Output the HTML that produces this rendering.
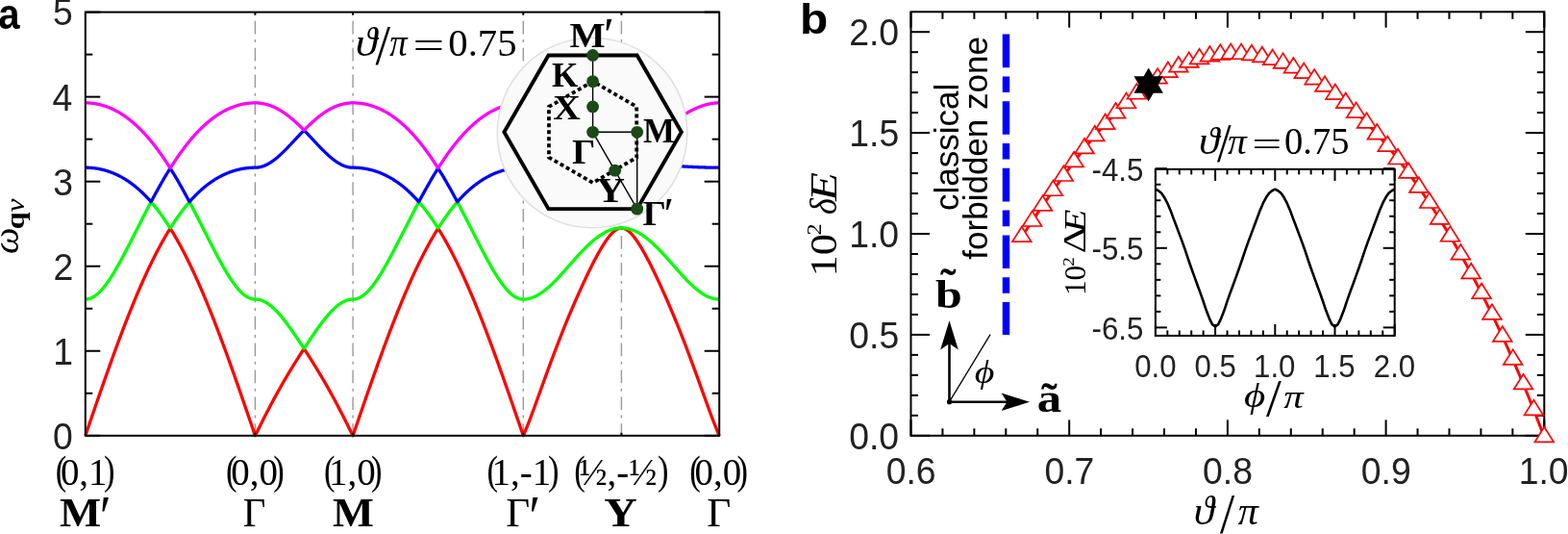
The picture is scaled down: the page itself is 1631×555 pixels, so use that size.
<!DOCTYPE html><html><head><meta charset="utf-8"><title>Figure</title><style>html,body{margin:0;padding:0;background:#fff;width:1631px;height:555px;overflow:hidden}svg{display:block}</style></head><body>
<svg width="1631" height="555" viewBox="0 0 1631 555">
<rect x="0" y="0" width="1631" height="555" fill="#fff"/>
<line x1="265.4" y1="13.6" x2="265.4" y2="452.8" stroke="#9a9a9a" stroke-width="1.4" stroke-dasharray="13.7 5.5 3 5.7" stroke-dashoffset="19.7"/>
<line x1="367.1" y1="13.6" x2="367.1" y2="452.8" stroke="#9a9a9a" stroke-width="1.4" stroke-dasharray="13.7 5.5 3 5.7" stroke-dashoffset="19.7"/>
<line x1="544.3" y1="13.6" x2="544.3" y2="452.8" stroke="#9a9a9a" stroke-width="1.4" stroke-dasharray="13.7 5.5 3 5.7" stroke-dashoffset="19.7"/>
<line x1="646.4" y1="13.6" x2="646.4" y2="452.8" stroke="#9a9a9a" stroke-width="1.4" stroke-dasharray="13.7 5.5 3 5.7" stroke-dashoffset="19.7"/>
<g fill="none" stroke-width="3.3" stroke-linejoin="round" stroke-linecap="butt">
<path d="M88.8 452.8 L89.24 451.51 L89.69 450.21 L90.13 448.92 L90.57 447.62 L91.01 446.33 L91.46 445.03 L91.9 443.74 L92.34 442.44 L92.78 441.15 L93.23 439.86 L93.67 438.56 L94.11 437.27 L94.55 435.98 L95 434.69 L95.44 433.4 L95.88 432.11 L96.32 430.82 L96.77 429.53 L97.21 428.24 L97.65 426.95 L98.09 425.66 L98.54 424.38 L98.98 423.09 L99.42 421.81 L99.87 420.52 L100.31 419.24 L100.75 417.96 L101.19 416.68 L101.64 415.4 L102.08 414.12 L102.52 412.84 L102.96 411.57 L103.41 410.29 L103.85 409.02 L104.29 407.74 L104.73 406.47 L105.18 405.2 L105.62 403.93 L106.06 402.66 L106.5 401.4 L106.95 400.13 L107.39 398.87 L107.83 397.61 L108.27 396.35 L108.72 395.09 L109.16 393.83 L109.6 392.58 L110.05 391.32 L110.49 390.07 L110.93 388.82 L111.37 387.57 L111.82 386.33 L112.26 385.08 L112.7 383.84 L113.14 382.6 L113.59 381.36 L114.03 380.12 L114.47 378.89 L114.91 377.66 L115.36 376.43 L115.8 375.2 L116.24 373.97 L116.68 372.75 L117.13 371.52 L117.57 370.31 L118.01 369.09 L118.45 367.87 L118.9 366.66 L119.34 365.45 L119.78 364.24 L120.23 363.04 L120.67 361.83 L121.11 360.63 L121.55 359.44 L122 358.24 L122.44 357.05 L122.88 355.86 L123.32 354.67 L123.77 353.49 L124.21 352.3 L124.65 351.13 L125.09 349.95 L125.54 348.78 L125.98 347.6 L126.42 346.44 L126.86 345.27 L127.31 344.11 L127.75 342.95 L128.19 341.79 L128.63 340.64 L129.08 339.49 L129.52 338.34 L129.96 337.2 L130.41 336.06 L130.85 334.92 L131.29 333.79 L131.73 332.66 L132.18 331.53 L132.62 330.4 L133.06 329.28 L133.5 328.16 L133.95 327.05 L134.39 325.94 L134.83 324.83 L135.27 323.72 L135.72 322.62 L136.16 321.52 L136.6 320.43 L137.04 319.34 L137.49 318.25 L137.93 317.17 L138.37 316.09 L138.81 315.01 L139.26 313.94 L139.7 312.87 L140.14 311.8 L140.58 310.74 L141.03 309.68 L141.47 308.63 L141.91 307.57 L142.36 306.53 L142.8 305.48 L143.24 304.44 L143.68 303.41 L144.13 302.38 L144.57 301.35 L145.01 300.32 L145.45 299.3 L145.9 298.29 L146.34 297.27 L146.78 296.26 L147.22 295.26 L147.67 294.26 L148.11 293.26 L148.55 292.27 L148.99 291.28 L149.44 290.29 L149.88 289.31 L150.32 288.34 L150.76 287.36 L151.21 286.4 L151.65 285.43 L152.09 284.47 L152.54 283.52 L152.98 282.56 L153.42 281.62 L153.86 280.67 L154.31 279.73 L154.75 278.8 L155.19 277.87 L155.63 276.94 L156.08 276.02 L156.52 275.1 L156.96 274.19 L157.4 273.28 L157.85 272.37 L158.29 271.47 L158.73 270.57 L159.17 269.68 L159.62 268.79 L160.06 267.91 L160.5 267.03 L160.94 266.16 L161.39 265.29 L161.83 264.42 L162.27 263.56 L162.72 262.7 L163.16 261.85 L163.6 261 L164.04 260.16 L164.49 259.32 L164.93 258.48 L165.37 257.65 L165.81 256.82 L166.26 256 L166.7 255.19 L167.14 254.37 L167.58 253.56 L168.03 252.76 L168.47 251.96 L168.91 251.17 L169.35 250.38 L169.8 249.59 L170.24 248.81 L170.68 248.03 L171.12 247.26 L171.57 246.49 L172.01 245.73 L172.45 244.97 L172.9 244.22 L173.34 243.47 L173.78 242.72 L174.22 241.98 L174.67 241.25 L175.11 240.51 L175.55 239.79 L175.99 239.06 L176.44 238.35 L176.88 237.63 L177.32 237.63 L177.76 238.35 L178.21 239.06 L178.65 239.79 L179.09 240.51 L179.53 241.25 L179.98 241.98 L180.42 242.72 L180.86 243.47 L181.3 244.22 L181.75 244.97 L182.19 245.73 L182.63 246.49 L183.08 247.26 L183.52 248.03 L183.96 248.81 L184.4 249.59 L184.85 250.38 L185.29 251.17 L185.73 251.96 L186.17 252.76 L186.62 253.56 L187.06 254.37 L187.5 255.19 L187.94 256 L188.39 256.82 L188.83 257.65 L189.27 258.48 L189.71 259.32 L190.16 260.16 L190.6 261 L191.04 261.85 L191.48 262.7 L191.93 263.56 L192.37 264.42 L192.81 265.29 L193.26 266.16 L193.7 267.03 L194.14 267.91 L194.58 268.79 L195.03 269.68 L195.47 270.57 L195.91 271.47 L196.35 272.37 L196.8 273.28 L197.24 274.19 L197.68 275.1 L198.12 276.02 L198.57 276.94 L199.01 277.87 L199.45 278.8 L199.89 279.73 L200.34 280.67 L200.78 281.62 L201.22 282.56 L201.66 283.52 L202.11 284.47 L202.55 285.43 L202.99 286.4 L203.44 287.36 L203.88 288.34 L204.32 289.31 L204.76 290.29 L205.21 291.28 L205.65 292.27 L206.09 293.26 L206.53 294.26 L206.98 295.26 L207.42 296.26 L207.86 297.27 L208.3 298.29 L208.75 299.3 L209.19 300.32 L209.63 301.35 L210.07 302.38 L210.52 303.41 L210.96 304.44 L211.4 305.48 L211.84 306.53 L212.29 307.57 L212.73 308.63 L213.17 309.68 L213.62 310.74 L214.06 311.8 L214.5 312.87 L214.94 313.94 L215.39 315.01 L215.83 316.09 L216.27 317.17 L216.71 318.25 L217.16 319.34 L217.6 320.43 L218.04 321.52 L218.48 322.62 L218.93 323.72 L219.37 324.83 L219.81 325.94 L220.25 327.05 L220.7 328.16 L221.14 329.28 L221.58 330.4 L222.02 331.53 L222.47 332.66 L222.91 333.79 L223.35 334.92 L223.79 336.06 L224.24 337.2 L224.68 338.34 L225.12 339.49 L225.57 340.64 L226.01 341.79 L226.45 342.95 L226.89 344.11 L227.34 345.27 L227.78 346.44 L228.22 347.6 L228.66 348.78 L229.11 349.95 L229.55 351.13 L229.99 352.3 L230.43 353.49 L230.88 354.67 L231.32 355.86 L231.76 357.05 L232.2 358.24 L232.65 359.44 L233.09 360.63 L233.53 361.83 L233.97 363.04 L234.42 364.24 L234.86 365.45 L235.3 366.66 L235.75 367.87 L236.19 369.09 L236.63 370.31 L237.07 371.52 L237.52 372.75 L237.96 373.97 L238.4 375.2 L238.84 376.43 L239.29 377.66 L239.73 378.89 L240.17 380.12 L240.61 381.36 L241.06 382.6 L241.5 383.84 L241.94 385.08 L242.38 386.33 L242.83 387.57 L243.27 388.82 L243.71 390.07 L244.15 391.32 L244.6 392.58 L245.04 393.83 L245.48 395.09 L245.93 396.35 L246.37 397.61 L246.81 398.87 L247.25 400.13 L247.7 401.4 L248.14 402.66 L248.58 403.93 L249.02 405.2 L249.47 406.47 L249.91 407.74 L250.35 409.02 L250.79 410.29 L251.24 411.57 L251.68 412.84 L252.12 414.12 L252.56 415.4 L253.01 416.68 L253.45 417.96 L253.89 419.24 L254.33 420.52 L254.78 421.81 L255.22 423.09 L255.66 424.38 L256.11 425.66 L256.55 426.95 L256.99 428.24 L257.43 429.53 L257.88 430.82 L258.32 432.11 L258.76 433.4 L259.2 434.69 L259.65 435.98 L260.09 437.27 L260.53 438.56 L260.97 439.86 L261.42 441.15 L261.86 442.44 L262.3 443.74 L262.74 445.03 L263.19 446.33 L263.63 447.62 L264.07 448.92 L264.51 450.21 L264.96 451.51 L265.4 452.8 L265.65 452.29 L265.91 451.78 L266.16 451.27 L266.42 450.76 L266.67 450.25 L266.93 449.74 L267.18 449.23 L267.44 448.73 L267.69 448.22 L267.95 447.71 L268.2 447.2 L268.46 446.69 L268.71 446.18 L268.97 445.67 L269.22 445.17 L269.48 444.66 L269.73 444.15 L269.99 443.64 L270.24 443.14 L270.5 442.63 L270.75 442.12 L271.01 441.62 L271.26 441.11 L271.52 440.61 L271.77 440.1 L272.03 439.6 L272.28 439.09 L272.54 438.59 L272.79 438.08 L273.05 437.58 L273.3 437.08 L273.56 436.58 L273.81 436.07 L274.07 435.57 L274.32 435.07 L274.58 434.57 L274.83 434.07 L275.09 433.57 L275.34 433.07 L275.6 432.57 L275.85 432.08 L276.11 431.58 L276.36 431.08 L276.62 430.59 L276.87 430.09 L277.12 429.6 L277.38 429.1 L277.63 428.61 L277.89 428.11 L278.14 427.62 L278.4 427.13 L278.65 426.64 L278.91 426.15 L279.16 425.66 L279.42 425.17 L279.67 424.68 L279.93 424.19 L280.18 423.71 L280.44 423.22 L280.69 422.73 L280.95 422.25 L281.2 421.77 L281.46 421.28 L281.71 420.8 L281.97 420.32 L282.22 419.84 L282.48 419.36 L282.73 418.88 L282.99 418.4 L283.24 417.92 L283.5 417.44 L283.75 416.97 L284.01 416.49 L284.26 416.02 L284.52 415.54 L284.77 415.07 L285.03 414.6 L285.28 414.13 L285.54 413.66 L285.79 413.19 L286.05 412.72 L286.3 412.25 L286.56 411.78 L286.81 411.31 L287.07 410.85 L287.32 410.38 L287.58 409.92 L287.83 409.46 L288.08 408.99 L288.34 408.53 L288.59 408.07 L288.85 407.61 L289.1 407.15 L289.36 406.7 L289.61 406.24 L289.87 405.78 L290.12 405.33 L290.38 404.87 L290.63 404.42 L290.89 403.97 L291.14 403.51 L291.4 403.06 L291.65 402.61 L291.91 402.16 L292.16 401.71 L292.42 401.27 L292.67 400.82 L292.93 400.37 L293.18 399.93 L293.44 399.48 L293.69 399.04 L293.95 398.6 L294.2 398.15 L294.46 397.71 L294.71 397.27 L294.97 396.83 L295.22 396.39 L295.48 395.96 L295.73 395.52 L295.99 395.08 L296.24 394.65 L296.5 394.21 L296.75 393.78 L297.01 393.34 L297.26 392.91 L297.52 392.48 L297.77 392.05 L298.03 391.62 L298.28 391.19 L298.54 390.76 L298.79 390.33 L299.05 389.9 L299.3 389.48 L299.55 389.05 L299.81 388.62 L300.06 388.2 L300.32 387.77 L300.57 387.35 L300.83 386.93 L301.08 386.51 L301.34 386.08 L301.59 385.66 L301.85 385.24 L302.1 384.82 L302.36 384.4 L302.61 383.99 L302.87 383.57 L303.12 383.15 L303.38 382.74 L303.63 382.32 L303.89 381.9 L304.14 381.49 L304.4 381.07 L304.65 380.66 L304.91 380.25 L305.16 379.84 L305.42 379.42 L305.67 379.01 L305.93 378.6 L306.18 378.19 L306.44 377.78 L306.69 377.37 L306.95 376.96 L307.2 376.55 L307.46 376.15 L307.71 375.74 L307.97 375.33 L308.22 374.93 L308.48 374.52 L308.73 374.12 L308.99 373.71 L309.24 373.31 L309.5 372.9 L309.75 372.5 L310.01 372.1 L310.26 371.69 L310.52 371.29 L310.77 370.89 L311.02 370.49 L311.28 370.09 L311.53 369.69 L311.79 369.29 L312.04 368.89 L312.3 368.49 L312.55 368.09 L312.81 367.69 L313.06 367.29 L313.32 366.89 L313.57 366.5 L313.83 366.1 L314.08 365.71 L314.34 365.31 L314.59 364.91 L314.85 364.52 L315.1 364.12 L315.36 363.73 L315.61 363.34 L315.87 362.94 L316.12 362.55 L316.38 362.55 L316.63 362.94 L316.89 363.34 L317.14 363.73 L317.4 364.12 L317.65 364.52 L317.91 364.91 L318.16 365.31 L318.42 365.71 L318.67 366.1 L318.93 366.5 L319.18 366.89 L319.44 367.29 L319.69 367.69 L319.95 368.09 L320.2 368.49 L320.46 368.89 L320.71 369.29 L320.97 369.69 L321.22 370.09 L321.48 370.49 L321.73 370.89 L321.98 371.29 L322.24 371.69 L322.49 372.1 L322.75 372.5 L323 372.9 L323.26 373.31 L323.51 373.71 L323.77 374.12 L324.02 374.52 L324.28 374.93 L324.53 375.33 L324.79 375.74 L325.04 376.15 L325.3 376.55 L325.55 376.96 L325.81 377.37 L326.06 377.78 L326.32 378.19 L326.57 378.6 L326.83 379.01 L327.08 379.42 L327.34 379.84 L327.59 380.25 L327.85 380.66 L328.1 381.07 L328.36 381.49 L328.61 381.9 L328.87 382.32 L329.12 382.74 L329.38 383.15 L329.63 383.57 L329.89 383.99 L330.14 384.4 L330.4 384.82 L330.65 385.24 L330.91 385.66 L331.16 386.08 L331.42 386.51 L331.67 386.93 L331.93 387.35 L332.18 387.77 L332.44 388.2 L332.69 388.62 L332.95 389.05 L333.2 389.48 L333.45 389.9 L333.71 390.33 L333.96 390.76 L334.22 391.19 L334.47 391.62 L334.73 392.05 L334.98 392.48 L335.24 392.91 L335.49 393.34 L335.75 393.78 L336 394.21 L336.26 394.65 L336.51 395.08 L336.77 395.52 L337.02 395.96 L337.28 396.39 L337.53 396.83 L337.79 397.27 L338.04 397.71 L338.3 398.15 L338.55 398.6 L338.81 399.04 L339.06 399.48 L339.32 399.93 L339.57 400.37 L339.83 400.82 L340.08 401.27 L340.34 401.71 L340.59 402.16 L340.85 402.61 L341.1 403.06 L341.36 403.51 L341.61 403.97 L341.87 404.42 L342.12 404.87 L342.38 405.33 L342.63 405.78 L342.89 406.24 L343.14 406.7 L343.4 407.15 L343.65 407.61 L343.91 408.07 L344.16 408.53 L344.42 408.99 L344.67 409.46 L344.92 409.92 L345.18 410.38 L345.43 410.85 L345.69 411.31 L345.94 411.78 L346.2 412.25 L346.45 412.72 L346.71 413.19 L346.96 413.66 L347.22 414.13 L347.47 414.6 L347.73 415.07 L347.98 415.54 L348.24 416.02 L348.49 416.49 L348.75 416.97 L349 417.44 L349.26 417.92 L349.51 418.4 L349.77 418.88 L350.02 419.36 L350.28 419.84 L350.53 420.32 L350.79 420.8 L351.04 421.28 L351.3 421.77 L351.55 422.25 L351.81 422.73 L352.06 423.22 L352.32 423.71 L352.57 424.19 L352.83 424.68 L353.08 425.17 L353.34 425.66 L353.59 426.15 L353.85 426.64 L354.1 427.13 L354.36 427.62 L354.61 428.11 L354.87 428.61 L355.12 429.1 L355.38 429.6 L355.63 430.09 L355.88 430.59 L356.14 431.08 L356.39 431.58 L356.65 432.08 L356.9 432.57 L357.16 433.07 L357.41 433.57 L357.67 434.07 L357.92 434.57 L358.18 435.07 L358.43 435.57 L358.69 436.07 L358.94 436.58 L359.2 437.08 L359.45 437.58 L359.71 438.08 L359.96 438.59 L360.22 439.09 L360.47 439.6 L360.73 440.1 L360.98 440.61 L361.24 441.11 L361.49 441.62 L361.75 442.12 L362 442.63 L362.26 443.14 L362.51 443.64 L362.77 444.15 L363.02 444.66 L363.28 445.17 L363.53 445.67 L363.79 446.18 L364.04 446.69 L364.3 447.2 L364.55 447.71 L364.81 448.22 L365.06 448.73 L365.32 449.23 L365.57 449.74 L365.83 450.25 L366.08 450.76 L366.34 451.27 L366.59 451.78 L366.85 452.29 L367.1 452.8 L367.54 451.51 L367.99 450.21 L368.43 448.92 L368.88 447.62 L369.32 446.33 L369.76 445.03 L370.21 443.74 L370.65 442.44 L371.1 441.15 L371.54 439.86 L371.99 438.56 L372.43 437.27 L372.87 435.98 L373.32 434.69 L373.76 433.4 L374.21 432.11 L374.65 430.82 L375.09 429.53 L375.54 428.24 L375.98 426.95 L376.43 425.66 L376.87 424.38 L377.31 423.09 L377.76 421.81 L378.2 420.52 L378.65 419.24 L379.09 417.96 L379.54 416.68 L379.98 415.4 L380.42 414.12 L380.87 412.84 L381.31 411.57 L381.76 410.29 L382.2 409.02 L382.64 407.74 L383.09 406.47 L383.53 405.2 L383.98 403.93 L384.42 402.66 L384.86 401.4 L385.31 400.13 L385.75 398.87 L386.2 397.61 L386.64 396.35 L387.08 395.09 L387.53 393.83 L387.97 392.58 L388.42 391.32 L388.86 390.07 L389.31 388.82 L389.75 387.57 L390.19 386.33 L390.64 385.08 L391.08 383.84 L391.53 382.6 L391.97 381.36 L392.41 380.12 L392.86 378.89 L393.3 377.66 L393.75 376.43 L394.19 375.2 L394.63 373.97 L395.08 372.75 L395.52 371.52 L395.97 370.31 L396.41 369.09 L396.86 367.87 L397.3 366.66 L397.74 365.45 L398.19 364.24 L398.63 363.04 L399.08 361.83 L399.52 360.63 L399.96 359.44 L400.41 358.24 L400.85 357.05 L401.3 355.86 L401.74 354.67 L402.18 353.49 L402.63 352.3 L403.07 351.13 L403.52 349.95 L403.96 348.78 L404.41 347.6 L404.85 346.44 L405.29 345.27 L405.74 344.11 L406.18 342.95 L406.63 341.79 L407.07 340.64 L407.51 339.49 L407.96 338.34 L408.4 337.2 L408.85 336.06 L409.29 334.92 L409.73 333.79 L410.18 332.66 L410.62 331.53 L411.07 330.4 L411.51 329.28 L411.96 328.16 L412.4 327.05 L412.84 325.94 L413.29 324.83 L413.73 323.72 L414.18 322.62 L414.62 321.52 L415.06 320.43 L415.51 319.34 L415.95 318.25 L416.4 317.17 L416.84 316.09 L417.28 315.01 L417.73 313.94 L418.17 312.87 L418.62 311.8 L419.06 310.74 L419.51 309.68 L419.95 308.63 L420.39 307.57 L420.84 306.53 L421.28 305.48 L421.73 304.44 L422.17 303.41 L422.61 302.38 L423.06 301.35 L423.5 300.32 L423.95 299.3 L424.39 298.29 L424.83 297.27 L425.28 296.26 L425.72 295.26 L426.17 294.26 L426.61 293.26 L427.05 292.27 L427.5 291.28 L427.94 290.29 L428.39 289.31 L428.83 288.34 L429.28 287.36 L429.72 286.4 L430.16 285.43 L430.61 284.47 L431.05 283.52 L431.5 282.56 L431.94 281.62 L432.38 280.67 L432.83 279.73 L433.27 278.8 L433.72 277.87 L434.16 276.94 L434.6 276.02 L435.05 275.1 L435.49 274.19 L435.94 273.28 L436.38 272.37 L436.83 271.47 L437.27 270.57 L437.71 269.68 L438.16 268.79 L438.6 267.91 L439.05 267.03 L439.49 266.16 L439.93 265.29 L440.38 264.42 L440.82 263.56 L441.27 262.7 L441.71 261.85 L442.15 261 L442.6 260.16 L443.04 259.32 L443.49 258.48 L443.93 257.65 L444.38 256.82 L444.82 256 L445.26 255.19 L445.71 254.37 L446.15 253.56 L446.6 252.76 L447.04 251.96 L447.48 251.17 L447.93 250.38 L448.37 249.59 L448.82 248.81 L449.26 248.03 L449.7 247.26 L450.15 246.49 L450.59 245.73 L451.04 244.97 L451.48 244.22 L451.93 243.47 L452.37 242.72 L452.81 241.98 L453.26 241.25 L453.7 240.51 L454.15 239.79 L454.59 239.06 L455.03 238.35 L455.48 237.63 L455.92 237.63 L456.37 238.35 L456.81 239.06 L457.25 239.79 L457.7 240.51 L458.14 241.25 L458.59 241.98 L459.03 242.72 L459.47 243.47 L459.92 244.22 L460.36 244.97 L460.81 245.73 L461.25 246.49 L461.7 247.26 L462.14 248.03 L462.58 248.81 L463.03 249.59 L463.47 250.38 L463.92 251.17 L464.36 251.96 L464.8 252.76 L465.25 253.56 L465.69 254.37 L466.14 255.19 L466.58 256 L467.02 256.82 L467.47 257.65 L467.91 258.48 L468.36 259.32 L468.8 260.16 L469.25 261 L469.69 261.85 L470.13 262.7 L470.58 263.56 L471.02 264.42 L471.47 265.29 L471.91 266.16 L472.35 267.03 L472.8 267.91 L473.24 268.79 L473.69 269.68 L474.13 270.57 L474.57 271.47 L475.02 272.37 L475.46 273.28 L475.91 274.19 L476.35 275.1 L476.8 276.02 L477.24 276.94 L477.68 277.87 L478.13 278.8 L478.57 279.73 L479.02 280.67 L479.46 281.62 L479.9 282.56 L480.35 283.52 L480.79 284.47 L481.24 285.43 L481.68 286.4 L482.12 287.36 L482.57 288.34 L483.01 289.31 L483.46 290.29 L483.9 291.28 L484.35 292.27 L484.79 293.26 L485.23 294.26 L485.68 295.26 L486.12 296.26 L486.57 297.27 L487.01 298.29 L487.45 299.3 L487.9 300.32 L488.34 301.35 L488.79 302.38 L489.23 303.41 L489.67 304.44 L490.12 305.48 L490.56 306.53 L491.01 307.57 L491.45 308.63 L491.89 309.68 L492.34 310.74 L492.78 311.8 L493.23 312.87 L493.67 313.94 L494.12 315.01 L494.56 316.09 L495 317.17 L495.45 318.25 L495.89 319.34 L496.34 320.43 L496.78 321.52 L497.22 322.62 L497.67 323.72 L498.11 324.83 L498.56 325.94 L499 327.05 L499.44 328.16 L499.89 329.28 L500.33 330.4 L500.78 331.53 L501.22 332.66 L501.67 333.79 L502.11 334.92 L502.55 336.06 L503 337.2 L503.44 338.34 L503.89 339.49 L504.33 340.64 L504.77 341.79 L505.22 342.95 L505.66 344.11 L506.11 345.27 L506.55 346.44 L506.99 347.6 L507.44 348.78 L507.88 349.95 L508.33 351.13 L508.77 352.3 L509.22 353.49 L509.66 354.67 L510.1 355.86 L510.55 357.05 L510.99 358.24 L511.44 359.44 L511.88 360.63 L512.32 361.83 L512.77 363.04 L513.21 364.24 L513.66 365.45 L514.1 366.66 L514.54 367.87 L514.99 369.09 L515.43 370.31 L515.88 371.52 L516.32 372.75 L516.77 373.97 L517.21 375.2 L517.65 376.43 L518.1 377.66 L518.54 378.89 L518.99 380.12 L519.43 381.36 L519.87 382.6 L520.32 383.84 L520.76 385.08 L521.21 386.33 L521.65 387.57 L522.09 388.82 L522.54 390.07 L522.98 391.32 L523.43 392.58 L523.87 393.83 L524.32 395.09 L524.76 396.35 L525.2 397.61 L525.65 398.87 L526.09 400.13 L526.54 401.4 L526.98 402.66 L527.42 403.93 L527.87 405.2 L528.31 406.47 L528.76 407.74 L529.2 409.02 L529.64 410.29 L530.09 411.57 L530.53 412.84 L530.98 414.12 L531.42 415.4 L531.86 416.68 L532.31 417.96 L532.75 419.24 L533.2 420.52 L533.64 421.81 L534.09 423.09 L534.53 424.38 L534.97 425.66 L535.42 426.95 L535.86 428.24 L536.31 429.53 L536.75 430.82 L537.19 432.11 L537.64 433.4 L538.08 434.69 L538.53 435.98 L538.97 437.27 L539.41 438.56 L539.86 439.86 L540.3 441.15 L540.75 442.44 L541.19 443.74 L541.64 445.03 L542.08 446.33 L542.52 447.62 L542.97 448.92 L543.41 450.21 L543.86 451.51 L544.3 452.8 L544.56 452.22 L544.81 451.63 L545.07 451.03 L545.32 450.43 L545.58 449.83 L545.84 449.22 L546.09 448.61 L546.35 447.99 L546.6 447.37 L546.86 446.75 L547.11 446.13 L547.37 445.5 L547.63 444.87 L547.88 444.23 L548.14 443.6 L548.39 442.96 L548.65 442.31 L548.91 441.67 L549.16 441.02 L549.42 440.37 L549.67 439.72 L549.93 439.06 L550.19 438.4 L550.44 437.74 L550.7 437.08 L550.95 436.41 L551.21 435.75 L551.46 435.08 L551.72 434.41 L551.98 433.73 L552.23 433.06 L552.49 432.38 L552.74 431.7 L553 431.02 L553.26 430.34 L553.51 429.66 L553.77 428.98 L554.02 428.29 L554.28 427.6 L554.54 426.91 L554.79 426.22 L555.05 425.53 L555.3 424.84 L555.56 424.14 L555.82 423.45 L556.07 422.75 L556.33 422.06 L556.58 421.36 L556.84 420.66 L557.09 419.96 L557.35 419.26 L557.61 418.56 L557.86 417.86 L558.12 417.15 L558.37 416.45 L558.63 415.74 L558.89 415.04 L559.14 414.34 L559.4 413.63 L559.65 412.92 L559.91 412.22 L560.17 411.51 L560.42 410.8 L560.68 410.1 L560.93 409.39 L561.19 408.68 L561.44 407.97 L561.7 407.26 L561.96 406.56 L562.21 405.85 L562.47 405.14 L562.72 404.43 L562.98 403.72 L563.24 403.01 L563.49 402.3 L563.75 401.6 L564 400.89 L564.26 400.18 L564.52 399.47 L564.77 398.76 L565.03 398.06 L565.28 397.35 L565.54 396.64 L565.79 395.94 L566.05 395.23 L566.31 394.53 L566.56 393.82 L566.82 393.11 L567.07 392.41 L567.33 391.71 L567.59 391 L567.84 390.3 L568.1 389.6 L568.35 388.9 L568.61 388.19 L568.87 387.49 L569.12 386.79 L569.38 386.09 L569.63 385.39 L569.89 384.7 L570.14 384 L570.4 383.3 L570.66 382.61 L570.91 381.91 L571.17 381.22 L571.42 380.52 L571.68 379.83 L571.94 379.14 L572.19 378.45 L572.45 377.75 L572.7 377.06 L572.96 376.38 L573.22 375.69 L573.47 375 L573.73 374.31 L573.98 373.63 L574.24 372.94 L574.49 372.26 L574.75 371.58 L575.01 370.89 L575.26 370.21 L575.52 369.53 L575.77 368.85 L576.03 368.18 L576.29 367.5 L576.54 366.82 L576.8 366.15 L577.05 365.47 L577.31 364.8 L577.57 364.13 L577.82 363.46 L578.08 362.79 L578.33 362.12 L578.59 361.45 L578.85 360.78 L579.1 360.12 L579.36 359.45 L579.61 358.79 L579.87 358.12 L580.12 357.46 L580.38 356.8 L580.64 356.14 L580.89 355.48 L581.15 354.83 L581.4 354.17 L581.66 353.51 L581.92 352.86 L582.17 352.21 L582.43 351.55 L582.68 350.9 L582.94 350.25 L583.2 349.6 L583.45 348.96 L583.71 348.31 L583.96 347.66 L584.22 347.02 L584.47 346.38 L584.73 345.73 L584.99 345.09 L585.24 344.45 L585.5 343.81 L585.75 343.17 L586.01 342.54 L586.27 341.9 L586.52 341.27 L586.78 340.63 L587.03 340 L587.29 339.37 L587.55 338.74 L587.8 338.11 L588.06 337.48 L588.31 336.85 L588.57 336.23 L588.82 335.6 L589.08 334.98 L589.34 334.35 L589.59 333.73 L589.85 333.11 L590.1 332.49 L590.36 331.87 L590.62 331.26 L590.87 330.64 L591.13 330.02 L591.38 329.41 L591.64 328.8 L591.9 328.18 L592.15 327.57 L592.41 326.96 L592.66 326.35 L592.92 325.74 L593.17 325.14 L593.43 324.53 L593.69 323.93 L593.94 323.32 L594.2 322.72 L594.45 322.12 L594.71 321.52 L594.97 320.92 L595.22 320.32 L595.48 319.72 L595.73 319.12 L595.99 318.53 L596.25 317.93 L596.5 317.34 L596.76 316.75 L597.01 316.16 L597.27 315.56 L597.53 314.98 L597.78 314.39 L598.04 313.8 L598.29 313.21 L598.55 312.63 L598.8 312.04 L599.06 311.46 L599.32 310.88 L599.57 310.3 L599.83 309.71 L600.08 309.14 L600.34 308.56 L600.6 307.98 L600.85 307.4 L601.11 306.83 L601.36 306.25 L601.62 305.68 L601.88 305.11 L602.13 304.54 L602.39 303.97 L602.64 303.4 L602.9 302.83 L603.15 302.26 L603.41 301.7 L603.67 301.13 L603.92 300.57 L604.18 300 L604.43 299.44 L604.69 298.88 L604.95 298.32 L605.2 297.76 L605.46 297.2 L605.71 296.65 L605.97 296.09 L606.23 295.54 L606.48 294.98 L606.74 294.43 L606.99 293.88 L607.25 293.33 L607.5 292.78 L607.76 292.23 L608.02 291.69 L608.27 291.14 L608.53 290.6 L608.78 290.05 L609.04 289.51 L609.3 288.97 L609.55 288.43 L609.81 287.89 L610.06 287.35 L610.32 286.82 L610.58 286.28 L610.83 285.75 L611.09 285.22 L611.34 284.69 L611.6 284.16 L611.85 283.63 L612.11 283.1 L612.37 282.57 L612.62 282.05 L612.88 281.53 L613.13 281 L613.39 280.48 L613.65 279.96 L613.9 279.45 L614.16 278.93 L614.41 278.41 L614.67 277.9 L614.93 277.39 L615.18 276.88 L615.44 276.37 L615.69 275.86 L615.95 275.35 L616.21 274.85 L616.46 274.35 L616.72 273.85 L616.97 273.35 L617.23 272.85 L617.48 272.35 L617.74 271.86 L618 271.36 L618.25 270.87 L618.51 270.38 L618.76 269.9 L619.02 269.41 L619.28 268.93 L619.53 268.44 L619.79 267.96 L620.04 267.48 L620.3 267.01 L620.56 266.53 L620.81 266.06 L621.07 265.59 L621.32 265.12 L621.58 264.66 L621.83 264.19 L622.09 263.73 L622.35 263.27 L622.6 262.81 L622.86 262.36 L623.11 261.9 L623.37 261.45 L623.63 261.01 L623.88 260.56 L624.14 260.12 L624.39 259.68 L624.65 259.24 L624.91 258.8 L625.16 258.37 L625.42 257.94 L625.67 257.51 L625.93 257.08 L626.18 256.66 L626.44 256.24 L626.7 255.82 L626.95 255.41 L627.21 255 L627.46 254.59 L627.72 254.19 L627.98 253.79 L628.23 253.39 L628.49 252.99 L628.74 252.6 L629 252.21 L629.26 251.82 L629.51 251.44 L629.77 251.06 L630.02 250.69 L630.28 250.32 L630.53 249.95 L630.79 249.58 L631.05 249.22 L631.3 248.86 L631.56 248.51 L631.81 248.16 L632.07 247.82 L632.33 247.47 L632.58 247.14 L632.84 246.8 L633.09 246.47 L633.35 246.15 L633.61 245.83 L633.86 245.51 L634.12 245.2 L634.37 244.89 L634.63 244.59 L634.88 244.29 L635.14 244 L635.4 243.71 L635.65 243.43 L635.91 243.15 L636.16 242.87 L636.42 242.6 L636.68 242.34 L636.93 242.08 L637.19 241.83 L637.44 241.58 L637.7 241.34 L637.96 241.1 L638.21 240.87 L638.47 240.64 L638.72 240.43 L638.98 240.21 L639.24 240 L639.49 239.8 L639.75 239.61 L640 239.42 L640.26 239.23 L640.51 239.05 L640.77 238.88 L641.03 238.72 L641.28 238.56 L641.54 238.41 L641.79 238.27 L642.05 238.13 L642.31 238 L642.56 237.88 L642.82 237.76 L643.07 237.65 L643.33 237.55 L643.59 237.46 L643.84 237.37 L644.1 237.29 L644.35 237.22 L644.61 237.16 L644.86 237.11 L645.12 237.06 L645.38 237.02 L645.63 236.99 L645.89 236.97 L646.14 236.96 L646.4 236.95 L646.66 236.96 L646.91 236.97 L647.17 236.99 L647.42 237.02 L647.68 237.06 L647.93 237.11 L648.19 237.16 L648.44 237.22 L648.7 237.29 L648.95 237.37 L649.21 237.46 L649.46 237.55 L649.72 237.65 L649.97 237.76 L650.23 237.88 L650.48 238 L650.74 238.13 L650.99 238.27 L651.25 238.41 L651.5 238.56 L651.76 238.72 L652.01 238.88 L652.27 239.05 L652.52 239.23 L652.78 239.42 L653.03 239.61 L653.29 239.8 L653.54 240 L653.8 240.21 L654.05 240.43 L654.31 240.64 L654.56 240.87 L654.82 241.1 L655.07 241.34 L655.33 241.58 L655.58 241.83 L655.84 242.08 L656.1 242.34 L656.35 242.6 L656.61 242.87 L656.86 243.15 L657.12 243.43 L657.37 243.71 L657.63 244 L657.88 244.29 L658.14 244.59 L658.39 244.89 L658.65 245.2 L658.9 245.51 L659.16 245.83 L659.41 246.15 L659.67 246.47 L659.92 246.8 L660.18 247.14 L660.43 247.47 L660.69 247.82 L660.94 248.16 L661.2 248.51 L661.45 248.86 L661.71 249.22 L661.96 249.58 L662.22 249.95 L662.47 250.32 L662.73 250.69 L662.98 251.06 L663.24 251.44 L663.49 251.82 L663.75 252.21 L664 252.6 L664.26 252.99 L664.51 253.39 L664.77 253.79 L665.03 254.19 L665.28 254.59 L665.54 255 L665.79 255.41 L666.05 255.82 L666.3 256.24 L666.56 256.66 L666.81 257.08 L667.07 257.51 L667.32 257.94 L667.58 258.37 L667.83 258.8 L668.09 259.24 L668.34 259.68 L668.6 260.12 L668.85 260.56 L669.11 261.01 L669.36 261.45 L669.62 261.9 L669.87 262.36 L670.13 262.81 L670.38 263.27 L670.64 263.73 L670.89 264.19 L671.15 264.66 L671.4 265.12 L671.66 265.59 L671.91 266.06 L672.17 266.53 L672.42 267.01 L672.68 267.48 L672.93 267.96 L673.19 268.44 L673.44 268.93 L673.7 269.41 L673.95 269.9 L674.21 270.38 L674.47 270.87 L674.72 271.36 L674.98 271.86 L675.23 272.35 L675.49 272.85 L675.74 273.35 L676 273.85 L676.25 274.35 L676.51 274.85 L676.76 275.35 L677.02 275.86 L677.27 276.37 L677.53 276.88 L677.78 277.39 L678.04 277.9 L678.29 278.41 L678.55 278.93 L678.8 279.45 L679.06 279.96 L679.31 280.48 L679.57 281 L679.82 281.53 L680.08 282.05 L680.33 282.57 L680.59 283.1 L680.84 283.63 L681.1 284.16 L681.35 284.69 L681.61 285.22 L681.86 285.75 L682.12 286.28 L682.37 286.82 L682.63 287.35 L682.88 287.89 L683.14 288.43 L683.39 288.97 L683.65 289.51 L683.91 290.05 L684.16 290.6 L684.42 291.14 L684.67 291.69 L684.93 292.23 L685.18 292.78 L685.44 293.33 L685.69 293.88 L685.95 294.43 L686.2 294.98 L686.46 295.54 L686.71 296.09 L686.97 296.65 L687.22 297.2 L687.48 297.76 L687.73 298.32 L687.99 298.88 L688.24 299.44 L688.5 300 L688.75 300.57 L689.01 301.13 L689.26 301.7 L689.52 302.26 L689.77 302.83 L690.03 303.4 L690.28 303.97 L690.54 304.54 L690.79 305.11 L691.05 305.68 L691.3 306.25 L691.56 306.83 L691.81 307.4 L692.07 307.98 L692.32 308.56 L692.58 309.14 L692.84 309.71 L693.09 310.3 L693.35 310.88 L693.6 311.46 L693.86 312.04 L694.11 312.63 L694.37 313.21 L694.62 313.8 L694.88 314.39 L695.13 314.98 L695.39 315.56 L695.64 316.16 L695.9 316.75 L696.15 317.34 L696.41 317.93 L696.66 318.53 L696.92 319.12 L697.17 319.72 L697.43 320.32 L697.68 320.92 L697.94 321.52 L698.19 322.12 L698.45 322.72 L698.7 323.32 L698.96 323.93 L699.21 324.53 L699.47 325.14 L699.72 325.74 L699.98 326.35 L700.23 326.96 L700.49 327.57 L700.74 328.18 L701 328.8 L701.25 329.41 L701.51 330.02 L701.76 330.64 L702.02 331.26 L702.28 331.87 L702.53 332.49 L702.79 333.11 L703.04 333.73 L703.3 334.35 L703.55 334.98 L703.81 335.6 L704.06 336.23 L704.32 336.85 L704.57 337.48 L704.83 338.11 L705.08 338.74 L705.34 339.37 L705.59 340 L705.85 340.63 L706.1 341.27 L706.36 341.9 L706.61 342.54 L706.87 343.17 L707.12 343.81 L707.38 344.45 L707.63 345.09 L707.89 345.73 L708.14 346.38 L708.4 347.02 L708.65 347.66 L708.91 348.31 L709.16 348.96 L709.42 349.6 L709.67 350.25 L709.93 350.9 L710.18 351.55 L710.44 352.21 L710.69 352.86 L710.95 353.51 L711.21 354.17 L711.46 354.83 L711.72 355.48 L711.97 356.14 L712.23 356.8 L712.48 357.46 L712.74 358.12 L712.99 358.79 L713.25 359.45 L713.5 360.12 L713.76 360.78 L714.01 361.45 L714.27 362.12 L714.52 362.79 L714.78 363.46 L715.03 364.13 L715.29 364.8 L715.54 365.47 L715.8 366.15 L716.05 366.82 L716.31 367.5 L716.56 368.18 L716.82 368.85 L717.07 369.53 L717.33 370.21 L717.58 370.89 L717.84 371.58 L718.09 372.26 L718.35 372.94 L718.6 373.63 L718.86 374.31 L719.11 375 L719.37 375.69 L719.62 376.38 L719.88 377.06 L720.13 377.75 L720.39 378.45 L720.65 379.14 L720.9 379.83 L721.16 380.52 L721.41 381.22 L721.67 381.91 L721.92 382.61 L722.18 383.3 L722.43 384 L722.69 384.7 L722.94 385.39 L723.2 386.09 L723.45 386.79 L723.71 387.49 L723.96 388.19 L724.22 388.9 L724.47 389.6 L724.73 390.3 L724.98 391 L725.24 391.71 L725.49 392.41 L725.75 393.11 L726 393.82 L726.26 394.53 L726.51 395.23 L726.77 395.94 L727.02 396.64 L727.28 397.35 L727.53 398.06 L727.79 398.76 L728.04 399.47 L728.3 400.18 L728.55 400.89 L728.81 401.6 L729.06 402.3 L729.32 403.01 L729.57 403.72 L729.83 404.43 L730.09 405.14 L730.34 405.85 L730.6 406.56 L730.85 407.26 L731.11 407.97 L731.36 408.68 L731.62 409.39 L731.87 410.1 L732.13 410.8 L732.38 411.51 L732.64 412.22 L732.89 412.92 L733.15 413.63 L733.4 414.34 L733.66 415.04 L733.91 415.74 L734.17 416.45 L734.42 417.15 L734.68 417.86 L734.93 418.56 L735.19 419.26 L735.44 419.96 L735.7 420.66 L735.95 421.36 L736.21 422.06 L736.46 422.75 L736.72 423.45 L736.97 424.14 L737.23 424.84 L737.48 425.53 L737.74 426.22 L737.99 426.91 L738.25 427.6 L738.5 428.29 L738.76 428.98 L739.02 429.66 L739.27 430.34 L739.53 431.02 L739.78 431.7 L740.04 432.38 L740.29 433.06 L740.55 433.73 L740.8 434.41 L741.06 435.08 L741.31 435.75 L741.57 436.41 L741.82 437.08 L742.08 437.74 L742.33 438.4 L742.59 439.06 L742.84 439.72 L743.1 440.37 L743.35 441.02 L743.61 441.67 L743.86 442.31 L744.12 442.96 L744.37 443.6 L744.63 444.23 L744.88 444.87 L745.14 445.5 L745.39 446.13 L745.65 446.75 L745.9 447.37 L746.16 447.99 L746.41 448.61 L746.67 449.22 L746.92 449.83 L747.18 450.43 L747.43 451.03 L747.69 451.63 L747.94 452.22 L748.2 452.8" stroke="#ff0000"/>
<path d="M88.8 311.06 L89.24 311.05 L89.69 311.03 L90.13 310.99 L90.57 310.95 L91.01 310.88 L91.46 310.8 L91.9 310.71 L92.34 310.61 L92.78 310.49 L93.23 310.36 L93.67 310.21 L94.11 310.05 L94.55 309.87 L95 309.68 L95.44 309.48 L95.88 309.27 L96.32 309.04 L96.77 308.8 L97.21 308.54 L97.65 308.27 L98.09 307.99 L98.54 307.7 L98.98 307.39 L99.42 307.07 L99.87 306.74 L100.31 306.39 L100.75 306.04 L101.19 305.67 L101.64 305.28 L102.08 304.89 L102.52 304.49 L102.96 304.07 L103.41 303.64 L103.85 303.2 L104.29 302.75 L104.73 302.29 L105.18 301.81 L105.62 301.33 L106.06 300.83 L106.5 300.33 L106.95 299.81 L107.39 299.29 L107.83 298.75 L108.27 298.21 L108.72 297.65 L109.16 297.09 L109.6 296.51 L110.05 295.93 L110.49 295.34 L110.93 294.74 L111.37 294.12 L111.82 293.51 L112.26 292.88 L112.7 292.24 L113.14 291.6 L113.59 290.95 L114.03 290.29 L114.47 289.62 L114.91 288.95 L115.36 288.27 L115.8 287.58 L116.24 286.88 L116.68 286.18 L117.13 285.47 L117.57 284.76 L118.01 284.03 L118.45 283.31 L118.9 282.57 L119.34 281.83 L119.78 281.09 L120.23 280.33 L120.67 279.58 L121.11 278.82 L121.55 278.05 L122 277.28 L122.44 276.5 L122.88 275.72 L123.32 274.93 L123.77 274.14 L124.21 273.34 L124.65 272.54 L125.09 271.74 L125.54 270.93 L125.98 270.12 L126.42 269.31 L126.86 268.49 L127.31 267.67 L127.75 266.84 L128.19 266.01 L128.63 265.18 L129.08 264.35 L129.52 263.51 L129.96 262.67 L130.41 261.83 L130.85 260.98 L131.29 260.14 L131.73 259.29 L132.18 258.44 L132.62 257.58 L133.06 256.73 L133.5 255.87 L133.95 255.01 L134.39 254.15 L134.83 253.29 L135.27 252.43 L135.72 251.56 L136.16 250.7 L136.6 249.83 L137.04 248.96 L137.49 248.09 L137.93 247.22 L138.37 246.35 L138.81 245.48 L139.26 244.61 L139.7 243.74 L140.14 242.86 L140.58 241.99 L141.03 241.12 L141.47 240.24 L141.91 239.37 L142.36 238.5 L142.8 237.62 L143.24 236.75 L143.68 235.88 L144.13 235.01 L144.57 234.13 L145.01 233.26 L145.45 232.39 L145.9 231.52 L146.34 230.65 L146.78 229.78 L147.22 228.91 L147.67 228.05 L148.11 227.18 L148.55 226.31 L148.99 225.45 L149.44 224.59 L149.88 223.72 L150.32 222.86 L150.76 222 L151.21 221.14 L151.65 220.29 L152.09 219.43 L152.54 218.58 L152.98 217.73 L153.42 216.88 L153.86 216.03 L154.31 215.18 L154.75 214.33 L155.19 213.49 L155.63 212.65 L156.08 211.81 L156.52 210.97 L156.96 210.13 L157.4 210.17 L157.85 210.68 L158.29 211.2 L158.73 211.72 L159.17 212.25 L159.62 212.78 L160.06 213.31 L160.5 213.85 L160.94 214.4 L161.39 214.95 L161.83 215.5 L162.27 216.06 L162.72 216.62 L163.16 217.18 L163.6 217.75 L164.04 218.33 L164.49 218.91 L164.93 219.49 L165.37 220.08 L165.81 220.67 L166.26 221.26 L166.7 221.87 L167.14 222.47 L167.58 223.08 L168.03 223.7 L168.47 224.31 L168.91 224.94 L169.35 225.56 L169.8 226.2 L170.24 226.83 L170.68 227.47 L171.12 228.12 L171.57 228.77 L172.01 229.43 L172.45 230.08 L172.9 230.75 L173.34 231.42 L173.78 232.09 L174.22 232.77 L174.67 233.45 L175.11 234.13 L175.55 234.82 L175.99 235.52 L176.44 236.22 L176.88 236.92 L177.32 236.92 L177.76 236.22 L178.21 235.52 L178.65 234.82 L179.09 234.13 L179.53 233.45 L179.98 232.77 L180.42 232.09 L180.86 231.42 L181.3 230.75 L181.75 230.08 L182.19 229.43 L182.63 228.77 L183.08 228.12 L183.52 227.47 L183.96 226.83 L184.4 226.2 L184.85 225.56 L185.29 224.94 L185.73 224.31 L186.17 223.7 L186.62 223.08 L187.06 222.47 L187.5 221.87 L187.94 221.26 L188.39 220.67 L188.83 220.08 L189.27 219.49 L189.71 218.91 L190.16 218.33 L190.6 217.75 L191.04 217.18 L191.48 216.62 L191.93 216.06 L192.37 215.5 L192.81 214.95 L193.26 214.4 L193.7 213.85 L194.14 213.31 L194.58 212.78 L195.03 212.25 L195.47 211.72 L195.91 211.2 L196.35 210.68 L196.8 210.17 L197.24 210.13 L197.68 210.97 L198.12 211.81 L198.57 212.65 L199.01 213.49 L199.45 214.33 L199.89 215.18 L200.34 216.03 L200.78 216.88 L201.22 217.73 L201.66 218.58 L202.11 219.43 L202.55 220.29 L202.99 221.14 L203.44 222 L203.88 222.86 L204.32 223.72 L204.76 224.59 L205.21 225.45 L205.65 226.31 L206.09 227.18 L206.53 228.05 L206.98 228.91 L207.42 229.78 L207.86 230.65 L208.3 231.52 L208.75 232.39 L209.19 233.26 L209.63 234.13 L210.07 235.01 L210.52 235.88 L210.96 236.75 L211.4 237.62 L211.84 238.5 L212.29 239.37 L212.73 240.24 L213.17 241.12 L213.62 241.99 L214.06 242.86 L214.5 243.74 L214.94 244.61 L215.39 245.48 L215.83 246.35 L216.27 247.22 L216.71 248.09 L217.16 248.96 L217.6 249.83 L218.04 250.7 L218.48 251.56 L218.93 252.43 L219.37 253.29 L219.81 254.15 L220.25 255.01 L220.7 255.87 L221.14 256.73 L221.58 257.58 L222.02 258.44 L222.47 259.29 L222.91 260.14 L223.35 260.98 L223.79 261.83 L224.24 262.67 L224.68 263.51 L225.12 264.35 L225.57 265.18 L226.01 266.01 L226.45 266.84 L226.89 267.67 L227.34 268.49 L227.78 269.31 L228.22 270.12 L228.66 270.93 L229.11 271.74 L229.55 272.54 L229.99 273.34 L230.43 274.14 L230.88 274.93 L231.32 275.72 L231.76 276.5 L232.2 277.28 L232.65 278.05 L233.09 278.82 L233.53 279.58 L233.97 280.33 L234.42 281.09 L234.86 281.83 L235.3 282.57 L235.75 283.31 L236.19 284.03 L236.63 284.76 L237.07 285.47 L237.52 286.18 L237.96 286.88 L238.4 287.58 L238.84 288.27 L239.29 288.95 L239.73 289.62 L240.17 290.29 L240.61 290.95 L241.06 291.6 L241.5 292.24 L241.94 292.88 L242.38 293.51 L242.83 294.12 L243.27 294.74 L243.71 295.34 L244.15 295.93 L244.6 296.51 L245.04 297.09 L245.48 297.65 L245.93 298.21 L246.37 298.75 L246.81 299.29 L247.25 299.81 L247.7 300.33 L248.14 300.83 L248.58 301.33 L249.02 301.81 L249.47 302.29 L249.91 302.75 L250.35 303.2 L250.79 303.64 L251.24 304.07 L251.68 304.49 L252.12 304.89 L252.56 305.28 L253.01 305.67 L253.45 306.04 L253.89 306.39 L254.33 306.74 L254.78 307.07 L255.22 307.39 L255.66 307.7 L256.11 307.99 L256.55 308.27 L256.99 308.54 L257.43 308.8 L257.88 309.04 L258.32 309.27 L258.76 309.48 L259.2 309.68 L259.65 309.87 L260.09 310.05 L260.53 310.21 L260.97 310.36 L261.42 310.49 L261.86 310.61 L262.3 310.71 L262.74 310.8 L263.19 310.88 L263.63 310.95 L264.07 310.99 L264.51 311.03 L264.96 311.05 L265.4 311.06 L265.65 311.06 L265.91 311.07 L266.16 311.07 L266.42 311.09 L266.67 311.1 L266.93 311.12 L267.18 311.14 L267.44 311.17 L267.69 311.2 L267.95 311.23 L268.2 311.27 L268.46 311.31 L268.71 311.35 L268.97 311.4 L269.22 311.45 L269.48 311.5 L269.73 311.56 L269.99 311.62 L270.24 311.68 L270.5 311.75 L270.75 311.82 L271.01 311.89 L271.26 311.97 L271.52 312.05 L271.77 312.13 L272.03 312.22 L272.28 312.31 L272.54 312.41 L272.79 312.5 L273.05 312.6 L273.3 312.71 L273.56 312.82 L273.81 312.93 L274.07 313.04 L274.32 313.16 L274.58 313.28 L274.83 313.4 L275.09 313.53 L275.34 313.66 L275.6 313.79 L275.85 313.93 L276.11 314.07 L276.36 314.21 L276.62 314.35 L276.87 314.5 L277.12 314.66 L277.38 314.81 L277.63 314.97 L277.89 315.13 L278.14 315.29 L278.4 315.46 L278.65 315.63 L278.91 315.8 L279.16 315.98 L279.42 316.16 L279.67 316.34 L279.93 316.53 L280.18 316.72 L280.44 316.91 L280.69 317.1 L280.95 317.3 L281.2 317.5 L281.46 317.7 L281.71 317.9 L281.97 318.11 L282.22 318.32 L282.48 318.54 L282.73 318.75 L282.99 318.97 L283.24 319.19 L283.5 319.42 L283.75 319.64 L284.01 319.87 L284.26 320.1 L284.52 320.34 L284.77 320.57 L285.03 320.81 L285.28 321.06 L285.54 321.3 L285.79 321.55 L286.05 321.8 L286.3 322.05 L286.56 322.3 L286.81 322.56 L287.07 322.82 L287.32 323.08 L287.58 323.34 L287.83 323.61 L288.08 323.88 L288.34 324.15 L288.59 324.42 L288.85 324.69 L289.1 324.97 L289.36 325.25 L289.61 325.53 L289.87 325.81 L290.12 326.1 L290.38 326.39 L290.63 326.68 L290.89 326.97 L291.14 327.26 L291.4 327.56 L291.65 327.85 L291.91 328.15 L292.16 328.45 L292.42 328.76 L292.67 329.06 L292.93 329.37 L293.18 329.68 L293.44 329.99 L293.69 330.3 L293.95 330.61 L294.2 330.93 L294.46 331.24 L294.71 331.56 L294.97 331.88 L295.22 332.2 L295.48 332.53 L295.73 332.85 L295.99 333.18 L296.24 333.5 L296.5 333.83 L296.75 334.16 L297.01 334.5 L297.26 334.83 L297.52 335.16 L297.77 335.5 L298.03 335.84 L298.28 336.18 L298.54 336.52 L298.79 336.86 L299.05 337.2 L299.3 337.55 L299.55 337.89 L299.81 338.24 L300.06 338.59 L300.32 338.94 L300.57 339.29 L300.83 339.64 L301.08 339.99 L301.34 340.34 L301.59 340.7 L301.85 341.05 L302.1 341.41 L302.36 341.77 L302.61 342.12 L302.87 342.48 L303.12 342.84 L303.38 343.2 L303.63 343.57 L303.89 343.93 L304.14 344.29 L304.4 344.66 L304.65 345.02 L304.91 345.39 L305.16 345.76 L305.42 346.13 L305.67 346.5 L305.93 346.87 L306.18 347.24 L306.44 347.61 L306.69 347.98 L306.95 348.35 L307.2 348.73 L307.46 349.1 L307.71 349.47 L307.97 349.85 L308.22 350.23 L308.48 350.6 L308.73 350.98 L308.99 351.36 L309.24 351.74 L309.5 352.12 L309.75 352.5 L310.01 352.88 L310.26 353.26 L310.52 353.64 L310.77 354.02 L311.02 354.4 L311.28 354.79 L311.53 355.17 L311.79 355.55 L312.04 355.94 L312.3 356.32 L312.55 356.71 L312.81 357.1 L313.06 357.48 L313.32 357.87 L313.57 358.26 L313.83 358.65 L314.08 359.03 L314.34 359.42 L314.59 359.81 L314.85 360.2 L315.1 360.59 L315.36 360.98 L315.61 361.37 L315.87 361.77 L316.12 362.16 L316.38 362.16 L316.63 361.77 L316.89 361.37 L317.14 360.98 L317.4 360.59 L317.65 360.2 L317.91 359.81 L318.16 359.42 L318.42 359.03 L318.67 358.65 L318.93 358.26 L319.18 357.87 L319.44 357.48 L319.69 357.1 L319.95 356.71 L320.2 356.32 L320.46 355.94 L320.71 355.55 L320.97 355.17 L321.22 354.79 L321.48 354.4 L321.73 354.02 L321.98 353.64 L322.24 353.26 L322.49 352.88 L322.75 352.5 L323 352.12 L323.26 351.74 L323.51 351.36 L323.77 350.98 L324.02 350.6 L324.28 350.23 L324.53 349.85 L324.79 349.47 L325.04 349.1 L325.3 348.73 L325.55 348.35 L325.81 347.98 L326.06 347.61 L326.32 347.24 L326.57 346.87 L326.83 346.5 L327.08 346.13 L327.34 345.76 L327.59 345.39 L327.85 345.02 L328.1 344.66 L328.36 344.29 L328.61 343.93 L328.87 343.57 L329.12 343.2 L329.38 342.84 L329.63 342.48 L329.89 342.12 L330.14 341.77 L330.4 341.41 L330.65 341.05 L330.91 340.7 L331.16 340.34 L331.42 339.99 L331.67 339.64 L331.93 339.29 L332.18 338.94 L332.44 338.59 L332.69 338.24 L332.95 337.89 L333.2 337.55 L333.45 337.2 L333.71 336.86 L333.96 336.52 L334.22 336.18 L334.47 335.84 L334.73 335.5 L334.98 335.16 L335.24 334.83 L335.49 334.5 L335.75 334.16 L336 333.83 L336.26 333.5 L336.51 333.18 L336.77 332.85 L337.02 332.53 L337.28 332.2 L337.53 331.88 L337.79 331.56 L338.04 331.24 L338.3 330.93 L338.55 330.61 L338.81 330.3 L339.06 329.99 L339.32 329.68 L339.57 329.37 L339.83 329.06 L340.08 328.76 L340.34 328.45 L340.59 328.15 L340.85 327.85 L341.1 327.56 L341.36 327.26 L341.61 326.97 L341.87 326.68 L342.12 326.39 L342.38 326.1 L342.63 325.81 L342.89 325.53 L343.14 325.25 L343.4 324.97 L343.65 324.69 L343.91 324.42 L344.16 324.15 L344.42 323.88 L344.67 323.61 L344.92 323.34 L345.18 323.08 L345.43 322.82 L345.69 322.56 L345.94 322.3 L346.2 322.05 L346.45 321.8 L346.71 321.55 L346.96 321.3 L347.22 321.06 L347.47 320.81 L347.73 320.57 L347.98 320.34 L348.24 320.1 L348.49 319.87 L348.75 319.64 L349 319.42 L349.26 319.19 L349.51 318.97 L349.77 318.75 L350.02 318.54 L350.28 318.32 L350.53 318.11 L350.79 317.9 L351.04 317.7 L351.3 317.5 L351.55 317.3 L351.81 317.1 L352.06 316.91 L352.32 316.72 L352.57 316.53 L352.83 316.34 L353.08 316.16 L353.34 315.98 L353.59 315.8 L353.85 315.63 L354.1 315.46 L354.36 315.29 L354.61 315.13 L354.87 314.97 L355.12 314.81 L355.38 314.66 L355.63 314.5 L355.88 314.35 L356.14 314.21 L356.39 314.07 L356.65 313.93 L356.9 313.79 L357.16 313.66 L357.41 313.53 L357.67 313.4 L357.92 313.28 L358.18 313.16 L358.43 313.04 L358.69 312.93 L358.94 312.82 L359.2 312.71 L359.45 312.6 L359.71 312.5 L359.96 312.41 L360.22 312.31 L360.47 312.22 L360.73 312.13 L360.98 312.05 L361.24 311.97 L361.49 311.89 L361.75 311.82 L362 311.75 L362.26 311.68 L362.51 311.62 L362.77 311.56 L363.02 311.5 L363.28 311.45 L363.53 311.4 L363.79 311.35 L364.04 311.31 L364.3 311.27 L364.55 311.23 L364.81 311.2 L365.06 311.17 L365.32 311.14 L365.57 311.12 L365.83 311.1 L366.08 311.09 L366.34 311.07 L366.59 311.07 L366.85 311.06 L367.1 311.06 L367.54 311.05 L367.99 311.03 L368.43 310.99 L368.88 310.95 L369.32 310.88 L369.76 310.8 L370.21 310.71 L370.65 310.61 L371.1 310.49 L371.54 310.36 L371.99 310.21 L372.43 310.05 L372.87 309.87 L373.32 309.68 L373.76 309.48 L374.21 309.27 L374.65 309.04 L375.09 308.8 L375.54 308.54 L375.98 308.27 L376.43 307.99 L376.87 307.7 L377.31 307.39 L377.76 307.07 L378.2 306.74 L378.65 306.39 L379.09 306.04 L379.54 305.67 L379.98 305.28 L380.42 304.89 L380.87 304.49 L381.31 304.07 L381.76 303.64 L382.2 303.2 L382.64 302.75 L383.09 302.29 L383.53 301.81 L383.98 301.33 L384.42 300.83 L384.86 300.33 L385.31 299.81 L385.75 299.29 L386.2 298.75 L386.64 298.21 L387.08 297.65 L387.53 297.09 L387.97 296.51 L388.42 295.93 L388.86 295.34 L389.31 294.74 L389.75 294.12 L390.19 293.51 L390.64 292.88 L391.08 292.24 L391.53 291.6 L391.97 290.95 L392.41 290.29 L392.86 289.62 L393.3 288.95 L393.75 288.27 L394.19 287.58 L394.63 286.88 L395.08 286.18 L395.52 285.47 L395.97 284.76 L396.41 284.03 L396.86 283.31 L397.3 282.57 L397.74 281.83 L398.19 281.09 L398.63 280.33 L399.08 279.58 L399.52 278.82 L399.96 278.05 L400.41 277.28 L400.85 276.5 L401.3 275.72 L401.74 274.93 L402.18 274.14 L402.63 273.34 L403.07 272.54 L403.52 271.74 L403.96 270.93 L404.41 270.12 L404.85 269.31 L405.29 268.49 L405.74 267.67 L406.18 266.84 L406.63 266.01 L407.07 265.18 L407.51 264.35 L407.96 263.51 L408.4 262.67 L408.85 261.83 L409.29 260.98 L409.73 260.14 L410.18 259.29 L410.62 258.44 L411.07 257.58 L411.51 256.73 L411.96 255.87 L412.4 255.01 L412.84 254.15 L413.29 253.29 L413.73 252.43 L414.18 251.56 L414.62 250.7 L415.06 249.83 L415.51 248.96 L415.95 248.09 L416.4 247.22 L416.84 246.35 L417.28 245.48 L417.73 244.61 L418.17 243.74 L418.62 242.86 L419.06 241.99 L419.51 241.12 L419.95 240.24 L420.39 239.37 L420.84 238.5 L421.28 237.62 L421.73 236.75 L422.17 235.88 L422.61 235.01 L423.06 234.13 L423.5 233.26 L423.95 232.39 L424.39 231.52 L424.83 230.65 L425.28 229.78 L425.72 228.91 L426.17 228.05 L426.61 227.18 L427.05 226.31 L427.5 225.45 L427.94 224.59 L428.39 223.72 L428.83 222.86 L429.28 222 L429.72 221.14 L430.16 220.29 L430.61 219.43 L431.05 218.58 L431.5 217.73 L431.94 216.88 L432.38 216.03 L432.83 215.18 L433.27 214.33 L433.72 213.49 L434.16 212.65 L434.6 211.81 L435.05 210.97 L435.49 210.13 L435.94 210.17 L436.38 210.68 L436.83 211.2 L437.27 211.72 L437.71 212.25 L438.16 212.78 L438.6 213.31 L439.05 213.85 L439.49 214.4 L439.93 214.95 L440.38 215.5 L440.82 216.06 L441.27 216.62 L441.71 217.18 L442.15 217.75 L442.6 218.33 L443.04 218.91 L443.49 219.49 L443.93 220.08 L444.38 220.67 L444.82 221.26 L445.26 221.87 L445.71 222.47 L446.15 223.08 L446.6 223.7 L447.04 224.31 L447.48 224.94 L447.93 225.56 L448.37 226.2 L448.82 226.83 L449.26 227.47 L449.7 228.12 L450.15 228.77 L450.59 229.43 L451.04 230.08 L451.48 230.75 L451.93 231.42 L452.37 232.09 L452.81 232.77 L453.26 233.45 L453.7 234.13 L454.15 234.82 L454.59 235.52 L455.03 236.22 L455.48 236.92 L455.92 236.92 L456.37 236.22 L456.81 235.52 L457.25 234.82 L457.7 234.13 L458.14 233.45 L458.59 232.77 L459.03 232.09 L459.47 231.42 L459.92 230.75 L460.36 230.08 L460.81 229.43 L461.25 228.77 L461.7 228.12 L462.14 227.47 L462.58 226.83 L463.03 226.2 L463.47 225.56 L463.92 224.94 L464.36 224.31 L464.8 223.7 L465.25 223.08 L465.69 222.47 L466.14 221.87 L466.58 221.26 L467.02 220.67 L467.47 220.08 L467.91 219.49 L468.36 218.91 L468.8 218.33 L469.25 217.75 L469.69 217.18 L470.13 216.62 L470.58 216.06 L471.02 215.5 L471.47 214.95 L471.91 214.4 L472.35 213.85 L472.8 213.31 L473.24 212.78 L473.69 212.25 L474.13 211.72 L474.57 211.2 L475.02 210.68 L475.46 210.17 L475.91 210.13 L476.35 210.97 L476.8 211.81 L477.24 212.65 L477.68 213.49 L478.13 214.33 L478.57 215.18 L479.02 216.03 L479.46 216.88 L479.9 217.73 L480.35 218.58 L480.79 219.43 L481.24 220.29 L481.68 221.14 L482.12 222 L482.57 222.86 L483.01 223.72 L483.46 224.59 L483.9 225.45 L484.35 226.31 L484.79 227.18 L485.23 228.05 L485.68 228.91 L486.12 229.78 L486.57 230.65 L487.01 231.52 L487.45 232.39 L487.9 233.26 L488.34 234.13 L488.79 235.01 L489.23 235.88 L489.67 236.75 L490.12 237.62 L490.56 238.5 L491.01 239.37 L491.45 240.24 L491.89 241.12 L492.34 241.99 L492.78 242.86 L493.23 243.74 L493.67 244.61 L494.12 245.48 L494.56 246.35 L495 247.22 L495.45 248.09 L495.89 248.96 L496.34 249.83 L496.78 250.7 L497.22 251.56 L497.67 252.43 L498.11 253.29 L498.56 254.15 L499 255.01 L499.44 255.87 L499.89 256.73 L500.33 257.58 L500.78 258.44 L501.22 259.29 L501.67 260.14 L502.11 260.98 L502.55 261.83 L503 262.67 L503.44 263.51 L503.89 264.35 L504.33 265.18 L504.77 266.01 L505.22 266.84 L505.66 267.67 L506.11 268.49 L506.55 269.31 L506.99 270.12 L507.44 270.93 L507.88 271.74 L508.33 272.54 L508.77 273.34 L509.22 274.14 L509.66 274.93 L510.1 275.72 L510.55 276.5 L510.99 277.28 L511.44 278.05 L511.88 278.82 L512.32 279.58 L512.77 280.33 L513.21 281.09 L513.66 281.83 L514.1 282.57 L514.54 283.31 L514.99 284.03 L515.43 284.76 L515.88 285.47 L516.32 286.18 L516.77 286.88 L517.21 287.58 L517.65 288.27 L518.1 288.95 L518.54 289.62 L518.99 290.29 L519.43 290.95 L519.87 291.6 L520.32 292.24 L520.76 292.88 L521.21 293.51 L521.65 294.12 L522.09 294.74 L522.54 295.34 L522.98 295.93 L523.43 296.51 L523.87 297.09 L524.32 297.65 L524.76 298.21 L525.2 298.75 L525.65 299.29 L526.09 299.81 L526.54 300.33 L526.98 300.83 L527.42 301.33 L527.87 301.81 L528.31 302.29 L528.76 302.75 L529.2 303.2 L529.64 303.64 L530.09 304.07 L530.53 304.49 L530.98 304.89 L531.42 305.28 L531.86 305.67 L532.31 306.04 L532.75 306.39 L533.2 306.74 L533.64 307.07 L534.09 307.39 L534.53 307.7 L534.97 307.99 L535.42 308.27 L535.86 308.54 L536.31 308.8 L536.75 309.04 L537.19 309.27 L537.64 309.48 L538.08 309.68 L538.53 309.87 L538.97 310.05 L539.41 310.21 L539.86 310.36 L540.3 310.49 L540.75 310.61 L541.19 310.71 L541.64 310.8 L542.08 310.88 L542.52 310.95 L542.97 310.99 L543.41 311.03 L543.86 311.05 L544.3 311.06 L544.56 311.06 L544.81 311.05 L545.07 311.05 L545.32 311.04 L545.58 311.03 L545.84 311.01 L546.09 311 L546.35 310.98 L546.6 310.95 L546.86 310.93 L547.11 310.9 L547.37 310.87 L547.63 310.84 L547.88 310.81 L548.14 310.77 L548.39 310.73 L548.65 310.69 L548.91 310.64 L549.16 310.59 L549.42 310.54 L549.67 310.49 L549.93 310.44 L550.19 310.38 L550.44 310.32 L550.7 310.26 L550.95 310.19 L551.21 310.12 L551.46 310.05 L551.72 309.98 L551.98 309.91 L552.23 309.83 L552.49 309.75 L552.74 309.67 L553 309.58 L553.26 309.49 L553.51 309.4 L553.77 309.31 L554.02 309.22 L554.28 309.12 L554.54 309.02 L554.79 308.92 L555.05 308.82 L555.3 308.71 L555.56 308.6 L555.82 308.49 L556.07 308.38 L556.33 308.26 L556.58 308.14 L556.84 308.02 L557.09 307.9 L557.35 307.77 L557.61 307.65 L557.86 307.52 L558.12 307.38 L558.37 307.25 L558.63 307.11 L558.89 306.97 L559.14 306.83 L559.4 306.69 L559.65 306.55 L559.91 306.4 L560.17 306.25 L560.42 306.1 L560.68 305.94 L560.93 305.79 L561.19 305.63 L561.44 305.47 L561.7 305.31 L561.96 305.14 L562.21 304.98 L562.47 304.81 L562.72 304.64 L562.98 304.46 L563.24 304.29 L563.49 304.11 L563.75 303.94 L564 303.75 L564.26 303.57 L564.52 303.39 L564.77 303.2 L565.03 303.01 L565.28 302.82 L565.54 302.63 L565.79 302.44 L566.05 302.24 L566.31 302.05 L566.56 301.85 L566.82 301.65 L567.07 301.44 L567.33 301.24 L567.59 301.03 L567.84 300.83 L568.1 300.62 L568.35 300.4 L568.61 300.19 L568.87 299.98 L569.12 299.76 L569.38 299.54 L569.63 299.32 L569.89 299.1 L570.14 298.88 L570.4 298.66 L570.66 298.43 L570.91 298.2 L571.17 297.98 L571.42 297.75 L571.68 297.51 L571.94 297.28 L572.19 297.05 L572.45 296.81 L572.7 296.57 L572.96 296.34 L573.22 296.1 L573.47 295.85 L573.73 295.61 L573.98 295.37 L574.24 295.12 L574.49 294.88 L574.75 294.63 L575.01 294.38 L575.26 294.13 L575.52 293.88 L575.77 293.62 L576.03 293.37 L576.29 293.12 L576.54 292.86 L576.8 292.6 L577.05 292.35 L577.31 292.09 L577.57 291.83 L577.82 291.56 L578.08 291.3 L578.33 291.04 L578.59 290.77 L578.85 290.51 L579.1 290.24 L579.36 289.98 L579.61 289.71 L579.87 289.44 L580.12 289.17 L580.38 288.9 L580.64 288.63 L580.89 288.35 L581.15 288.08 L581.4 287.81 L581.66 287.53 L581.92 287.26 L582.17 286.98 L582.43 286.7 L582.68 286.43 L582.94 286.15 L583.2 285.87 L583.45 285.59 L583.71 285.31 L583.96 285.03 L584.22 284.75 L584.47 284.47 L584.73 284.18 L584.99 283.9 L585.24 283.62 L585.5 283.33 L585.75 283.05 L586.01 282.77 L586.27 282.48 L586.52 282.19 L586.78 281.91 L587.03 281.62 L587.29 281.34 L587.55 281.05 L587.8 280.76 L588.06 280.47 L588.31 280.19 L588.57 279.9 L588.82 279.61 L589.08 279.32 L589.34 279.03 L589.59 278.74 L589.85 278.45 L590.1 278.16 L590.36 277.87 L590.62 277.58 L590.87 277.29 L591.13 277 L591.38 276.71 L591.64 276.42 L591.9 276.13 L592.15 275.84 L592.41 275.55 L592.66 275.26 L592.92 274.97 L593.17 274.68 L593.43 274.39 L593.69 274.1 L593.94 273.81 L594.2 273.52 L594.45 273.23 L594.71 272.94 L594.97 272.65 L595.22 272.37 L595.48 272.08 L595.73 271.79 L595.99 271.5 L596.25 271.21 L596.5 270.92 L596.76 270.64 L597.01 270.35 L597.27 270.06 L597.53 269.78 L597.78 269.49 L598.04 269.2 L598.29 268.92 L598.55 268.63 L598.8 268.35 L599.06 268.06 L599.32 267.78 L599.57 267.5 L599.83 267.21 L600.08 266.93 L600.34 266.65 L600.6 266.37 L600.85 266.09 L601.11 265.81 L601.36 265.53 L601.62 265.25 L601.88 264.97 L602.13 264.69 L602.39 264.41 L602.64 264.14 L602.9 263.86 L603.15 263.59 L603.41 263.31 L603.67 263.04 L603.92 262.77 L604.18 262.49 L604.43 262.22 L604.69 261.95 L604.95 261.68 L605.2 261.41 L605.46 261.14 L605.71 260.88 L605.97 260.61 L606.23 260.34 L606.48 260.08 L606.74 259.82 L606.99 259.55 L607.25 259.29 L607.5 259.03 L607.76 258.77 L608.02 258.51 L608.27 258.25 L608.53 257.99 L608.78 257.74 L609.04 257.48 L609.3 257.23 L609.55 256.98 L609.81 256.72 L610.06 256.47 L610.32 256.22 L610.58 255.97 L610.83 255.73 L611.09 255.48 L611.34 255.23 L611.6 254.99 L611.85 254.75 L612.11 254.51 L612.37 254.26 L612.62 254.02 L612.88 253.79 L613.13 253.55 L613.39 253.31 L613.65 253.08 L613.9 252.85 L614.16 252.61 L614.41 252.38 L614.67 252.15 L614.93 251.93 L615.18 251.7 L615.44 251.47 L615.69 251.25 L615.95 251.03 L616.21 250.81 L616.46 250.59 L616.72 250.37 L616.97 250.15 L617.23 249.94 L617.48 249.72 L617.74 249.51 L618 249.3 L618.25 249.09 L618.51 248.88 L618.76 248.67 L619.02 248.47 L619.28 248.26 L619.53 248.06 L619.79 247.86 L620.04 247.66 L620.3 247.46 L620.56 247.27 L620.81 247.07 L621.07 246.88 L621.32 246.69 L621.58 246.5 L621.83 246.31 L622.09 246.13 L622.35 245.94 L622.6 245.76 L622.86 245.58 L623.11 245.4 L623.37 245.22 L623.63 245.04 L623.88 244.87 L624.14 244.69 L624.39 244.52 L624.65 244.35 L624.91 244.19 L625.16 244.02 L625.42 243.85 L625.67 243.69 L625.93 243.53 L626.18 243.37 L626.44 243.22 L626.7 243.06 L626.95 242.91 L627.21 242.75 L627.46 242.6 L627.72 242.46 L627.98 242.31 L628.23 242.16 L628.49 242.02 L628.74 241.88 L629 241.74 L629.26 241.61 L629.51 241.47 L629.77 241.34 L630.02 241.21 L630.28 241.08 L630.53 240.95 L630.79 240.82 L631.05 240.7 L631.3 240.58 L631.56 240.46 L631.81 240.34 L632.07 240.22 L632.33 240.11 L632.58 240 L632.84 239.89 L633.09 239.78 L633.35 239.67 L633.61 239.57 L633.86 239.46 L634.12 239.36 L634.37 239.26 L634.63 239.17 L634.88 239.07 L635.14 238.98 L635.4 238.89 L635.65 238.8 L635.91 238.72 L636.16 238.63 L636.42 238.55 L636.68 238.47 L636.93 238.39 L637.19 238.31 L637.44 238.24 L637.7 238.17 L637.96 238.1 L638.21 238.03 L638.47 237.96 L638.72 237.9 L638.98 237.84 L639.24 237.78 L639.49 237.72 L639.75 237.67 L640 237.61 L640.26 237.56 L640.51 237.51 L640.77 237.46 L641.03 237.42 L641.28 237.37 L641.54 237.33 L641.79 237.29 L642.05 237.26 L642.31 237.22 L642.56 237.19 L642.82 237.16 L643.07 237.13 L643.33 237.1 L643.59 237.08 L643.84 237.06 L644.1 237.04 L644.35 237.02 L644.61 237 L644.86 236.99 L645.12 236.98 L645.38 236.97 L645.63 236.96 L645.89 236.96 L646.14 236.95 L646.4 236.95 L646.66 236.95 L646.91 236.96 L647.17 236.96 L647.42 236.97 L647.68 236.98 L647.93 236.99 L648.19 237 L648.44 237.02 L648.7 237.04 L648.95 237.06 L649.21 237.08 L649.46 237.1 L649.72 237.13 L649.97 237.16 L650.23 237.19 L650.48 237.22 L650.74 237.26 L650.99 237.29 L651.25 237.33 L651.5 237.37 L651.76 237.42 L652.01 237.46 L652.27 237.51 L652.52 237.56 L652.78 237.61 L653.03 237.67 L653.29 237.72 L653.54 237.78 L653.8 237.84 L654.05 237.9 L654.31 237.96 L654.56 238.03 L654.82 238.1 L655.07 238.17 L655.33 238.24 L655.58 238.31 L655.84 238.39 L656.1 238.47 L656.35 238.55 L656.61 238.63 L656.86 238.72 L657.12 238.8 L657.37 238.89 L657.63 238.98 L657.88 239.07 L658.14 239.17 L658.39 239.26 L658.65 239.36 L658.9 239.46 L659.16 239.57 L659.41 239.67 L659.67 239.78 L659.92 239.89 L660.18 240 L660.43 240.11 L660.69 240.22 L660.94 240.34 L661.2 240.46 L661.45 240.58 L661.71 240.7 L661.96 240.82 L662.22 240.95 L662.47 241.08 L662.73 241.21 L662.98 241.34 L663.24 241.47 L663.49 241.61 L663.75 241.74 L664 241.88 L664.26 242.02 L664.51 242.16 L664.77 242.31 L665.03 242.46 L665.28 242.6 L665.54 242.75 L665.79 242.91 L666.05 243.06 L666.3 243.22 L666.56 243.37 L666.81 243.53 L667.07 243.69 L667.32 243.85 L667.58 244.02 L667.83 244.19 L668.09 244.35 L668.34 244.52 L668.6 244.69 L668.85 244.87 L669.11 245.04 L669.36 245.22 L669.62 245.4 L669.87 245.58 L670.13 245.76 L670.38 245.94 L670.64 246.13 L670.89 246.31 L671.15 246.5 L671.4 246.69 L671.66 246.88 L671.91 247.07 L672.17 247.27 L672.42 247.46 L672.68 247.66 L672.93 247.86 L673.19 248.06 L673.44 248.26 L673.7 248.47 L673.95 248.67 L674.21 248.88 L674.47 249.09 L674.72 249.3 L674.98 249.51 L675.23 249.72 L675.49 249.94 L675.74 250.15 L676 250.37 L676.25 250.59 L676.51 250.81 L676.76 251.03 L677.02 251.25 L677.27 251.47 L677.53 251.7 L677.78 251.93 L678.04 252.15 L678.29 252.38 L678.55 252.61 L678.8 252.85 L679.06 253.08 L679.31 253.31 L679.57 253.55 L679.82 253.79 L680.08 254.02 L680.33 254.26 L680.59 254.51 L680.84 254.75 L681.1 254.99 L681.35 255.23 L681.61 255.48 L681.86 255.73 L682.12 255.97 L682.37 256.22 L682.63 256.47 L682.88 256.72 L683.14 256.98 L683.39 257.23 L683.65 257.48 L683.91 257.74 L684.16 257.99 L684.42 258.25 L684.67 258.51 L684.93 258.77 L685.18 259.03 L685.44 259.29 L685.69 259.55 L685.95 259.82 L686.2 260.08 L686.46 260.34 L686.71 260.61 L686.97 260.88 L687.22 261.14 L687.48 261.41 L687.73 261.68 L687.99 261.95 L688.24 262.22 L688.5 262.49 L688.75 262.77 L689.01 263.04 L689.26 263.31 L689.52 263.59 L689.77 263.86 L690.03 264.14 L690.28 264.41 L690.54 264.69 L690.79 264.97 L691.05 265.25 L691.3 265.53 L691.56 265.81 L691.81 266.09 L692.07 266.37 L692.32 266.65 L692.58 266.93 L692.84 267.21 L693.09 267.5 L693.35 267.78 L693.6 268.06 L693.86 268.35 L694.11 268.63 L694.37 268.92 L694.62 269.2 L694.88 269.49 L695.13 269.78 L695.39 270.06 L695.64 270.35 L695.9 270.64 L696.15 270.92 L696.41 271.21 L696.66 271.5 L696.92 271.79 L697.17 272.08 L697.43 272.37 L697.68 272.65 L697.94 272.94 L698.19 273.23 L698.45 273.52 L698.7 273.81 L698.96 274.1 L699.21 274.39 L699.47 274.68 L699.72 274.97 L699.98 275.26 L700.23 275.55 L700.49 275.84 L700.74 276.13 L701 276.42 L701.25 276.71 L701.51 277 L701.76 277.29 L702.02 277.58 L702.28 277.87 L702.53 278.16 L702.79 278.45 L703.04 278.74 L703.3 279.03 L703.55 279.32 L703.81 279.61 L704.06 279.9 L704.32 280.19 L704.57 280.47 L704.83 280.76 L705.08 281.05 L705.34 281.34 L705.59 281.62 L705.85 281.91 L706.1 282.19 L706.36 282.48 L706.61 282.77 L706.87 283.05 L707.12 283.33 L707.38 283.62 L707.63 283.9 L707.89 284.18 L708.14 284.47 L708.4 284.75 L708.65 285.03 L708.91 285.31 L709.16 285.59 L709.42 285.87 L709.67 286.15 L709.93 286.43 L710.18 286.7 L710.44 286.98 L710.69 287.26 L710.95 287.53 L711.21 287.81 L711.46 288.08 L711.72 288.35 L711.97 288.63 L712.23 288.9 L712.48 289.17 L712.74 289.44 L712.99 289.71 L713.25 289.98 L713.5 290.24 L713.76 290.51 L714.01 290.77 L714.27 291.04 L714.52 291.3 L714.78 291.56 L715.03 291.83 L715.29 292.09 L715.54 292.35 L715.8 292.6 L716.05 292.86 L716.31 293.12 L716.56 293.37 L716.82 293.62 L717.07 293.88 L717.33 294.13 L717.58 294.38 L717.84 294.63 L718.09 294.88 L718.35 295.12 L718.6 295.37 L718.86 295.61 L719.11 295.85 L719.37 296.1 L719.62 296.34 L719.88 296.57 L720.13 296.81 L720.39 297.05 L720.65 297.28 L720.9 297.51 L721.16 297.75 L721.41 297.98 L721.67 298.2 L721.92 298.43 L722.18 298.66 L722.43 298.88 L722.69 299.1 L722.94 299.32 L723.2 299.54 L723.45 299.76 L723.71 299.98 L723.96 300.19 L724.22 300.4 L724.47 300.62 L724.73 300.83 L724.98 301.03 L725.24 301.24 L725.49 301.44 L725.75 301.65 L726 301.85 L726.26 302.05 L726.51 302.24 L726.77 302.44 L727.02 302.63 L727.28 302.82 L727.53 303.01 L727.79 303.2 L728.04 303.39 L728.3 303.57 L728.55 303.75 L728.81 303.94 L729.06 304.11 L729.32 304.29 L729.57 304.46 L729.83 304.64 L730.09 304.81 L730.34 304.98 L730.6 305.14 L730.85 305.31 L731.11 305.47 L731.36 305.63 L731.62 305.79 L731.87 305.94 L732.13 306.1 L732.38 306.25 L732.64 306.4 L732.89 306.55 L733.15 306.69 L733.4 306.83 L733.66 306.97 L733.91 307.11 L734.17 307.25 L734.42 307.38 L734.68 307.52 L734.93 307.65 L735.19 307.77 L735.44 307.9 L735.7 308.02 L735.95 308.14 L736.21 308.26 L736.46 308.38 L736.72 308.49 L736.97 308.6 L737.23 308.71 L737.48 308.82 L737.74 308.92 L737.99 309.02 L738.25 309.12 L738.5 309.22 L738.76 309.31 L739.02 309.4 L739.27 309.49 L739.53 309.58 L739.78 309.67 L740.04 309.75 L740.29 309.83 L740.55 309.91 L740.8 309.98 L741.06 310.05 L741.31 310.12 L741.57 310.19 L741.82 310.26 L742.08 310.32 L742.33 310.38 L742.59 310.44 L742.84 310.49 L743.1 310.54 L743.35 310.59 L743.61 310.64 L743.86 310.69 L744.12 310.73 L744.37 310.77 L744.63 310.81 L744.88 310.84 L745.14 310.87 L745.39 310.9 L745.65 310.93 L745.9 310.95 L746.16 310.98 L746.41 311 L746.67 311.01 L746.92 311.03 L747.18 311.04 L747.43 311.05 L747.69 311.05 L747.94 311.06 L748.2 311.06" stroke="#00ff00"/>
<path d="M88.8 174.21 L89.24 174.21 L89.69 174.21 L90.13 174.22 L90.57 174.23 L91.01 174.24 L91.46 174.25 L91.9 174.27 L92.34 174.29 L92.78 174.31 L93.23 174.34 L93.67 174.37 L94.11 174.4 L94.55 174.43 L95 174.46 L95.44 174.5 L95.88 174.54 L96.32 174.59 L96.77 174.63 L97.21 174.68 L97.65 174.73 L98.09 174.79 L98.54 174.84 L98.98 174.9 L99.42 174.96 L99.87 175.03 L100.31 175.1 L100.75 175.17 L101.19 175.24 L101.64 175.31 L102.08 175.39 L102.52 175.47 L102.96 175.56 L103.41 175.64 L103.85 175.73 L104.29 175.82 L104.73 175.92 L105.18 176.02 L105.62 176.12 L106.06 176.22 L106.5 176.32 L106.95 176.43 L107.39 176.54 L107.83 176.66 L108.27 176.78 L108.72 176.89 L109.16 177.02 L109.6 177.14 L110.05 177.27 L110.49 177.4 L110.93 177.54 L111.37 177.67 L111.82 177.81 L112.26 177.96 L112.7 178.1 L113.14 178.25 L113.59 178.4 L114.03 178.56 L114.47 178.71 L114.91 178.87 L115.36 179.04 L115.8 179.2 L116.24 179.37 L116.68 179.55 L117.13 179.72 L117.57 179.9 L118.01 180.08 L118.45 180.27 L118.9 180.45 L119.34 180.64 L119.78 180.84 L120.23 181.03 L120.67 181.23 L121.11 181.44 L121.55 181.64 L122 181.85 L122.44 182.07 L122.88 182.28 L123.32 182.5 L123.77 182.72 L124.21 182.95 L124.65 183.18 L125.09 183.41 L125.54 183.65 L125.98 183.89 L126.42 184.13 L126.86 184.37 L127.31 184.62 L127.75 184.87 L128.19 185.13 L128.63 185.39 L129.08 185.65 L129.52 185.92 L129.96 186.19 L130.41 186.46 L130.85 186.74 L131.29 187.01 L131.73 187.3 L132.18 187.58 L132.62 187.87 L133.06 188.17 L133.5 188.46 L133.95 188.77 L134.39 189.07 L134.83 189.38 L135.27 189.69 L135.72 190 L136.16 190.32 L136.6 190.65 L137.04 190.97 L137.49 191.3 L137.93 191.63 L138.37 191.97 L138.81 192.31 L139.26 192.66 L139.7 193 L140.14 193.36 L140.58 193.71 L141.03 194.07 L141.47 194.44 L141.91 194.8 L142.36 195.17 L142.8 195.55 L143.24 195.93 L143.68 196.31 L144.13 196.7 L144.57 197.09 L145.01 197.48 L145.45 197.88 L145.9 198.28 L146.34 198.69 L146.78 199.1 L147.22 199.51 L147.67 199.93 L148.11 200.35 L148.55 200.78 L148.99 201.21 L149.44 201.64 L149.88 202.08 L150.32 202.53 L150.76 202.97 L151.21 203.42 L151.65 203.88 L152.09 204.34 L152.54 204.8 L152.98 205.27 L153.42 205.74 L153.86 206.21 L154.31 206.69 L154.75 207.18 L155.19 207.66 L155.63 208.16 L156.08 208.65 L156.52 209.15 L156.96 209.66 L157.4 209.3 L157.85 208.47 L158.29 207.64 L158.73 206.81 L159.17 205.99 L159.62 205.16 L160.06 204.34 L160.5 203.53 L160.94 202.71 L161.39 201.9 L161.83 201.09 L162.27 200.28 L162.72 199.47 L163.16 198.67 L163.6 197.87 L164.04 197.07 L164.49 196.27 L164.93 195.48 L165.37 194.69 L165.81 193.9 L166.26 193.12 L166.7 192.34 L167.14 191.56 L167.58 190.79 L168.03 190.01 L168.47 189.24 L168.91 188.48 L169.35 187.71 L169.8 186.95 L170.24 186.2 L170.68 185.44 L171.12 184.69 L171.57 183.94 L172.01 183.2 L172.45 182.46 L172.9 181.72 L173.34 180.98 L173.78 180.25 L174.22 179.52 L174.67 178.8 L175.11 178.07 L175.55 177.36 L175.99 176.64 L176.44 175.93 L176.88 175.22 L177.32 175.22 L177.76 175.93 L178.21 176.64 L178.65 177.36 L179.09 178.07 L179.53 178.8 L179.98 179.52 L180.42 180.25 L180.86 180.98 L181.3 181.72 L181.75 182.46 L182.19 183.2 L182.63 183.94 L183.08 184.69 L183.52 185.44 L183.96 186.2 L184.4 186.95 L184.85 187.71 L185.29 188.48 L185.73 189.24 L186.17 190.01 L186.62 190.79 L187.06 191.56 L187.5 192.34 L187.94 193.12 L188.39 193.9 L188.83 194.69 L189.27 195.48 L189.71 196.27 L190.16 197.07 L190.6 197.87 L191.04 198.67 L191.48 199.47 L191.93 200.28 L192.37 201.09 L192.81 201.9 L193.26 202.71 L193.7 203.53 L194.14 204.34 L194.58 205.16 L195.03 205.99 L195.47 206.81 L195.91 207.64 L196.35 208.47 L196.8 209.3 L197.24 209.66 L197.68 209.15 L198.12 208.65 L198.57 208.16 L199.01 207.66 L199.45 207.18 L199.89 206.69 L200.34 206.21 L200.78 205.74 L201.22 205.27 L201.66 204.8 L202.11 204.34 L202.55 203.88 L202.99 203.42 L203.44 202.97 L203.88 202.53 L204.32 202.08 L204.76 201.64 L205.21 201.21 L205.65 200.78 L206.09 200.35 L206.53 199.93 L206.98 199.51 L207.42 199.1 L207.86 198.69 L208.3 198.28 L208.75 197.88 L209.19 197.48 L209.63 197.09 L210.07 196.7 L210.52 196.31 L210.96 195.93 L211.4 195.55 L211.84 195.17 L212.29 194.8 L212.73 194.44 L213.17 194.07 L213.62 193.71 L214.06 193.36 L214.5 193 L214.94 192.66 L215.39 192.31 L215.83 191.97 L216.27 191.63 L216.71 191.3 L217.16 190.97 L217.6 190.65 L218.04 190.32 L218.48 190 L218.93 189.69 L219.37 189.38 L219.81 189.07 L220.25 188.77 L220.7 188.46 L221.14 188.17 L221.58 187.87 L222.02 187.58 L222.47 187.3 L222.91 187.01 L223.35 186.74 L223.79 186.46 L224.24 186.19 L224.68 185.92 L225.12 185.65 L225.57 185.39 L226.01 185.13 L226.45 184.87 L226.89 184.62 L227.34 184.37 L227.78 184.13 L228.22 183.89 L228.66 183.65 L229.11 183.41 L229.55 183.18 L229.99 182.95 L230.43 182.72 L230.88 182.5 L231.32 182.28 L231.76 182.07 L232.2 181.85 L232.65 181.64 L233.09 181.44 L233.53 181.23 L233.97 181.03 L234.42 180.84 L234.86 180.64 L235.3 180.45 L235.75 180.27 L236.19 180.08 L236.63 179.9 L237.07 179.72 L237.52 179.55 L237.96 179.37 L238.4 179.2 L238.84 179.04 L239.29 178.87 L239.73 178.71 L240.17 178.56 L240.61 178.4 L241.06 178.25 L241.5 178.1 L241.94 177.96 L242.38 177.81 L242.83 177.67 L243.27 177.54 L243.71 177.4 L244.15 177.27 L244.6 177.14 L245.04 177.02 L245.48 176.89 L245.93 176.78 L246.37 176.66 L246.81 176.54 L247.25 176.43 L247.7 176.32 L248.14 176.22 L248.58 176.12 L249.02 176.02 L249.47 175.92 L249.91 175.82 L250.35 175.73 L250.79 175.64 L251.24 175.56 L251.68 175.47 L252.12 175.39 L252.56 175.31 L253.01 175.24 L253.45 175.17 L253.89 175.1 L254.33 175.03 L254.78 174.96 L255.22 174.9 L255.66 174.84 L256.11 174.79 L256.55 174.73 L256.99 174.68 L257.43 174.63 L257.88 174.59 L258.32 174.54 L258.76 174.5 L259.2 174.46 L259.65 174.43 L260.09 174.4 L260.53 174.37 L260.97 174.34 L261.42 174.31 L261.86 174.29 L262.3 174.27 L262.74 174.25 L263.19 174.24 L263.63 174.23 L264.07 174.22 L264.51 174.21 L264.96 174.21 L265.4 174.21 L265.65 174.21 L265.91 174.2 L266.16 174.19 L266.42 174.18 L266.67 174.17 L266.93 174.16 L267.18 174.14 L267.44 174.12 L267.69 174.09 L267.95 174.07 L268.2 174.04 L268.46 174 L268.71 173.97 L268.97 173.93 L269.22 173.89 L269.48 173.85 L269.73 173.8 L269.99 173.75 L270.24 173.7 L270.5 173.65 L270.75 173.59 L271.01 173.53 L271.26 173.47 L271.52 173.4 L271.77 173.33 L272.03 173.26 L272.28 173.19 L272.54 173.11 L272.79 173.03 L273.05 172.95 L273.3 172.87 L273.56 172.78 L273.81 172.69 L274.07 172.6 L274.32 172.5 L274.58 172.41 L274.83 172.31 L275.09 172.2 L275.34 172.1 L275.6 171.99 L275.85 171.88 L276.11 171.77 L276.36 171.65 L276.62 171.54 L276.87 171.42 L277.12 171.29 L277.38 171.17 L277.63 171.04 L277.89 170.91 L278.14 170.78 L278.4 170.64 L278.65 170.51 L278.91 170.37 L279.16 170.22 L279.42 170.08 L279.67 169.93 L279.93 169.78 L280.18 169.63 L280.44 169.48 L280.69 169.32 L280.95 169.17 L281.2 169.01 L281.46 168.84 L281.71 168.68 L281.97 168.51 L282.22 168.34 L282.48 168.17 L282.73 168 L282.99 167.82 L283.24 167.65 L283.5 167.47 L283.75 167.29 L284.01 167.1 L284.26 166.92 L284.52 166.73 L284.77 166.54 L285.03 166.35 L285.28 166.16 L285.54 165.96 L285.79 165.76 L286.05 165.57 L286.3 165.37 L286.56 165.16 L286.81 164.96 L287.07 164.75 L287.32 164.55 L287.58 164.34 L287.83 164.13 L288.08 163.91 L288.34 163.7 L288.59 163.48 L288.85 163.27 L289.1 163.05 L289.36 162.83 L289.61 162.6 L289.87 162.38 L290.12 162.16 L290.38 161.93 L290.63 161.7 L290.89 161.47 L291.14 161.24 L291.4 161.01 L291.65 160.77 L291.91 160.54 L292.16 160.3 L292.42 160.07 L292.67 159.83 L292.93 159.59 L293.18 159.35 L293.44 159.1 L293.69 158.86 L293.95 158.62 L294.2 158.37 L294.46 158.12 L294.71 157.88 L294.97 157.63 L295.22 157.38 L295.48 157.13 L295.73 156.87 L295.99 156.62 L296.24 156.37 L296.5 156.11 L296.75 155.86 L297.01 155.6 L297.26 155.34 L297.52 155.08 L297.77 154.83 L298.03 154.57 L298.28 154.31 L298.54 154.04 L298.79 153.78 L299.05 153.52 L299.3 153.26 L299.55 152.99 L299.81 152.73 L300.06 152.46 L300.32 152.2 L300.57 151.93 L300.83 151.67 L301.08 151.4 L301.34 151.13 L301.59 150.86 L301.85 150.59 L302.1 150.32 L302.36 150.06 L302.61 149.79 L302.87 149.52 L303.12 149.25 L303.38 148.97 L303.63 148.7 L303.89 148.43 L304.14 148.16 L304.4 147.89 L304.65 147.62 L304.91 147.35 L305.16 147.07 L305.42 146.8 L305.67 146.53 L305.93 146.26 L306.18 145.98 L306.44 145.71 L306.69 145.44 L306.95 145.16 L307.2 144.89 L307.46 144.62 L307.71 144.35 L307.97 144.07 L308.22 143.8 L308.48 143.53 L308.73 143.26 L308.99 142.98 L309.24 142.71 L309.5 142.44 L309.75 142.17 L310.01 141.9 L310.26 141.63 L310.52 141.36 L310.77 141.08 L311.02 140.81 L311.28 140.54 L311.53 140.27 L311.79 140 L312.04 139.74 L312.3 139.47 L312.55 139.2 L312.81 138.93 L313.06 138.66 L313.32 138.4 L313.57 138.13 L313.83 137.86 L314.08 137.6 L314.34 137.33 L314.59 137.07 L314.85 136.8 L315.1 136.54 L315.36 136.28 L315.61 136.01 L315.87 135.75 L316.12 135.49 L316.38 135.49 L316.63 135.75 L316.89 136.01 L317.14 136.28 L317.4 136.54 L317.65 136.8 L317.91 137.07 L318.16 137.33 L318.42 137.6 L318.67 137.86 L318.93 138.13 L319.18 138.4 L319.44 138.66 L319.69 138.93 L319.95 139.2 L320.2 139.47 L320.46 139.74 L320.71 140 L320.97 140.27 L321.22 140.54 L321.48 140.81 L321.73 141.08 L321.98 141.36 L322.24 141.63 L322.49 141.9 L322.75 142.17 L323 142.44 L323.26 142.71 L323.51 142.98 L323.77 143.26 L324.02 143.53 L324.28 143.8 L324.53 144.07 L324.79 144.35 L325.04 144.62 L325.3 144.89 L325.55 145.16 L325.81 145.44 L326.06 145.71 L326.32 145.98 L326.57 146.26 L326.83 146.53 L327.08 146.8 L327.34 147.07 L327.59 147.35 L327.85 147.62 L328.1 147.89 L328.36 148.16 L328.61 148.43 L328.87 148.7 L329.12 148.97 L329.38 149.25 L329.63 149.52 L329.89 149.79 L330.14 150.06 L330.4 150.32 L330.65 150.59 L330.91 150.86 L331.16 151.13 L331.42 151.4 L331.67 151.67 L331.93 151.93 L332.18 152.2 L332.44 152.46 L332.69 152.73 L332.95 152.99 L333.2 153.26 L333.45 153.52 L333.71 153.78 L333.96 154.04 L334.22 154.31 L334.47 154.57 L334.73 154.83 L334.98 155.08 L335.24 155.34 L335.49 155.6 L335.75 155.86 L336 156.11 L336.26 156.37 L336.51 156.62 L336.77 156.87 L337.02 157.13 L337.28 157.38 L337.53 157.63 L337.79 157.88 L338.04 158.12 L338.3 158.37 L338.55 158.62 L338.81 158.86 L339.06 159.1 L339.32 159.35 L339.57 159.59 L339.83 159.83 L340.08 160.07 L340.34 160.3 L340.59 160.54 L340.85 160.77 L341.1 161.01 L341.36 161.24 L341.61 161.47 L341.87 161.7 L342.12 161.93 L342.38 162.16 L342.63 162.38 L342.89 162.6 L343.14 162.83 L343.4 163.05 L343.65 163.27 L343.91 163.48 L344.16 163.7 L344.42 163.91 L344.67 164.13 L344.92 164.34 L345.18 164.55 L345.43 164.75 L345.69 164.96 L345.94 165.16 L346.2 165.37 L346.45 165.57 L346.71 165.76 L346.96 165.96 L347.22 166.16 L347.47 166.35 L347.73 166.54 L347.98 166.73 L348.24 166.92 L348.49 167.1 L348.75 167.29 L349 167.47 L349.26 167.65 L349.51 167.82 L349.77 168 L350.02 168.17 L350.28 168.34 L350.53 168.51 L350.79 168.68 L351.04 168.84 L351.3 169.01 L351.55 169.17 L351.81 169.32 L352.06 169.48 L352.32 169.63 L352.57 169.78 L352.83 169.93 L353.08 170.08 L353.34 170.22 L353.59 170.37 L353.85 170.51 L354.1 170.64 L354.36 170.78 L354.61 170.91 L354.87 171.04 L355.12 171.17 L355.38 171.29 L355.63 171.42 L355.88 171.54 L356.14 171.65 L356.39 171.77 L356.65 171.88 L356.9 171.99 L357.16 172.1 L357.41 172.2 L357.67 172.31 L357.92 172.41 L358.18 172.5 L358.43 172.6 L358.69 172.69 L358.94 172.78 L359.2 172.87 L359.45 172.95 L359.71 173.03 L359.96 173.11 L360.22 173.19 L360.47 173.26 L360.73 173.33 L360.98 173.4 L361.24 173.47 L361.49 173.53 L361.75 173.59 L362 173.65 L362.26 173.7 L362.51 173.75 L362.77 173.8 L363.02 173.85 L363.28 173.89 L363.53 173.93 L363.79 173.97 L364.04 174 L364.3 174.04 L364.55 174.07 L364.81 174.09 L365.06 174.12 L365.32 174.14 L365.57 174.16 L365.83 174.17 L366.08 174.18 L366.34 174.19 L366.59 174.2 L366.85 174.21 L367.1 174.21 L367.54 174.21 L367.99 174.21 L368.43 174.22 L368.88 174.23 L369.32 174.24 L369.76 174.25 L370.21 174.27 L370.65 174.29 L371.1 174.31 L371.54 174.34 L371.99 174.37 L372.43 174.4 L372.87 174.43 L373.32 174.46 L373.76 174.5 L374.21 174.54 L374.65 174.59 L375.09 174.63 L375.54 174.68 L375.98 174.73 L376.43 174.79 L376.87 174.84 L377.31 174.9 L377.76 174.96 L378.2 175.03 L378.65 175.1 L379.09 175.17 L379.54 175.24 L379.98 175.31 L380.42 175.39 L380.87 175.47 L381.31 175.56 L381.76 175.64 L382.2 175.73 L382.64 175.82 L383.09 175.92 L383.53 176.02 L383.98 176.12 L384.42 176.22 L384.86 176.32 L385.31 176.43 L385.75 176.54 L386.2 176.66 L386.64 176.78 L387.08 176.89 L387.53 177.02 L387.97 177.14 L388.42 177.27 L388.86 177.4 L389.31 177.54 L389.75 177.67 L390.19 177.81 L390.64 177.96 L391.08 178.1 L391.53 178.25 L391.97 178.4 L392.41 178.56 L392.86 178.71 L393.3 178.87 L393.75 179.04 L394.19 179.2 L394.63 179.37 L395.08 179.55 L395.52 179.72 L395.97 179.9 L396.41 180.08 L396.86 180.27 L397.3 180.45 L397.74 180.64 L398.19 180.84 L398.63 181.03 L399.08 181.23 L399.52 181.44 L399.96 181.64 L400.41 181.85 L400.85 182.07 L401.3 182.28 L401.74 182.5 L402.18 182.72 L402.63 182.95 L403.07 183.18 L403.52 183.41 L403.96 183.65 L404.41 183.89 L404.85 184.13 L405.29 184.37 L405.74 184.62 L406.18 184.87 L406.63 185.13 L407.07 185.39 L407.51 185.65 L407.96 185.92 L408.4 186.19 L408.85 186.46 L409.29 186.74 L409.73 187.01 L410.18 187.3 L410.62 187.58 L411.07 187.87 L411.51 188.17 L411.96 188.46 L412.4 188.77 L412.84 189.07 L413.29 189.38 L413.73 189.69 L414.18 190 L414.62 190.32 L415.06 190.65 L415.51 190.97 L415.95 191.3 L416.4 191.63 L416.84 191.97 L417.28 192.31 L417.73 192.66 L418.17 193 L418.62 193.36 L419.06 193.71 L419.51 194.07 L419.95 194.44 L420.39 194.8 L420.84 195.17 L421.28 195.55 L421.73 195.93 L422.17 196.31 L422.61 196.7 L423.06 197.09 L423.5 197.48 L423.95 197.88 L424.39 198.28 L424.83 198.69 L425.28 199.1 L425.72 199.51 L426.17 199.93 L426.61 200.35 L427.05 200.78 L427.5 201.21 L427.94 201.64 L428.39 202.08 L428.83 202.53 L429.28 202.97 L429.72 203.42 L430.16 203.88 L430.61 204.34 L431.05 204.8 L431.5 205.27 L431.94 205.74 L432.38 206.21 L432.83 206.69 L433.27 207.18 L433.72 207.66 L434.16 208.16 L434.6 208.65 L435.05 209.15 L435.49 209.66 L435.94 209.3 L436.38 208.47 L436.83 207.64 L437.27 206.81 L437.71 205.99 L438.16 205.16 L438.6 204.34 L439.05 203.53 L439.49 202.71 L439.93 201.9 L440.38 201.09 L440.82 200.28 L441.27 199.47 L441.71 198.67 L442.15 197.87 L442.6 197.07 L443.04 196.27 L443.49 195.48 L443.93 194.69 L444.38 193.9 L444.82 193.12 L445.26 192.34 L445.71 191.56 L446.15 190.79 L446.6 190.01 L447.04 189.24 L447.48 188.48 L447.93 187.71 L448.37 186.95 L448.82 186.2 L449.26 185.44 L449.7 184.69 L450.15 183.94 L450.59 183.2 L451.04 182.46 L451.48 181.72 L451.93 180.98 L452.37 180.25 L452.81 179.52 L453.26 178.8 L453.7 178.07 L454.15 177.36 L454.59 176.64 L455.03 175.93 L455.48 175.22 L455.92 175.22 L456.37 175.93 L456.81 176.64 L457.25 177.36 L457.7 178.07 L458.14 178.8 L458.59 179.52 L459.03 180.25 L459.47 180.98 L459.92 181.72 L460.36 182.46 L460.81 183.2 L461.25 183.94 L461.7 184.69 L462.14 185.44 L462.58 186.2 L463.03 186.95 L463.47 187.71 L463.92 188.48 L464.36 189.24 L464.8 190.01 L465.25 190.79 L465.69 191.56 L466.14 192.34 L466.58 193.12 L467.02 193.9 L467.47 194.69 L467.91 195.48 L468.36 196.27 L468.8 197.07 L469.25 197.87 L469.69 198.67 L470.13 199.47 L470.58 200.28 L471.02 201.09 L471.47 201.9 L471.91 202.71 L472.35 203.53 L472.8 204.34 L473.24 205.16 L473.69 205.99 L474.13 206.81 L474.57 207.64 L475.02 208.47 L475.46 209.3 L475.91 209.66 L476.35 209.15 L476.8 208.65 L477.24 208.16 L477.68 207.66 L478.13 207.18 L478.57 206.69 L479.02 206.21 L479.46 205.74 L479.9 205.27 L480.35 204.8 L480.79 204.34 L481.24 203.88 L481.68 203.42 L482.12 202.97 L482.57 202.53 L483.01 202.08 L483.46 201.64 L483.9 201.21 L484.35 200.78 L484.79 200.35 L485.23 199.93 L485.68 199.51 L486.12 199.1 L486.57 198.69 L487.01 198.28 L487.45 197.88 L487.9 197.48 L488.34 197.09 L488.79 196.7 L489.23 196.31 L489.67 195.93 L490.12 195.55 L490.56 195.17 L491.01 194.8 L491.45 194.44 L491.89 194.07 L492.34 193.71 L492.78 193.36 L493.23 193 L493.67 192.66 L494.12 192.31 L494.56 191.97 L495 191.63 L495.45 191.3 L495.89 190.97 L496.34 190.65 L496.78 190.32 L497.22 190 L497.67 189.69 L498.11 189.38 L498.56 189.07 L499 188.77 L499.44 188.46 L499.89 188.17 L500.33 187.87 L500.78 187.58 L501.22 187.3 L501.67 187.01 L502.11 186.74 L502.55 186.46 L503 186.19 L503.44 185.92 L503.89 185.65 L504.33 185.39 L504.77 185.13 L505.22 184.87 L505.66 184.62 L506.11 184.37 L506.55 184.13 L506.99 183.89 L507.44 183.65 L507.88 183.41 L508.33 183.18 L508.77 182.95 L509.22 182.72 L509.66 182.5 L510.1 182.28 L510.55 182.07 L510.99 181.85 L511.44 181.64 L511.88 181.44 L512.32 181.23 L512.77 181.03 L513.21 180.84 L513.66 180.64 L514.1 180.45 L514.54 180.27 L514.99 180.08 L515.43 179.9 L515.88 179.72 L516.32 179.55 L516.77 179.37 L517.21 179.2 L517.65 179.04 L518.1 178.87 L518.54 178.71 L518.99 178.56 L519.43 178.4 L519.87 178.25 L520.32 178.1 L520.76 177.96 L521.21 177.81 L521.65 177.67 L522.09 177.54 L522.54 177.4 L522.98 177.27 L523.43 177.14 L523.87 177.02 L524.32 176.89 L524.76 176.78 L525.2 176.66 L525.65 176.54 L526.09 176.43 L526.54 176.32 L526.98 176.22 L527.42 176.12 L527.87 176.02 L528.31 175.92 L528.76 175.82 L529.2 175.73 L529.64 175.64 L530.09 175.56 L530.53 175.47 L530.98 175.39 L531.42 175.31 L531.86 175.24 L532.31 175.17 L532.75 175.1 L533.2 175.03 L533.64 174.96 L534.09 174.9 L534.53 174.84 L534.97 174.79 L535.42 174.73 L535.86 174.68 L536.31 174.63 L536.75 174.59 L537.19 174.54 L537.64 174.5 L538.08 174.46 L538.53 174.43 L538.97 174.4 L539.41 174.37 L539.86 174.34 L540.3 174.31 L540.75 174.29 L541.19 174.27 L541.64 174.25 L542.08 174.24 L542.52 174.23 L542.97 174.22 L543.41 174.21 L543.86 174.21 L544.3 174.21 L544.56 174.21 L544.81 174.21 L545.07 174.21 L545.32 174.21 L545.58 174.21 L545.84 174.2 L546.09 174.2 L546.35 174.2 L546.6 174.2 L546.86 174.2 L547.11 174.2 L547.37 174.2 L547.63 174.2 L547.88 174.19 L548.14 174.19 L548.39 174.19 L548.65 174.19 L548.91 174.19 L549.16 174.18 L549.42 174.18 L549.67 174.18 L549.93 174.18 L550.19 174.17 L550.44 174.17 L550.7 174.17 L550.95 174.16 L551.21 174.16 L551.46 174.16 L551.72 174.15 L551.98 174.15 L552.23 174.15 L552.49 174.14 L552.74 174.14 L553 174.13 L553.26 174.13 L553.51 174.12 L553.77 174.12 L554.02 174.12 L554.28 174.11 L554.54 174.11 L554.79 174.1 L555.05 174.1 L555.3 174.09 L555.56 174.08 L555.82 174.08 L556.07 174.07 L556.33 174.07 L556.58 174.06 L556.84 174.06 L557.09 174.05 L557.35 174.04 L557.61 174.04 L557.86 174.03 L558.12 174.02 L558.37 174.02 L558.63 174.01 L558.89 174 L559.14 174 L559.4 173.99 L559.65 173.98 L559.91 173.97 L560.17 173.97 L560.42 173.96 L560.68 173.95 L560.93 173.94 L561.19 173.93 L561.44 173.93 L561.7 173.92 L561.96 173.91 L562.21 173.9 L562.47 173.89 L562.72 173.88 L562.98 173.88 L563.24 173.87 L563.49 173.86 L563.75 173.85 L564 173.84 L564.26 173.83 L564.52 173.82 L564.77 173.81 L565.03 173.8 L565.28 173.79 L565.54 173.78 L565.79 173.77 L566.05 173.76 L566.31 173.75 L566.56 173.74 L566.82 173.73 L567.07 173.72 L567.33 173.71 L567.59 173.7 L567.84 173.69 L568.1 173.68 L568.35 173.67 L568.61 173.66 L568.87 173.65 L569.12 173.64 L569.38 173.62 L569.63 173.61 L569.89 173.6 L570.14 173.59 L570.4 173.58 L570.66 173.57 L570.91 173.55 L571.17 173.54 L571.42 173.53 L571.68 173.52 L571.94 173.51 L572.19 173.49 L572.45 173.48 L572.7 173.47 L572.96 173.46 L573.22 173.45 L573.47 173.43 L573.73 173.42 L573.98 173.41 L574.24 173.39 L574.49 173.38 L574.75 173.37 L575.01 173.36 L575.26 173.34 L575.52 173.33 L575.77 173.32 L576.03 173.3 L576.29 173.29 L576.54 173.28 L576.8 173.26 L577.05 173.25 L577.31 173.23 L577.57 173.22 L577.82 173.21 L578.08 173.19 L578.33 173.18 L578.59 173.17 L578.85 173.15 L579.1 173.14 L579.36 173.12 L579.61 173.11 L579.87 173.09 L580.12 173.08 L580.38 173.07 L580.64 173.05 L580.89 173.04 L581.15 173.02 L581.4 173.01 L581.66 172.99 L581.92 172.98 L582.17 172.96 L582.43 172.95 L582.68 172.93 L582.94 172.92 L583.2 172.9 L583.45 172.89 L583.71 172.87 L583.96 172.86 L584.22 172.84 L584.47 172.83 L584.73 172.81 L584.99 172.8 L585.24 172.78 L585.5 172.77 L585.75 172.75 L586.01 172.74 L586.27 172.72 L586.52 172.7 L586.78 172.69 L587.03 172.67 L587.29 172.66 L587.55 172.64 L587.8 172.63 L588.06 172.61 L588.31 172.59 L588.57 172.58 L588.82 172.56 L589.08 172.55 L589.34 172.53 L589.59 172.52 L589.85 172.5 L590.1 172.48 L590.36 172.47 L590.62 172.45 L590.87 172.44 L591.13 172.42 L591.38 172.4 L591.64 172.39 L591.9 172.37 L592.15 172.36 L592.41 172.34 L592.66 172.32 L592.92 172.31 L593.17 172.29 L593.43 172.28 L593.69 172.26 L593.94 172.24 L594.2 172.23 L594.45 172.21 L594.71 172.2 L594.97 172.18 L595.22 172.16 L595.48 172.15 L595.73 172.13 L595.99 172.12 L596.25 172.1 L596.5 172.08 L596.76 172.07 L597.01 172.05 L597.27 172.03 L597.53 172.02 L597.78 172 L598.04 171.99 L598.29 171.97 L598.55 171.95 L598.8 171.94 L599.06 171.92 L599.32 171.91 L599.57 171.89 L599.83 171.87 L600.08 171.86 L600.34 171.84 L600.6 171.83 L600.85 171.81 L601.11 171.8 L601.36 171.78 L601.62 171.76 L601.88 171.75 L602.13 171.73 L602.39 171.72 L602.64 171.7 L602.9 171.69 L603.15 171.67 L603.41 171.65 L603.67 171.64 L603.92 171.62 L604.18 171.61 L604.43 171.59 L604.69 171.58 L604.95 171.56 L605.2 171.55 L605.46 171.53 L605.71 171.52 L605.97 171.5 L606.23 171.48 L606.48 171.47 L606.74 171.45 L606.99 171.44 L607.25 171.42 L607.5 171.41 L607.76 171.39 L608.02 171.38 L608.27 171.37 L608.53 171.35 L608.78 171.34 L609.04 171.32 L609.3 171.31 L609.55 171.29 L609.81 171.28 L610.06 171.26 L610.32 171.25 L610.58 171.23 L610.83 171.22 L611.09 171.21 L611.34 171.19 L611.6 171.18 L611.85 171.16 L612.11 171.15 L612.37 171.14 L612.62 171.12 L612.88 171.11 L613.13 171.09 L613.39 171.08 L613.65 171.07 L613.9 171.05 L614.16 171.04 L614.41 171.03 L614.67 171.01 L614.93 171 L615.18 170.99 L615.44 170.97 L615.69 170.96 L615.95 170.95 L616.21 170.93 L616.46 170.92 L616.72 170.91 L616.97 170.9 L617.23 170.88 L617.48 170.87 L617.74 170.86 L618 170.85 L618.25 170.83 L618.51 170.82 L618.76 170.81 L619.02 170.8 L619.28 170.79 L619.53 170.77 L619.79 170.76 L620.04 170.75 L620.3 170.74 L620.56 170.73 L620.81 170.72 L621.07 170.71 L621.32 170.69 L621.58 170.68 L621.83 170.67 L622.09 170.66 L622.35 170.65 L622.6 170.64 L622.86 170.63 L623.11 170.62 L623.37 170.61 L623.63 170.6 L623.88 170.59 L624.14 170.58 L624.39 170.57 L624.65 170.56 L624.91 170.55 L625.16 170.54 L625.42 170.53 L625.67 170.52 L625.93 170.51 L626.18 170.5 L626.44 170.49 L626.7 170.48 L626.95 170.47 L627.21 170.46 L627.46 170.45 L627.72 170.45 L627.98 170.44 L628.23 170.43 L628.49 170.42 L628.74 170.41 L629 170.4 L629.26 170.39 L629.51 170.39 L629.77 170.38 L630.02 170.37 L630.28 170.36 L630.53 170.36 L630.79 170.35 L631.05 170.34 L631.3 170.33 L631.56 170.33 L631.81 170.32 L632.07 170.31 L632.33 170.31 L632.58 170.3 L632.84 170.29 L633.09 170.29 L633.35 170.28 L633.61 170.27 L633.86 170.27 L634.12 170.26 L634.37 170.26 L634.63 170.25 L634.88 170.24 L635.14 170.24 L635.4 170.23 L635.65 170.23 L635.91 170.22 L636.16 170.22 L636.42 170.21 L636.68 170.21 L636.93 170.2 L637.19 170.2 L637.44 170.2 L637.7 170.19 L637.96 170.19 L638.21 170.18 L638.47 170.18 L638.72 170.18 L638.98 170.17 L639.24 170.17 L639.49 170.16 L639.75 170.16 L640 170.16 L640.26 170.16 L640.51 170.15 L640.77 170.15 L641.03 170.15 L641.28 170.14 L641.54 170.14 L641.79 170.14 L642.05 170.14 L642.31 170.14 L642.56 170.13 L642.82 170.13 L643.07 170.13 L643.33 170.13 L643.59 170.13 L643.84 170.13 L644.1 170.12 L644.35 170.12 L644.61 170.12 L644.86 170.12 L645.12 170.12 L645.38 170.12 L645.63 170.12 L645.89 170.12 L646.14 170.12 L646.4 170.12 L646.66 170.12 L646.91 170.12 L647.17 170.12 L647.42 170.12 L647.68 170.12 L647.93 170.12 L648.19 170.12 L648.44 170.12 L648.7 170.12 L648.95 170.13 L649.21 170.13 L649.46 170.13 L649.72 170.13 L649.97 170.13 L650.23 170.13 L650.48 170.14 L650.74 170.14 L650.99 170.14 L651.25 170.14 L651.5 170.14 L651.76 170.15 L652.01 170.15 L652.27 170.15 L652.52 170.16 L652.78 170.16 L653.03 170.16 L653.29 170.16 L653.54 170.17 L653.8 170.17 L654.05 170.18 L654.31 170.18 L654.56 170.18 L654.82 170.19 L655.07 170.19 L655.33 170.2 L655.58 170.2 L655.84 170.2 L656.1 170.21 L656.35 170.21 L656.61 170.22 L656.86 170.22 L657.12 170.23 L657.37 170.23 L657.63 170.24 L657.88 170.24 L658.14 170.25 L658.39 170.26 L658.65 170.26 L658.9 170.27 L659.16 170.27 L659.41 170.28 L659.67 170.29 L659.92 170.29 L660.18 170.3 L660.43 170.31 L660.69 170.31 L660.94 170.32 L661.2 170.33 L661.45 170.33 L661.71 170.34 L661.96 170.35 L662.22 170.36 L662.47 170.36 L662.73 170.37 L662.98 170.38 L663.24 170.39 L663.49 170.39 L663.75 170.4 L664 170.41 L664.26 170.42 L664.51 170.43 L664.77 170.44 L665.03 170.45 L665.28 170.45 L665.54 170.46 L665.79 170.47 L666.05 170.48 L666.3 170.49 L666.56 170.5 L666.81 170.51 L667.07 170.52 L667.32 170.53 L667.58 170.54 L667.83 170.55 L668.09 170.56 L668.34 170.57 L668.6 170.58 L668.85 170.59 L669.11 170.6 L669.36 170.61 L669.62 170.62 L669.87 170.63 L670.13 170.64 L670.38 170.65 L670.64 170.66 L670.89 170.67 L671.15 170.68 L671.4 170.69 L671.66 170.71 L671.91 170.72 L672.17 170.73 L672.42 170.74 L672.68 170.75 L672.93 170.76 L673.19 170.77 L673.44 170.79 L673.7 170.8 L673.95 170.81 L674.21 170.82 L674.47 170.83 L674.72 170.85 L674.98 170.86 L675.23 170.87 L675.49 170.88 L675.74 170.9 L676 170.91 L676.25 170.92 L676.51 170.93 L676.76 170.95 L677.02 170.96 L677.27 170.97 L677.53 170.99 L677.78 171 L678.04 171.01 L678.29 171.03 L678.55 171.04 L678.8 171.05 L679.06 171.07 L679.31 171.08 L679.57 171.09 L679.82 171.11 L680.08 171.12 L680.33 171.14 L680.59 171.15 L680.84 171.16 L681.1 171.18 L681.35 171.19 L681.61 171.21 L681.86 171.22 L682.12 171.23 L682.37 171.25 L682.63 171.26 L682.88 171.28 L683.14 171.29 L683.39 171.31 L683.65 171.32 L683.91 171.34 L684.16 171.35 L684.42 171.37 L684.67 171.38 L684.93 171.39 L685.18 171.41 L685.44 171.42 L685.69 171.44 L685.95 171.45 L686.2 171.47 L686.46 171.48 L686.71 171.5 L686.97 171.52 L687.22 171.53 L687.48 171.55 L687.73 171.56 L687.99 171.58 L688.24 171.59 L688.5 171.61 L688.75 171.62 L689.01 171.64 L689.26 171.65 L689.52 171.67 L689.77 171.69 L690.03 171.7 L690.28 171.72 L690.54 171.73 L690.79 171.75 L691.05 171.76 L691.3 171.78 L691.56 171.8 L691.81 171.81 L692.07 171.83 L692.32 171.84 L692.58 171.86 L692.84 171.87 L693.09 171.89 L693.35 171.91 L693.6 171.92 L693.86 171.94 L694.11 171.95 L694.37 171.97 L694.62 171.99 L694.88 172 L695.13 172.02 L695.39 172.03 L695.64 172.05 L695.9 172.07 L696.15 172.08 L696.41 172.1 L696.66 172.12 L696.92 172.13 L697.17 172.15 L697.43 172.16 L697.68 172.18 L697.94 172.2 L698.19 172.21 L698.45 172.23 L698.7 172.24 L698.96 172.26 L699.21 172.28 L699.47 172.29 L699.72 172.31 L699.98 172.32 L700.23 172.34 L700.49 172.36 L700.74 172.37 L701 172.39 L701.25 172.4 L701.51 172.42 L701.76 172.44 L702.02 172.45 L702.28 172.47 L702.53 172.48 L702.79 172.5 L703.04 172.52 L703.3 172.53 L703.55 172.55 L703.81 172.56 L704.06 172.58 L704.32 172.59 L704.57 172.61 L704.83 172.63 L705.08 172.64 L705.34 172.66 L705.59 172.67 L705.85 172.69 L706.1 172.7 L706.36 172.72 L706.61 172.74 L706.87 172.75 L707.12 172.77 L707.38 172.78 L707.63 172.8 L707.89 172.81 L708.14 172.83 L708.4 172.84 L708.65 172.86 L708.91 172.87 L709.16 172.89 L709.42 172.9 L709.67 172.92 L709.93 172.93 L710.18 172.95 L710.44 172.96 L710.69 172.98 L710.95 172.99 L711.21 173.01 L711.46 173.02 L711.72 173.04 L711.97 173.05 L712.23 173.07 L712.48 173.08 L712.74 173.09 L712.99 173.11 L713.25 173.12 L713.5 173.14 L713.76 173.15 L714.01 173.17 L714.27 173.18 L714.52 173.19 L714.78 173.21 L715.03 173.22 L715.29 173.23 L715.54 173.25 L715.8 173.26 L716.05 173.28 L716.31 173.29 L716.56 173.3 L716.82 173.32 L717.07 173.33 L717.33 173.34 L717.58 173.36 L717.84 173.37 L718.09 173.38 L718.35 173.39 L718.6 173.41 L718.86 173.42 L719.11 173.43 L719.37 173.45 L719.62 173.46 L719.88 173.47 L720.13 173.48 L720.39 173.49 L720.65 173.51 L720.9 173.52 L721.16 173.53 L721.41 173.54 L721.67 173.55 L721.92 173.57 L722.18 173.58 L722.43 173.59 L722.69 173.6 L722.94 173.61 L723.2 173.62 L723.45 173.64 L723.71 173.65 L723.96 173.66 L724.22 173.67 L724.47 173.68 L724.73 173.69 L724.98 173.7 L725.24 173.71 L725.49 173.72 L725.75 173.73 L726 173.74 L726.26 173.75 L726.51 173.76 L726.77 173.77 L727.02 173.78 L727.28 173.79 L727.53 173.8 L727.79 173.81 L728.04 173.82 L728.3 173.83 L728.55 173.84 L728.81 173.85 L729.06 173.86 L729.32 173.87 L729.57 173.88 L729.83 173.88 L730.09 173.89 L730.34 173.9 L730.6 173.91 L730.85 173.92 L731.11 173.93 L731.36 173.93 L731.62 173.94 L731.87 173.95 L732.13 173.96 L732.38 173.97 L732.64 173.97 L732.89 173.98 L733.15 173.99 L733.4 174 L733.66 174 L733.91 174.01 L734.17 174.02 L734.42 174.02 L734.68 174.03 L734.93 174.04 L735.19 174.04 L735.44 174.05 L735.7 174.06 L735.95 174.06 L736.21 174.07 L736.46 174.07 L736.72 174.08 L736.97 174.08 L737.23 174.09 L737.48 174.1 L737.74 174.1 L737.99 174.11 L738.25 174.11 L738.5 174.12 L738.76 174.12 L739.02 174.12 L739.27 174.13 L739.53 174.13 L739.78 174.14 L740.04 174.14 L740.29 174.15 L740.55 174.15 L740.8 174.15 L741.06 174.16 L741.31 174.16 L741.57 174.16 L741.82 174.17 L742.08 174.17 L742.33 174.17 L742.59 174.18 L742.84 174.18 L743.1 174.18 L743.35 174.18 L743.61 174.19 L743.86 174.19 L744.12 174.19 L744.37 174.19 L744.63 174.19 L744.88 174.2 L745.14 174.2 L745.39 174.2 L745.65 174.2 L745.9 174.2 L746.16 174.2 L746.41 174.2 L746.67 174.2 L746.92 174.21 L747.18 174.21 L747.43 174.21 L747.69 174.21 L747.94 174.21 L748.2 174.21" stroke="#0000ff"/>
<path d="M88.8 106.91 L89.24 106.91 L89.69 106.92 L90.13 106.93 L90.57 106.94 L91.01 106.95 L91.46 106.97 L91.9 106.99 L92.34 107.01 L92.78 107.04 L93.23 107.07 L93.67 107.1 L94.11 107.14 L94.55 107.18 L95 107.22 L95.44 107.26 L95.88 107.31 L96.32 107.37 L96.77 107.42 L97.21 107.48 L97.65 107.54 L98.09 107.6 L98.54 107.67 L98.98 107.74 L99.42 107.82 L99.87 107.89 L100.31 107.97 L100.75 108.06 L101.19 108.14 L101.64 108.23 L102.08 108.33 L102.52 108.42 L102.96 108.52 L103.41 108.63 L103.85 108.73 L104.29 108.84 L104.73 108.95 L105.18 109.07 L105.62 109.19 L106.06 109.31 L106.5 109.44 L106.95 109.56 L107.39 109.7 L107.83 109.83 L108.27 109.97 L108.72 110.11 L109.16 110.26 L109.6 110.4 L110.05 110.56 L110.49 110.71 L110.93 110.87 L111.37 111.03 L111.82 111.19 L112.26 111.36 L112.7 111.53 L113.14 111.71 L113.59 111.89 L114.03 112.07 L114.47 112.25 L114.91 112.44 L115.36 112.63 L115.8 112.82 L116.24 113.02 L116.68 113.22 L117.13 113.43 L117.57 113.64 L118.01 113.85 L118.45 114.06 L118.9 114.28 L119.34 114.5 L119.78 114.73 L120.23 114.96 L120.67 115.19 L121.11 115.42 L121.55 115.66 L122 115.91 L122.44 116.15 L122.88 116.4 L123.32 116.65 L123.77 116.91 L124.21 117.17 L124.65 117.43 L125.09 117.7 L125.54 117.97 L125.98 118.24 L126.42 118.52 L126.86 118.8 L127.31 119.09 L127.75 119.37 L128.19 119.66 L128.63 119.96 L129.08 120.26 L129.52 120.56 L129.96 120.87 L130.41 121.18 L130.85 121.49 L131.29 121.81 L131.73 122.13 L132.18 122.45 L132.62 122.78 L133.06 123.11 L133.5 123.44 L133.95 123.78 L134.39 124.12 L134.83 124.47 L135.27 124.82 L135.72 125.17 L136.16 125.53 L136.6 125.89 L137.04 126.25 L137.49 126.62 L137.93 126.99 L138.37 127.37 L138.81 127.75 L139.26 128.13 L139.7 128.52 L140.14 128.91 L140.58 129.3 L141.03 129.7 L141.47 130.1 L141.91 130.5 L142.36 130.91 L142.8 131.33 L143.24 131.74 L143.68 132.16 L144.13 132.59 L144.57 133.02 L145.01 133.45 L145.45 133.88 L145.9 134.32 L146.34 134.76 L146.78 135.21 L147.22 135.66 L147.67 136.12 L148.11 136.57 L148.55 137.04 L148.99 137.5 L149.44 137.97 L149.88 138.45 L150.32 138.92 L150.76 139.4 L151.21 139.89 L151.65 140.38 L152.09 140.87 L152.54 141.37 L152.98 141.87 L153.42 142.37 L153.86 142.88 L154.31 143.39 L154.75 143.91 L155.19 144.43 L155.63 144.95 L156.08 145.48 L156.52 146.01 L156.96 146.55 L157.4 147.08 L157.85 147.63 L158.29 148.17 L158.73 148.72 L159.17 149.28 L159.62 149.84 L160.06 150.4 L160.5 150.96 L160.94 151.53 L161.39 152.11 L161.83 152.68 L162.27 153.26 L162.72 153.85 L163.16 154.44 L163.6 155.03 L164.04 155.62 L164.49 156.22 L164.93 156.83 L165.37 157.44 L165.81 158.05 L166.26 158.66 L166.7 159.28 L167.14 159.9 L167.58 160.53 L168.03 161.16 L168.47 161.79 L168.91 162.43 L169.35 163.07 L169.8 163.71 L170.24 164.36 L170.68 165.01 L171.12 165.67 L171.57 166.33 L172.01 166.99 L172.45 167.66 L172.9 168.33 L173.34 169 L173.78 169.68 L174.22 170.36 L174.67 171.04 L175.11 171.73 L175.55 172.42 L175.99 173.11 L176.44 173.81 L176.88 174.51 L177.32 174.51 L177.76 173.81 L178.21 173.11 L178.65 172.42 L179.09 171.73 L179.53 171.04 L179.98 170.36 L180.42 169.68 L180.86 169 L181.3 168.33 L181.75 167.66 L182.19 166.99 L182.63 166.33 L183.08 165.67 L183.52 165.01 L183.96 164.36 L184.4 163.71 L184.85 163.07 L185.29 162.43 L185.73 161.79 L186.17 161.16 L186.62 160.53 L187.06 159.9 L187.5 159.28 L187.94 158.66 L188.39 158.05 L188.83 157.44 L189.27 156.83 L189.71 156.22 L190.16 155.62 L190.6 155.03 L191.04 154.44 L191.48 153.85 L191.93 153.26 L192.37 152.68 L192.81 152.11 L193.26 151.53 L193.7 150.96 L194.14 150.4 L194.58 149.84 L195.03 149.28 L195.47 148.72 L195.91 148.17 L196.35 147.63 L196.8 147.08 L197.24 146.55 L197.68 146.01 L198.12 145.48 L198.57 144.95 L199.01 144.43 L199.45 143.91 L199.89 143.39 L200.34 142.88 L200.78 142.37 L201.22 141.87 L201.66 141.37 L202.11 140.87 L202.55 140.38 L202.99 139.89 L203.44 139.4 L203.88 138.92 L204.32 138.45 L204.76 137.97 L205.21 137.5 L205.65 137.04 L206.09 136.57 L206.53 136.12 L206.98 135.66 L207.42 135.21 L207.86 134.76 L208.3 134.32 L208.75 133.88 L209.19 133.45 L209.63 133.02 L210.07 132.59 L210.52 132.16 L210.96 131.74 L211.4 131.33 L211.84 130.91 L212.29 130.5 L212.73 130.1 L213.17 129.7 L213.62 129.3 L214.06 128.91 L214.5 128.52 L214.94 128.13 L215.39 127.75 L215.83 127.37 L216.27 126.99 L216.71 126.62 L217.16 126.25 L217.6 125.89 L218.04 125.53 L218.48 125.17 L218.93 124.82 L219.37 124.47 L219.81 124.12 L220.25 123.78 L220.7 123.44 L221.14 123.11 L221.58 122.78 L222.02 122.45 L222.47 122.13 L222.91 121.81 L223.35 121.49 L223.79 121.18 L224.24 120.87 L224.68 120.56 L225.12 120.26 L225.57 119.96 L226.01 119.66 L226.45 119.37 L226.89 119.09 L227.34 118.8 L227.78 118.52 L228.22 118.24 L228.66 117.97 L229.11 117.7 L229.55 117.43 L229.99 117.17 L230.43 116.91 L230.88 116.65 L231.32 116.4 L231.76 116.15 L232.2 115.91 L232.65 115.66 L233.09 115.42 L233.53 115.19 L233.97 114.96 L234.42 114.73 L234.86 114.5 L235.3 114.28 L235.75 114.06 L236.19 113.85 L236.63 113.64 L237.07 113.43 L237.52 113.22 L237.96 113.02 L238.4 112.82 L238.84 112.63 L239.29 112.44 L239.73 112.25 L240.17 112.07 L240.61 111.89 L241.06 111.71 L241.5 111.53 L241.94 111.36 L242.38 111.19 L242.83 111.03 L243.27 110.87 L243.71 110.71 L244.15 110.56 L244.6 110.4 L245.04 110.26 L245.48 110.11 L245.93 109.97 L246.37 109.83 L246.81 109.7 L247.25 109.56 L247.7 109.44 L248.14 109.31 L248.58 109.19 L249.02 109.07 L249.47 108.95 L249.91 108.84 L250.35 108.73 L250.79 108.63 L251.24 108.52 L251.68 108.42 L252.12 108.33 L252.56 108.23 L253.01 108.14 L253.45 108.06 L253.89 107.97 L254.33 107.89 L254.78 107.82 L255.22 107.74 L255.66 107.67 L256.11 107.6 L256.55 107.54 L256.99 107.48 L257.43 107.42 L257.88 107.37 L258.32 107.31 L258.76 107.26 L259.2 107.22 L259.65 107.18 L260.09 107.14 L260.53 107.1 L260.97 107.07 L261.42 107.04 L261.86 107.01 L262.3 106.99 L262.74 106.97 L263.19 106.95 L263.63 106.94 L264.07 106.93 L264.51 106.92 L264.96 106.91 L265.4 106.91 L265.65 106.91 L265.91 106.91 L266.16 106.92 L266.42 106.92 L266.67 106.93 L266.93 106.94 L267.18 106.95 L267.44 106.96 L267.69 106.97 L267.95 106.99 L268.2 107 L268.46 107.02 L268.71 107.04 L268.97 107.06 L269.22 107.08 L269.48 107.1 L269.73 107.13 L269.99 107.15 L270.24 107.18 L270.5 107.21 L270.75 107.24 L271.01 107.27 L271.26 107.31 L271.52 107.34 L271.77 107.38 L272.03 107.42 L272.28 107.46 L272.54 107.5 L272.79 107.54 L273.05 107.59 L273.3 107.63 L273.56 107.68 L273.81 107.73 L274.07 107.78 L274.32 107.83 L274.58 107.88 L274.83 107.94 L275.09 107.99 L275.34 108.05 L275.6 108.11 L275.85 108.17 L276.11 108.23 L276.36 108.3 L276.62 108.36 L276.87 108.43 L277.12 108.5 L277.38 108.57 L277.63 108.64 L277.89 108.71 L278.14 108.78 L278.4 108.86 L278.65 108.94 L278.91 109.02 L279.16 109.1 L279.42 109.18 L279.67 109.26 L279.93 109.35 L280.18 109.43 L280.44 109.52 L280.69 109.61 L280.95 109.7 L281.2 109.79 L281.46 109.88 L281.71 109.98 L281.97 110.08 L282.22 110.17 L282.48 110.27 L282.73 110.37 L282.99 110.48 L283.24 110.58 L283.5 110.69 L283.75 110.79 L284.01 110.9 L284.26 111.01 L284.52 111.12 L284.77 111.23 L285.03 111.35 L285.28 111.46 L285.54 111.58 L285.79 111.7 L286.05 111.82 L286.3 111.94 L286.56 112.06 L286.81 112.19 L287.07 112.31 L287.32 112.44 L287.58 112.57 L287.83 112.7 L288.08 112.83 L288.34 112.97 L288.59 113.1 L288.85 113.24 L289.1 113.37 L289.36 113.51 L289.61 113.65 L289.87 113.8 L290.12 113.94 L290.38 114.08 L290.63 114.23 L290.89 114.38 L291.14 114.53 L291.4 114.68 L291.65 114.83 L291.91 114.98 L292.16 115.14 L292.42 115.29 L292.67 115.45 L292.93 115.61 L293.18 115.77 L293.44 115.93 L293.69 116.09 L293.95 116.26 L294.2 116.42 L294.46 116.59 L294.71 116.76 L294.97 116.93 L295.22 117.1 L295.48 117.27 L295.73 117.45 L295.99 117.62 L296.24 117.8 L296.5 117.98 L296.75 118.16 L297.01 118.34 L297.26 118.52 L297.52 118.7 L297.77 118.89 L298.03 119.08 L298.28 119.26 L298.54 119.45 L298.79 119.64 L299.05 119.83 L299.3 120.03 L299.55 120.22 L299.81 120.42 L300.06 120.61 L300.32 120.81 L300.57 121.01 L300.83 121.21 L301.08 121.41 L301.34 121.61 L301.59 121.82 L301.85 122.02 L302.1 122.23 L302.36 122.44 L302.61 122.65 L302.87 122.86 L303.12 123.07 L303.38 123.28 L303.63 123.49 L303.89 123.71 L304.14 123.93 L304.4 124.14 L304.65 124.36 L304.91 124.58 L305.16 124.8 L305.42 125.02 L305.67 125.25 L305.93 125.47 L306.18 125.7 L306.44 125.92 L306.69 126.15 L306.95 126.38 L307.2 126.61 L307.46 126.84 L307.71 127.07 L307.97 127.3 L308.22 127.54 L308.48 127.77 L308.73 128.01 L308.99 128.24 L309.24 128.48 L309.5 128.72 L309.75 128.96 L310.01 129.2 L310.26 129.44 L310.52 129.68 L310.77 129.93 L311.02 130.17 L311.28 130.42 L311.53 130.66 L311.79 130.91 L312.04 131.16 L312.3 131.41 L312.55 131.66 L312.81 131.91 L313.06 132.16 L313.32 132.41 L313.57 132.66 L313.83 132.92 L314.08 133.17 L314.34 133.43 L314.59 133.68 L314.85 133.94 L315.1 134.2 L315.36 134.45 L315.61 134.71 L315.87 134.97 L316.12 135.23 L316.38 135.23 L316.63 134.97 L316.89 134.71 L317.14 134.45 L317.4 134.2 L317.65 133.94 L317.91 133.68 L318.16 133.43 L318.42 133.17 L318.67 132.92 L318.93 132.66 L319.18 132.41 L319.44 132.16 L319.69 131.91 L319.95 131.66 L320.2 131.41 L320.46 131.16 L320.71 130.91 L320.97 130.66 L321.22 130.42 L321.48 130.17 L321.73 129.93 L321.98 129.68 L322.24 129.44 L322.49 129.2 L322.75 128.96 L323 128.72 L323.26 128.48 L323.51 128.24 L323.77 128.01 L324.02 127.77 L324.28 127.54 L324.53 127.3 L324.79 127.07 L325.04 126.84 L325.3 126.61 L325.55 126.38 L325.81 126.15 L326.06 125.92 L326.32 125.7 L326.57 125.47 L326.83 125.25 L327.08 125.02 L327.34 124.8 L327.59 124.58 L327.85 124.36 L328.1 124.14 L328.36 123.93 L328.61 123.71 L328.87 123.49 L329.12 123.28 L329.38 123.07 L329.63 122.86 L329.89 122.65 L330.14 122.44 L330.4 122.23 L330.65 122.02 L330.91 121.82 L331.16 121.61 L331.42 121.41 L331.67 121.21 L331.93 121.01 L332.18 120.81 L332.44 120.61 L332.69 120.42 L332.95 120.22 L333.2 120.03 L333.45 119.83 L333.71 119.64 L333.96 119.45 L334.22 119.26 L334.47 119.08 L334.73 118.89 L334.98 118.7 L335.24 118.52 L335.49 118.34 L335.75 118.16 L336 117.98 L336.26 117.8 L336.51 117.62 L336.77 117.45 L337.02 117.27 L337.28 117.1 L337.53 116.93 L337.79 116.76 L338.04 116.59 L338.3 116.42 L338.55 116.26 L338.81 116.09 L339.06 115.93 L339.32 115.77 L339.57 115.61 L339.83 115.45 L340.08 115.29 L340.34 115.14 L340.59 114.98 L340.85 114.83 L341.1 114.68 L341.36 114.53 L341.61 114.38 L341.87 114.23 L342.12 114.08 L342.38 113.94 L342.63 113.8 L342.89 113.65 L343.14 113.51 L343.4 113.37 L343.65 113.24 L343.91 113.1 L344.16 112.97 L344.42 112.83 L344.67 112.7 L344.92 112.57 L345.18 112.44 L345.43 112.31 L345.69 112.19 L345.94 112.06 L346.2 111.94 L346.45 111.82 L346.71 111.7 L346.96 111.58 L347.22 111.46 L347.47 111.35 L347.73 111.23 L347.98 111.12 L348.24 111.01 L348.49 110.9 L348.75 110.79 L349 110.69 L349.26 110.58 L349.51 110.48 L349.77 110.37 L350.02 110.27 L350.28 110.17 L350.53 110.08 L350.79 109.98 L351.04 109.88 L351.3 109.79 L351.55 109.7 L351.81 109.61 L352.06 109.52 L352.32 109.43 L352.57 109.35 L352.83 109.26 L353.08 109.18 L353.34 109.1 L353.59 109.02 L353.85 108.94 L354.1 108.86 L354.36 108.78 L354.61 108.71 L354.87 108.64 L355.12 108.57 L355.38 108.5 L355.63 108.43 L355.88 108.36 L356.14 108.3 L356.39 108.23 L356.65 108.17 L356.9 108.11 L357.16 108.05 L357.41 107.99 L357.67 107.94 L357.92 107.88 L358.18 107.83 L358.43 107.78 L358.69 107.73 L358.94 107.68 L359.2 107.63 L359.45 107.59 L359.71 107.54 L359.96 107.5 L360.22 107.46 L360.47 107.42 L360.73 107.38 L360.98 107.34 L361.24 107.31 L361.49 107.27 L361.75 107.24 L362 107.21 L362.26 107.18 L362.51 107.15 L362.77 107.13 L363.02 107.1 L363.28 107.08 L363.53 107.06 L363.79 107.04 L364.04 107.02 L364.3 107 L364.55 106.99 L364.81 106.97 L365.06 106.96 L365.32 106.95 L365.57 106.94 L365.83 106.93 L366.08 106.92 L366.34 106.92 L366.59 106.91 L366.85 106.91 L367.1 106.91 L367.54 106.91 L367.99 106.92 L368.43 106.93 L368.88 106.94 L369.32 106.95 L369.76 106.97 L370.21 106.99 L370.65 107.01 L371.1 107.04 L371.54 107.07 L371.99 107.1 L372.43 107.14 L372.87 107.18 L373.32 107.22 L373.76 107.26 L374.21 107.31 L374.65 107.37 L375.09 107.42 L375.54 107.48 L375.98 107.54 L376.43 107.6 L376.87 107.67 L377.31 107.74 L377.76 107.82 L378.2 107.89 L378.65 107.97 L379.09 108.06 L379.54 108.14 L379.98 108.23 L380.42 108.33 L380.87 108.42 L381.31 108.52 L381.76 108.63 L382.2 108.73 L382.64 108.84 L383.09 108.95 L383.53 109.07 L383.98 109.19 L384.42 109.31 L384.86 109.44 L385.31 109.56 L385.75 109.7 L386.2 109.83 L386.64 109.97 L387.08 110.11 L387.53 110.26 L387.97 110.4 L388.42 110.56 L388.86 110.71 L389.31 110.87 L389.75 111.03 L390.19 111.19 L390.64 111.36 L391.08 111.53 L391.53 111.71 L391.97 111.89 L392.41 112.07 L392.86 112.25 L393.3 112.44 L393.75 112.63 L394.19 112.82 L394.63 113.02 L395.08 113.22 L395.52 113.43 L395.97 113.64 L396.41 113.85 L396.86 114.06 L397.3 114.28 L397.74 114.5 L398.19 114.73 L398.63 114.96 L399.08 115.19 L399.52 115.42 L399.96 115.66 L400.41 115.91 L400.85 116.15 L401.3 116.4 L401.74 116.65 L402.18 116.91 L402.63 117.17 L403.07 117.43 L403.52 117.7 L403.96 117.97 L404.41 118.24 L404.85 118.52 L405.29 118.8 L405.74 119.09 L406.18 119.37 L406.63 119.66 L407.07 119.96 L407.51 120.26 L407.96 120.56 L408.4 120.87 L408.85 121.18 L409.29 121.49 L409.73 121.81 L410.18 122.13 L410.62 122.45 L411.07 122.78 L411.51 123.11 L411.96 123.44 L412.4 123.78 L412.84 124.12 L413.29 124.47 L413.73 124.82 L414.18 125.17 L414.62 125.53 L415.06 125.89 L415.51 126.25 L415.95 126.62 L416.4 126.99 L416.84 127.37 L417.28 127.75 L417.73 128.13 L418.17 128.52 L418.62 128.91 L419.06 129.3 L419.51 129.7 L419.95 130.1 L420.39 130.5 L420.84 130.91 L421.28 131.33 L421.73 131.74 L422.17 132.16 L422.61 132.59 L423.06 133.02 L423.5 133.45 L423.95 133.88 L424.39 134.32 L424.83 134.76 L425.28 135.21 L425.72 135.66 L426.17 136.12 L426.61 136.57 L427.05 137.04 L427.5 137.5 L427.94 137.97 L428.39 138.45 L428.83 138.92 L429.28 139.4 L429.72 139.89 L430.16 140.38 L430.61 140.87 L431.05 141.37 L431.5 141.87 L431.94 142.37 L432.38 142.88 L432.83 143.39 L433.27 143.91 L433.72 144.43 L434.16 144.95 L434.6 145.48 L435.05 146.01 L435.49 146.55 L435.94 147.08 L436.38 147.63 L436.83 148.17 L437.27 148.72 L437.71 149.28 L438.16 149.84 L438.6 150.4 L439.05 150.96 L439.49 151.53 L439.93 152.11 L440.38 152.68 L440.82 153.26 L441.27 153.85 L441.71 154.44 L442.15 155.03 L442.6 155.62 L443.04 156.22 L443.49 156.83 L443.93 157.44 L444.38 158.05 L444.82 158.66 L445.26 159.28 L445.71 159.9 L446.15 160.53 L446.6 161.16 L447.04 161.79 L447.48 162.43 L447.93 163.07 L448.37 163.71 L448.82 164.36 L449.26 165.01 L449.7 165.67 L450.15 166.33 L450.59 166.99 L451.04 167.66 L451.48 168.33 L451.93 169 L452.37 169.68 L452.81 170.36 L453.26 171.04 L453.7 171.73 L454.15 172.42 L454.59 173.11 L455.03 173.81 L455.48 174.51 L455.92 174.51 L456.37 173.81 L456.81 173.11 L457.25 172.42 L457.7 171.73 L458.14 171.04 L458.59 170.36 L459.03 169.68 L459.47 169 L459.92 168.33 L460.36 167.66 L460.81 166.99 L461.25 166.33 L461.7 165.67 L462.14 165.01 L462.58 164.36 L463.03 163.71 L463.47 163.07 L463.92 162.43 L464.36 161.79 L464.8 161.16 L465.25 160.53 L465.69 159.9 L466.14 159.28 L466.58 158.66 L467.02 158.05 L467.47 157.44 L467.91 156.83 L468.36 156.22 L468.8 155.62 L469.25 155.03 L469.69 154.44 L470.13 153.85 L470.58 153.26 L471.02 152.68 L471.47 152.11 L471.91 151.53 L472.35 150.96 L472.8 150.4 L473.24 149.84 L473.69 149.28 L474.13 148.72 L474.57 148.17 L475.02 147.63 L475.46 147.08 L475.91 146.55 L476.35 146.01 L476.8 145.48 L477.24 144.95 L477.68 144.43 L478.13 143.91 L478.57 143.39 L479.02 142.88 L479.46 142.37 L479.9 141.87 L480.35 141.37 L480.79 140.87 L481.24 140.38 L481.68 139.89 L482.12 139.4 L482.57 138.92 L483.01 138.45 L483.46 137.97 L483.9 137.5 L484.35 137.04 L484.79 136.57 L485.23 136.12 L485.68 135.66 L486.12 135.21 L486.57 134.76 L487.01 134.32 L487.45 133.88 L487.9 133.45 L488.34 133.02 L488.79 132.59 L489.23 132.16 L489.67 131.74 L490.12 131.33 L490.56 130.91 L491.01 130.5 L491.45 130.1 L491.89 129.7 L492.34 129.3 L492.78 128.91 L493.23 128.52 L493.67 128.13 L494.12 127.75 L494.56 127.37 L495 126.99 L495.45 126.62 L495.89 126.25 L496.34 125.89 L496.78 125.53 L497.22 125.17 L497.67 124.82 L498.11 124.47 L498.56 124.12 L499 123.78 L499.44 123.44 L499.89 123.11 L500.33 122.78 L500.78 122.45 L501.22 122.13 L501.67 121.81 L502.11 121.49 L502.55 121.18 L503 120.87 L503.44 120.56 L503.89 120.26 L504.33 119.96 L504.77 119.66 L505.22 119.37 L505.66 119.09 L506.11 118.8 L506.55 118.52 L506.99 118.24 L507.44 117.97 L507.88 117.7 L508.33 117.43 L508.77 117.17 L509.22 116.91 L509.66 116.65 L510.1 116.4 L510.55 116.15 L510.99 115.91 L511.44 115.66 L511.88 115.42 L512.32 115.19 L512.77 114.96 L513.21 114.73 L513.66 114.5 L514.1 114.28 L514.54 114.06 L514.99 113.85 L515.43 113.64 L515.88 113.43 L516.32 113.22 L516.77 113.02 L517.21 112.82 L517.65 112.63 L518.1 112.44 L518.54 112.25 L518.99 112.07 L519.43 111.89 L519.87 111.71 L520.32 111.53 L520.76 111.36 L521.21 111.19 L521.65 111.03 L522.09 110.87 L522.54 110.71 L522.98 110.56 L523.43 110.4 L523.87 110.26 L524.32 110.11 L524.76 109.97 L525.2 109.83 L525.65 109.7 L526.09 109.56 L526.54 109.44 L526.98 109.31 L527.42 109.19 L527.87 109.07 L528.31 108.95 L528.76 108.84 L529.2 108.73 L529.64 108.63 L530.09 108.52 L530.53 108.42 L530.98 108.33 L531.42 108.23 L531.86 108.14 L532.31 108.06 L532.75 107.97 L533.2 107.89 L533.64 107.82 L534.09 107.74 L534.53 107.67 L534.97 107.6 L535.42 107.54 L535.86 107.48 L536.31 107.42 L536.75 107.37 L537.19 107.31 L537.64 107.26 L538.08 107.22 L538.53 107.18 L538.97 107.14 L539.41 107.1 L539.86 107.07 L540.3 107.04 L540.75 107.01 L541.19 106.99 L541.64 106.97 L542.08 106.95 L542.52 106.94 L542.97 106.93 L543.41 106.92 L543.86 106.91 L544.3 106.91 L544.56 106.91 L544.81 106.91 L545.07 106.92 L545.32 106.92 L545.58 106.93 L545.84 106.93 L546.09 106.94 L546.35 106.95 L546.6 106.96 L546.86 106.98 L547.11 106.99 L547.37 107.01 L547.63 107.02 L547.88 107.04 L548.14 107.06 L548.39 107.08 L548.65 107.1 L548.91 107.12 L549.16 107.15 L549.42 107.17 L549.67 107.2 L549.93 107.23 L550.19 107.25 L550.44 107.29 L550.7 107.32 L550.95 107.35 L551.21 107.38 L551.46 107.42 L551.72 107.46 L551.98 107.49 L552.23 107.53 L552.49 107.57 L552.74 107.62 L553 107.66 L553.26 107.7 L553.51 107.75 L553.77 107.8 L554.02 107.85 L554.28 107.89 L554.54 107.95 L554.79 108 L555.05 108.05 L555.3 108.1 L555.56 108.16 L555.82 108.22 L556.07 108.28 L556.33 108.34 L556.58 108.4 L556.84 108.46 L557.09 108.52 L557.35 108.58 L557.61 108.65 L557.86 108.72 L558.12 108.79 L558.37 108.85 L558.63 108.92 L558.89 109 L559.14 109.07 L559.4 109.14 L559.65 109.22 L559.91 109.29 L560.17 109.37 L560.42 109.45 L560.68 109.53 L560.93 109.61 L561.19 109.69 L561.44 109.78 L561.7 109.86 L561.96 109.95 L562.21 110.03 L562.47 110.12 L562.72 110.21 L562.98 110.3 L563.24 110.39 L563.49 110.48 L563.75 110.58 L564 110.67 L564.26 110.77 L564.52 110.86 L564.77 110.96 L565.03 111.06 L565.28 111.16 L565.54 111.26 L565.79 111.37 L566.05 111.47 L566.31 111.57 L566.56 111.68 L566.82 111.79 L567.07 111.89 L567.33 112 L567.59 112.11 L567.84 112.22 L568.1 112.33 L568.35 112.45 L568.61 112.56 L568.87 112.67 L569.12 112.79 L569.38 112.91 L569.63 113.02 L569.89 113.14 L570.14 113.26 L570.4 113.38 L570.66 113.51 L570.91 113.63 L571.17 113.75 L571.42 113.88 L571.68 114 L571.94 114.13 L572.19 114.26 L572.45 114.38 L572.7 114.51 L572.96 114.64 L573.22 114.77 L573.47 114.91 L573.73 115.04 L573.98 115.17 L574.24 115.31 L574.49 115.44 L574.75 115.58 L575.01 115.71 L575.26 115.85 L575.52 115.99 L575.77 116.13 L576.03 116.27 L576.29 116.41 L576.54 116.55 L576.8 116.7 L577.05 116.84 L577.31 116.98 L577.57 117.13 L577.82 117.27 L578.08 117.42 L578.33 117.57 L578.59 117.72 L578.85 117.87 L579.1 118.01 L579.36 118.17 L579.61 118.32 L579.87 118.47 L580.12 118.62 L580.38 118.77 L580.64 118.93 L580.89 119.08 L581.15 119.24 L581.4 119.39 L581.66 119.55 L581.92 119.7 L582.17 119.86 L582.43 120.02 L582.68 120.18 L582.94 120.34 L583.2 120.5 L583.45 120.66 L583.71 120.82 L583.96 120.98 L584.22 121.14 L584.47 121.3 L584.73 121.47 L584.99 121.63 L585.24 121.8 L585.5 121.96 L585.75 122.13 L586.01 122.29 L586.27 122.46 L586.52 122.62 L586.78 122.79 L587.03 122.96 L587.29 123.13 L587.55 123.29 L587.8 123.46 L588.06 123.63 L588.31 123.8 L588.57 123.97 L588.82 124.14 L589.08 124.31 L589.34 124.48 L589.59 124.65 L589.85 124.83 L590.1 125 L590.36 125.17 L590.62 125.34 L590.87 125.52 L591.13 125.69 L591.38 125.86 L591.64 126.04 L591.9 126.21 L592.15 126.38 L592.41 126.56 L592.66 126.73 L592.92 126.91 L593.17 127.08 L593.43 127.26 L593.69 127.43 L593.94 127.61 L594.2 127.78 L594.45 127.96 L594.71 128.14 L594.97 128.31 L595.22 128.49 L595.48 128.66 L595.73 128.84 L595.99 129.02 L596.25 129.19 L596.5 129.37 L596.76 129.55 L597.01 129.72 L597.27 129.9 L597.53 130.08 L597.78 130.25 L598.04 130.43 L598.29 130.61 L598.55 130.78 L598.8 130.96 L599.06 131.14 L599.32 131.31 L599.57 131.49 L599.83 131.67 L600.08 131.84 L600.34 132.02 L600.6 132.19 L600.85 132.37 L601.11 132.55 L601.36 132.72 L601.62 132.9 L601.88 133.07 L602.13 133.25 L602.39 133.42 L602.64 133.6 L602.9 133.77 L603.15 133.95 L603.41 134.12 L603.67 134.29 L603.92 134.47 L604.18 134.64 L604.43 134.81 L604.69 134.99 L604.95 135.16 L605.2 135.33 L605.46 135.5 L605.71 135.67 L605.97 135.84 L606.23 136.01 L606.48 136.18 L606.74 136.35 L606.99 136.52 L607.25 136.69 L607.5 136.86 L607.76 137.03 L608.02 137.2 L608.27 137.36 L608.53 137.53 L608.78 137.7 L609.04 137.86 L609.3 138.03 L609.55 138.19 L609.81 138.36 L610.06 138.52 L610.32 138.69 L610.58 138.85 L610.83 139.01 L611.09 139.17 L611.34 139.33 L611.6 139.49 L611.85 139.65 L612.11 139.81 L612.37 139.97 L612.62 140.13 L612.88 140.29 L613.13 140.44 L613.39 140.6 L613.65 140.75 L613.9 140.91 L614.16 141.06 L614.41 141.21 L614.67 141.37 L614.93 141.52 L615.18 141.67 L615.44 141.82 L615.69 141.97 L615.95 142.12 L616.21 142.27 L616.46 142.41 L616.72 142.56 L616.97 142.7 L617.23 142.85 L617.48 142.99 L617.74 143.14 L618 143.28 L618.25 143.42 L618.51 143.56 L618.76 143.7 L619.02 143.84 L619.28 143.97 L619.53 144.11 L619.79 144.25 L620.04 144.38 L620.3 144.52 L620.56 144.65 L620.81 144.78 L621.07 144.91 L621.32 145.04 L621.58 145.17 L621.83 145.3 L622.09 145.43 L622.35 145.55 L622.6 145.68 L622.86 145.8 L623.11 145.92 L623.37 146.05 L623.63 146.17 L623.88 146.29 L624.14 146.4 L624.39 146.52 L624.65 146.64 L624.91 146.75 L625.16 146.87 L625.42 146.98 L625.67 147.09 L625.93 147.2 L626.18 147.31 L626.44 147.42 L626.7 147.53 L626.95 147.63 L627.21 147.74 L627.46 147.84 L627.72 147.95 L627.98 148.05 L628.23 148.15 L628.49 148.25 L628.74 148.34 L629 148.44 L629.26 148.54 L629.51 148.63 L629.77 148.72 L630.02 148.81 L630.28 148.9 L630.53 148.99 L630.79 149.08 L631.05 149.17 L631.3 149.25 L631.56 149.33 L631.81 149.42 L632.07 149.5 L632.33 149.58 L632.58 149.66 L632.84 149.73 L633.09 149.81 L633.35 149.88 L633.61 149.96 L633.86 150.03 L634.12 150.1 L634.37 150.17 L634.63 150.24 L634.88 150.3 L635.14 150.37 L635.4 150.43 L635.65 150.49 L635.91 150.55 L636.16 150.61 L636.42 150.67 L636.68 150.73 L636.93 150.78 L637.19 150.84 L637.44 150.89 L637.7 150.94 L637.96 150.99 L638.21 151.04 L638.47 151.08 L638.72 151.13 L638.98 151.17 L639.24 151.21 L639.49 151.25 L639.75 151.29 L640 151.33 L640.26 151.37 L640.51 151.4 L640.77 151.44 L641.03 151.47 L641.28 151.5 L641.54 151.53 L641.79 151.55 L642.05 151.58 L642.31 151.6 L642.56 151.63 L642.82 151.65 L643.07 151.67 L643.33 151.69 L643.59 151.71 L643.84 151.72 L644.1 151.74 L644.35 151.75 L644.61 151.76 L644.86 151.77 L645.12 151.78 L645.38 151.78 L645.63 151.79 L645.89 151.79 L646.14 151.8 L646.4 151.8 L646.66 151.8 L646.91 151.79 L647.17 151.79 L647.42 151.78 L647.68 151.78 L647.93 151.77 L648.19 151.76 L648.44 151.75 L648.7 151.74 L648.95 151.72 L649.21 151.71 L649.46 151.69 L649.72 151.67 L649.97 151.65 L650.23 151.63 L650.48 151.6 L650.74 151.58 L650.99 151.55 L651.25 151.53 L651.5 151.5 L651.76 151.47 L652.01 151.44 L652.27 151.4 L652.52 151.37 L652.78 151.33 L653.03 151.29 L653.29 151.25 L653.54 151.21 L653.8 151.17 L654.05 151.13 L654.31 151.08 L654.56 151.04 L654.82 150.99 L655.07 150.94 L655.33 150.89 L655.58 150.84 L655.84 150.78 L656.1 150.73 L656.35 150.67 L656.61 150.61 L656.86 150.55 L657.12 150.49 L657.37 150.43 L657.63 150.37 L657.88 150.3 L658.14 150.24 L658.39 150.17 L658.65 150.1 L658.9 150.03 L659.16 149.96 L659.41 149.88 L659.67 149.81 L659.92 149.73 L660.18 149.66 L660.43 149.58 L660.69 149.5 L660.94 149.42 L661.2 149.33 L661.45 149.25 L661.71 149.17 L661.96 149.08 L662.22 148.99 L662.47 148.9 L662.73 148.81 L662.98 148.72 L663.24 148.63 L663.49 148.54 L663.75 148.44 L664 148.34 L664.26 148.25 L664.51 148.15 L664.77 148.05 L665.03 147.95 L665.28 147.84 L665.54 147.74 L665.79 147.63 L666.05 147.53 L666.3 147.42 L666.56 147.31 L666.81 147.2 L667.07 147.09 L667.32 146.98 L667.58 146.87 L667.83 146.75 L668.09 146.64 L668.34 146.52 L668.6 146.4 L668.85 146.29 L669.11 146.17 L669.36 146.05 L669.62 145.92 L669.87 145.8 L670.13 145.68 L670.38 145.55 L670.64 145.43 L670.89 145.3 L671.15 145.17 L671.4 145.04 L671.66 144.91 L671.91 144.78 L672.17 144.65 L672.42 144.52 L672.68 144.38 L672.93 144.25 L673.19 144.11 L673.44 143.97 L673.7 143.84 L673.95 143.7 L674.21 143.56 L674.47 143.42 L674.72 143.28 L674.98 143.14 L675.23 142.99 L675.49 142.85 L675.74 142.7 L676 142.56 L676.25 142.41 L676.51 142.27 L676.76 142.12 L677.02 141.97 L677.27 141.82 L677.53 141.67 L677.78 141.52 L678.04 141.37 L678.29 141.21 L678.55 141.06 L678.8 140.91 L679.06 140.75 L679.31 140.6 L679.57 140.44 L679.82 140.29 L680.08 140.13 L680.33 139.97 L680.59 139.81 L680.84 139.65 L681.1 139.49 L681.35 139.33 L681.61 139.17 L681.86 139.01 L682.12 138.85 L682.37 138.69 L682.63 138.52 L682.88 138.36 L683.14 138.19 L683.39 138.03 L683.65 137.86 L683.91 137.7 L684.16 137.53 L684.42 137.36 L684.67 137.2 L684.93 137.03 L685.18 136.86 L685.44 136.69 L685.69 136.52 L685.95 136.35 L686.2 136.18 L686.46 136.01 L686.71 135.84 L686.97 135.67 L687.22 135.5 L687.48 135.33 L687.73 135.16 L687.99 134.99 L688.24 134.81 L688.5 134.64 L688.75 134.47 L689.01 134.29 L689.26 134.12 L689.52 133.95 L689.77 133.77 L690.03 133.6 L690.28 133.42 L690.54 133.25 L690.79 133.07 L691.05 132.9 L691.3 132.72 L691.56 132.55 L691.81 132.37 L692.07 132.19 L692.32 132.02 L692.58 131.84 L692.84 131.67 L693.09 131.49 L693.35 131.31 L693.6 131.14 L693.86 130.96 L694.11 130.78 L694.37 130.61 L694.62 130.43 L694.88 130.25 L695.13 130.08 L695.39 129.9 L695.64 129.72 L695.9 129.55 L696.15 129.37 L696.41 129.19 L696.66 129.02 L696.92 128.84 L697.17 128.66 L697.43 128.49 L697.68 128.31 L697.94 128.14 L698.19 127.96 L698.45 127.78 L698.7 127.61 L698.96 127.43 L699.21 127.26 L699.47 127.08 L699.72 126.91 L699.98 126.73 L700.23 126.56 L700.49 126.38 L700.74 126.21 L701 126.04 L701.25 125.86 L701.51 125.69 L701.76 125.52 L702.02 125.34 L702.28 125.17 L702.53 125 L702.79 124.83 L703.04 124.65 L703.3 124.48 L703.55 124.31 L703.81 124.14 L704.06 123.97 L704.32 123.8 L704.57 123.63 L704.83 123.46 L705.08 123.29 L705.34 123.13 L705.59 122.96 L705.85 122.79 L706.1 122.62 L706.36 122.46 L706.61 122.29 L706.87 122.13 L707.12 121.96 L707.38 121.8 L707.63 121.63 L707.89 121.47 L708.14 121.3 L708.4 121.14 L708.65 120.98 L708.91 120.82 L709.16 120.66 L709.42 120.5 L709.67 120.34 L709.93 120.18 L710.18 120.02 L710.44 119.86 L710.69 119.7 L710.95 119.55 L711.21 119.39 L711.46 119.24 L711.72 119.08 L711.97 118.93 L712.23 118.77 L712.48 118.62 L712.74 118.47 L712.99 118.32 L713.25 118.17 L713.5 118.01 L713.76 117.87 L714.01 117.72 L714.27 117.57 L714.52 117.42 L714.78 117.27 L715.03 117.13 L715.29 116.98 L715.54 116.84 L715.8 116.7 L716.05 116.55 L716.31 116.41 L716.56 116.27 L716.82 116.13 L717.07 115.99 L717.33 115.85 L717.58 115.71 L717.84 115.58 L718.09 115.44 L718.35 115.31 L718.6 115.17 L718.86 115.04 L719.11 114.91 L719.37 114.77 L719.62 114.64 L719.88 114.51 L720.13 114.38 L720.39 114.26 L720.65 114.13 L720.9 114 L721.16 113.88 L721.41 113.75 L721.67 113.63 L721.92 113.51 L722.18 113.38 L722.43 113.26 L722.69 113.14 L722.94 113.02 L723.2 112.91 L723.45 112.79 L723.71 112.67 L723.96 112.56 L724.22 112.45 L724.47 112.33 L724.73 112.22 L724.98 112.11 L725.24 112 L725.49 111.89 L725.75 111.79 L726 111.68 L726.26 111.57 L726.51 111.47 L726.77 111.37 L727.02 111.26 L727.28 111.16 L727.53 111.06 L727.79 110.96 L728.04 110.86 L728.3 110.77 L728.55 110.67 L728.81 110.58 L729.06 110.48 L729.32 110.39 L729.57 110.3 L729.83 110.21 L730.09 110.12 L730.34 110.03 L730.6 109.95 L730.85 109.86 L731.11 109.78 L731.36 109.69 L731.62 109.61 L731.87 109.53 L732.13 109.45 L732.38 109.37 L732.64 109.29 L732.89 109.22 L733.15 109.14 L733.4 109.07 L733.66 109 L733.91 108.92 L734.17 108.85 L734.42 108.79 L734.68 108.72 L734.93 108.65 L735.19 108.58 L735.44 108.52 L735.7 108.46 L735.95 108.4 L736.21 108.34 L736.46 108.28 L736.72 108.22 L736.97 108.16 L737.23 108.1 L737.48 108.05 L737.74 108 L737.99 107.95 L738.25 107.89 L738.5 107.85 L738.76 107.8 L739.02 107.75 L739.27 107.7 L739.53 107.66 L739.78 107.62 L740.04 107.57 L740.29 107.53 L740.55 107.49 L740.8 107.46 L741.06 107.42 L741.31 107.38 L741.57 107.35 L741.82 107.32 L742.08 107.29 L742.33 107.25 L742.59 107.23 L742.84 107.2 L743.1 107.17 L743.35 107.15 L743.61 107.12 L743.86 107.1 L744.12 107.08 L744.37 107.06 L744.63 107.04 L744.88 107.02 L745.14 107.01 L745.39 106.99 L745.65 106.98 L745.9 106.96 L746.16 106.95 L746.41 106.94 L746.67 106.93 L746.92 106.93 L747.18 106.92 L747.43 106.92 L747.69 106.91 L747.94 106.91 L748.2 106.91" stroke="#ff00ff"/>
</g>
<circle cx="616.1" cy="138.0" r="98.8" fill="#fafafa" stroke="#e0e0e0" stroke-width="1.5"/>
<polygon points="708.8,137.3 662.7,57.45 570.5,57.45 524.4,137.3 570.5,217.15 662.7,217.15" fill="none" stroke="#000" stroke-width="3.9" stroke-linejoin="miter"/>
<polygon points="616.6,84.6 570.96,110.95 570.96,163.65 616.6,190 662.24,163.65 662.24,110.95" fill="none" stroke="#000" stroke-width="3.8" stroke-dasharray="4 3"/>
<line x1="616.6" y1="57.45" x2="616.6" y2="137.3" stroke="#000" stroke-width="1.4"/>
<line x1="616.6" y1="137.3" x2="662.7" y2="137.3" stroke="#000" stroke-width="1.4"/>
<line x1="662.7" y1="137.3" x2="662.7" y2="217.15" stroke="#000" stroke-width="1.4"/>
<line x1="616.6" y1="137.3" x2="662.7" y2="217.15" stroke="#000" stroke-width="1.4"/>
<circle cx="616.6" cy="57.45" r="6.4" fill="#1c4a16"/>
<circle cx="616.6" cy="84.6" r="6.4" fill="#1c4a16"/>
<circle cx="616.6" cy="110.95" r="6.4" fill="#1c4a16"/>
<circle cx="616.6" cy="137.3" r="6.4" fill="#1c4a16"/>
<circle cx="662.7" cy="137.3" r="6.4" fill="#1c4a16"/>
<circle cx="639.65" cy="177.22" r="6.4" fill="#1c4a16"/>
<circle cx="662.7" cy="217.15" r="6.4" fill="#1c4a16"/>
<text x="592.43" y="48.8" style="font-family:'Liberation Serif', 'Times New Roman', serif;font-weight:bold;font-size:35.7px;font-kerning:none" fill="#000" textLength="37.1" lengthAdjust="spacingAndGlyphs">M</text>
<text x="628.05" y="52.23" style="font-family:'Liberation Serif', 'Times New Roman', serif;font-weight:bold;font-size:48px;font-kerning:none" fill="#000" textLength="10.88" lengthAdjust="spacingAndGlyphs">′</text>
<text x="574" y="90.3" style="font-family:'Liberation Serif', 'Times New Roman', serif;font-weight:bold;font-size:35.5px;font-kerning:none" fill="#000" textLength="27.38" lengthAdjust="spacingAndGlyphs">K</text>
<text x="575.17" y="123.7" style="font-family:'Liberation Serif', 'Times New Roman', serif;font-weight:bold;font-size:35px;font-kerning:none" fill="#000" textLength="28.49" lengthAdjust="spacingAndGlyphs">X</text>
<text x="595.01" y="169.7" style="font-family:'Liberation Serif', 'Times New Roman', serif;font-weight:bold;font-size:35.7px;font-kerning:none" fill="#000" textLength="24.37" lengthAdjust="spacingAndGlyphs">Γ</text>
<text x="668.9" y="147.5" style="font-family:'Liberation Serif', 'Times New Roman', serif;font-weight:bold;font-size:35px;font-kerning:none" fill="#000" textLength="33.01" lengthAdjust="spacingAndGlyphs">M</text>
<text x="620.07" y="209.7" style="font-family:'Liberation Serif', 'Times New Roman', serif;font-weight:bold;font-size:35.5px;font-kerning:none" fill="#000" textLength="29.92" lengthAdjust="spacingAndGlyphs">Y</text>
<text x="668.51" y="234.1" style="font-family:'Liberation Serif', 'Times New Roman', serif;font-weight:bold;font-size:35.5px;font-kerning:none" fill="#000" textLength="24.37" lengthAdjust="spacingAndGlyphs">Γ</text>
<text x="690.54" y="238.42" style="font-family:'Liberation Serif', 'Times New Roman', serif;font-weight:bold;font-size:46px;font-kerning:none" fill="#000" textLength="10.51" lengthAdjust="spacingAndGlyphs">′</text>
<g stroke="#000" stroke-width="2" fill="none">
<rect x="88.8" y="12.6" width="659.4" height="440.2"/>
<line x1="88.8" y1="452.8" x2="104.3" y2="452.8"/>
<line x1="748.2" y1="452.8" x2="732.7" y2="452.8"/>
<line x1="88.8" y1="408.78" x2="96.3" y2="408.78"/>
<line x1="748.2" y1="408.78" x2="740.7" y2="408.78"/>
<line x1="88.8" y1="364.76" x2="104.3" y2="364.76"/>
<line x1="748.2" y1="364.76" x2="732.7" y2="364.76"/>
<line x1="88.8" y1="320.74" x2="96.3" y2="320.74"/>
<line x1="748.2" y1="320.74" x2="740.7" y2="320.74"/>
<line x1="88.8" y1="276.72" x2="104.3" y2="276.72"/>
<line x1="748.2" y1="276.72" x2="732.7" y2="276.72"/>
<line x1="88.8" y1="232.7" x2="96.3" y2="232.7"/>
<line x1="748.2" y1="232.7" x2="740.7" y2="232.7"/>
<line x1="88.8" y1="188.68" x2="104.3" y2="188.68"/>
<line x1="748.2" y1="188.68" x2="732.7" y2="188.68"/>
<line x1="88.8" y1="144.66" x2="96.3" y2="144.66"/>
<line x1="748.2" y1="144.66" x2="740.7" y2="144.66"/>
<line x1="88.8" y1="100.64" x2="104.3" y2="100.64"/>
<line x1="748.2" y1="100.64" x2="732.7" y2="100.64"/>
<line x1="88.8" y1="56.62" x2="96.3" y2="56.62"/>
<line x1="748.2" y1="56.62" x2="740.7" y2="56.62"/>
<line x1="88.8" y1="12.6" x2="104.3" y2="12.6"/>
<line x1="748.2" y1="12.6" x2="732.7" y2="12.6"/>
<line x1="265.4" y1="12.6" x2="265.4" y2="15.6"/>
<line x1="265.4" y1="452.8" x2="265.4" y2="449.8"/>
<line x1="367.1" y1="12.6" x2="367.1" y2="15.6"/>
<line x1="367.1" y1="452.8" x2="367.1" y2="449.8"/>
<line x1="544.3" y1="12.6" x2="544.3" y2="15.6"/>
<line x1="544.3" y1="452.8" x2="544.3" y2="449.8"/>
<line x1="646.4" y1="12.6" x2="646.4" y2="15.6"/>
<line x1="646.4" y1="452.8" x2="646.4" y2="449.8"/>
</g>
<text x="54.99" y="466.72" style="font-family:'Liberation Sans', Arial, sans-serif;font-size:38.7px;font-kerning:none" fill="#222" textLength="20.77" lengthAdjust="spacingAndGlyphs">0</text>
<text x="55.35" y="378.67" style="font-family:'Liberation Sans', Arial, sans-serif;font-size:38.7px;font-kerning:none" fill="#222" textLength="20.77" lengthAdjust="spacingAndGlyphs">1</text>
<text x="55.41" y="290.83" style="font-family:'Liberation Sans', Arial, sans-serif;font-size:38.7px;font-kerning:none" fill="#222" textLength="20.77" lengthAdjust="spacingAndGlyphs">2</text>
<text x="55.17" y="202.6" style="font-family:'Liberation Sans', Arial, sans-serif;font-size:38.7px;font-kerning:none" fill="#222" textLength="20.77" lengthAdjust="spacingAndGlyphs">3</text>
<text x="54.62" y="114.55" style="font-family:'Liberation Sans', Arial, sans-serif;font-size:38.7px;font-kerning:none" fill="#222" textLength="20.77" lengthAdjust="spacingAndGlyphs">4</text>
<text x="55.1" y="26.32" style="font-family:'Liberation Sans', Arial, sans-serif;font-size:38.7px;font-kerning:none" fill="#222" textLength="20.77" lengthAdjust="spacingAndGlyphs">5</text>
<text x="369.86" y="57.9" style="font-family:'Liberation Serif', 'Times New Roman', serif;font-style:italic;font-size:41.2px;font-kerning:none" fill="#000" textLength="22.52" lengthAdjust="spacingAndGlyphs">ϑ</text>
<text x="390.5" y="66.71" style="font-family:'Liberation Serif', 'Times New Roman', serif;font-size:60px;font-kerning:none" fill="#000" textLength="15.5" lengthAdjust="spacingAndGlyphs">/</text>
<text x="405.2" y="57.91" style="font-family:'Liberation Serif', 'Times New Roman', serif;font-style:italic;font-size:40px;font-kerning:none" fill="#000" textLength="18.36" lengthAdjust="spacingAndGlyphs">π</text>
<text x="429.51" y="60.22" style="font-family:'Liberation Serif', 'Times New Roman', serif;font-size:38px;font-kerning:none" fill="#000" textLength="32.72" lengthAdjust="spacingAndGlyphs">=</text>
<text x="466.25" y="58.13" style="font-family:'Liberation Serif', 'Times New Roman', serif;font-size:40.5px;font-kerning:none" fill="#000" textLength="71.35" lengthAdjust="spacingAndGlyphs">0.75</text>
<text x="57.68" y="502.55" style="font-family:'Liberation Serif', 'Times New Roman', serif;font-size:42.3px;font-kerning:none" fill="#000" textLength="11.54" lengthAdjust="spacingAndGlyphs">(</text>
<text x="107.88" y="502.55" style="font-family:'Liberation Serif', 'Times New Roman', serif;font-size:42.3px;font-kerning:none" fill="#000" textLength="11.54" lengthAdjust="spacingAndGlyphs">)</text>
<text x="62.9" y="503.8" style="font-family:'Liberation Serif', 'Times New Roman', serif;font-size:40.4px;font-kerning:none" textLength="48.68" lengthAdjust="spacingAndGlyphs">0,1</text>
<text x="235.08" y="502.55" style="font-family:'Liberation Serif', 'Times New Roman', serif;font-size:42.3px;font-kerning:none" fill="#000" textLength="11.54" lengthAdjust="spacingAndGlyphs">(</text>
<text x="284.18" y="502.55" style="font-family:'Liberation Serif', 'Times New Roman', serif;font-size:42.3px;font-kerning:none" fill="#000" textLength="11.54" lengthAdjust="spacingAndGlyphs">)</text>
<text x="240.3" y="503.8" style="font-family:'Liberation Serif', 'Times New Roman', serif;font-size:40.4px;font-kerning:none" textLength="48.68" lengthAdjust="spacingAndGlyphs">0,0</text>
<text x="336.88" y="502.55" style="font-family:'Liberation Serif', 'Times New Roman', serif;font-size:42.3px;font-kerning:none" fill="#000" textLength="11.54" lengthAdjust="spacingAndGlyphs">(</text>
<text x="385.88" y="502.55" style="font-family:'Liberation Serif', 'Times New Roman', serif;font-size:42.3px;font-kerning:none" fill="#000" textLength="11.54" lengthAdjust="spacingAndGlyphs">)</text>
<text x="342.1" y="503.8" style="font-family:'Liberation Serif', 'Times New Roman', serif;font-size:40.4px;font-kerning:none" textLength="48.68" lengthAdjust="spacingAndGlyphs">1,0</text>
<text x="506.38" y="502.55" style="font-family:'Liberation Serif', 'Times New Roman', serif;font-size:42.3px;font-kerning:none" fill="#000" textLength="11.54" lengthAdjust="spacingAndGlyphs">(</text>
<text x="569.98" y="502.55" style="font-family:'Liberation Serif', 'Times New Roman', serif;font-size:42.3px;font-kerning:none" fill="#000" textLength="11.54" lengthAdjust="spacingAndGlyphs">)</text>
<text x="511.6" y="503.8" style="font-family:'Liberation Serif', 'Times New Roman', serif;font-size:40.4px;font-kerning:none" textLength="61.65" lengthAdjust="spacingAndGlyphs">1,-1</text>
<text x="597.18" y="502.55" style="font-family:'Liberation Serif', 'Times New Roman', serif;font-size:42.3px;font-kerning:none" fill="#000" textLength="11.54" lengthAdjust="spacingAndGlyphs">(</text>
<text x="683.98" y="502.55" style="font-family:'Liberation Serif', 'Times New Roman', serif;font-size:42.3px;font-kerning:none" fill="#000" textLength="11.54" lengthAdjust="spacingAndGlyphs">)</text>
<text x="602.4" y="503.8" style="font-family:'Liberation Serif', 'Times New Roman', serif;font-size:40.4px;font-kerning:none" textLength="81.12" lengthAdjust="spacingAndGlyphs">½,-½</text>
<text x="717.28" y="502.55" style="font-family:'Liberation Serif', 'Times New Roman', serif;font-size:42.3px;font-kerning:none" fill="#000" textLength="11.54" lengthAdjust="spacingAndGlyphs">(</text>
<text x="766.58" y="502.55" style="font-family:'Liberation Serif', 'Times New Roman', serif;font-size:42.3px;font-kerning:none" fill="#000" textLength="11.54" lengthAdjust="spacingAndGlyphs">)</text>
<text x="722.5" y="503.8" style="font-family:'Liberation Serif', 'Times New Roman', serif;font-size:40.4px;font-kerning:none" textLength="48.68" lengthAdjust="spacingAndGlyphs">0,0</text>
<text x="62.12" y="546.8" style="font-family:'Liberation Serif', 'Times New Roman', serif;font-weight:bold;font-size:42.4px;font-kerning:none" fill="#000" textLength="43.2" lengthAdjust="spacingAndGlyphs">M</text>
<text x="252.72" y="546.8" style="font-family:'Liberation Serif', 'Times New Roman', serif;font-size:42.4px;font-kerning:none" fill="#000" textLength="23.59" lengthAdjust="spacingAndGlyphs">Γ</text>
<text x="346.02" y="546.8" style="font-family:'Liberation Serif', 'Times New Roman', serif;font-weight:bold;font-size:42.4px;font-kerning:none" fill="#000" textLength="42.89" lengthAdjust="spacingAndGlyphs">M</text>
<text x="526.36" y="546.8" style="font-family:'Liberation Serif', 'Times New Roman', serif;font-size:42.4px;font-kerning:none" fill="#000" textLength="24.93" lengthAdjust="spacingAndGlyphs">Γ</text>
<text x="628.16" y="546.8" style="font-family:'Liberation Serif', 'Times New Roman', serif;font-weight:bold;font-size:42.4px;font-kerning:none" fill="#000" textLength="34.55" lengthAdjust="spacingAndGlyphs">Y</text>
<text x="735.25" y="546.8" style="font-family:'Liberation Serif', 'Times New Roman', serif;font-size:42.4px;font-kerning:none" fill="#000" textLength="25.04" lengthAdjust="spacingAndGlyphs">Γ</text>
<text x="103.83" y="556.7" style="font-family:'Liberation Serif', 'Times New Roman', serif;font-size:62px;font-kerning:none" fill="#000" textLength="11.84" lengthAdjust="spacingAndGlyphs">′</text>
<text x="550.13" y="556.7" style="font-family:'Liberation Serif', 'Times New Roman', serif;font-size:62px;font-kerning:none" fill="#000" textLength="11.84" lengthAdjust="spacingAndGlyphs">′</text>
<g transform="translate(18.9,262.6) rotate(-90)"><text x="-1.29" y="0" style="font-family:'Liberation Serif', 'Times New Roman', serif;font-style:italic;font-size:38.5px;font-kerning:none" textLength="27.39" lengthAdjust="spacingAndGlyphs">ω</text><text x="24.39" y="6.1" style="font-family:'Liberation Serif', 'Times New Roman', serif;font-weight:bold;font-size:27.5px;font-kerning:none" textLength="17.81" lengthAdjust="spacingAndGlyphs">q</text><text x="42.17" y="6.1" style="font-family:'Liberation Serif', 'Times New Roman', serif;font-style:italic;font-size:27.5px;font-kerning:none" textLength="13.93" lengthAdjust="spacingAndGlyphs">v</text></g>
<text x="-1.78" y="29.87" style="font-family:'Liberation Sans', Arial, sans-serif;font-weight:bold;font-size:44px;font-kerning:none" fill="#000" textLength="22.32" lengthAdjust="spacingAndGlyphs">a</text>
<line x1="1046.5" y1="35.6" x2="1046.5" y2="348.1" stroke="#0000ff" stroke-width="7.5" stroke-dasharray="34.6 9.2 16.6 9.2"/>
<g transform="translate(997,153.3) rotate(-90)"><text x="-65.7" y="-0.34" style="font-family:'Liberation Sans', Arial, sans-serif;font-size:35px;font-kerning:none" fill="#000">classical</text></g>
<g transform="translate(1027.5,154.4) rotate(-90)"><text x="-115.25" y="-0.34" style="font-family:'Liberation Sans', Arial, sans-serif;font-size:35px;font-kerning:none" fill="#000">forbidden zone</text></g>
<g stroke="#000" stroke-width="2" fill="none">
<rect x="947.5" y="12.3" width="658.8" height="440.5"/>
<line x1="947.5" y1="452.8" x2="967" y2="452.8"/>
<line x1="1606.3" y1="452.8" x2="1586.8" y2="452.8"/>
<line x1="947.5" y1="431.82" x2="955" y2="431.82"/>
<line x1="1606.3" y1="431.82" x2="1598.8" y2="431.82"/>
<line x1="947.5" y1="410.84" x2="955" y2="410.84"/>
<line x1="1606.3" y1="410.84" x2="1598.8" y2="410.84"/>
<line x1="947.5" y1="389.86" x2="955" y2="389.86"/>
<line x1="1606.3" y1="389.86" x2="1598.8" y2="389.86"/>
<line x1="947.5" y1="368.88" x2="955" y2="368.88"/>
<line x1="1606.3" y1="368.88" x2="1598.8" y2="368.88"/>
<line x1="947.5" y1="347.9" x2="967" y2="347.9"/>
<line x1="1606.3" y1="347.9" x2="1586.8" y2="347.9"/>
<line x1="947.5" y1="326.92" x2="955" y2="326.92"/>
<line x1="1606.3" y1="326.92" x2="1598.8" y2="326.92"/>
<line x1="947.5" y1="305.94" x2="955" y2="305.94"/>
<line x1="1606.3" y1="305.94" x2="1598.8" y2="305.94"/>
<line x1="947.5" y1="284.96" x2="955" y2="284.96"/>
<line x1="1606.3" y1="284.96" x2="1598.8" y2="284.96"/>
<line x1="947.5" y1="263.98" x2="955" y2="263.98"/>
<line x1="1606.3" y1="263.98" x2="1598.8" y2="263.98"/>
<line x1="947.5" y1="243" x2="967" y2="243"/>
<line x1="1606.3" y1="243" x2="1586.8" y2="243"/>
<line x1="947.5" y1="222.02" x2="955" y2="222.02"/>
<line x1="1606.3" y1="222.02" x2="1598.8" y2="222.02"/>
<line x1="947.5" y1="201.04" x2="955" y2="201.04"/>
<line x1="1606.3" y1="201.04" x2="1598.8" y2="201.04"/>
<line x1="947.5" y1="180.06" x2="955" y2="180.06"/>
<line x1="1606.3" y1="180.06" x2="1598.8" y2="180.06"/>
<line x1="947.5" y1="159.08" x2="955" y2="159.08"/>
<line x1="1606.3" y1="159.08" x2="1598.8" y2="159.08"/>
<line x1="947.5" y1="138.1" x2="967" y2="138.1"/>
<line x1="1606.3" y1="138.1" x2="1586.8" y2="138.1"/>
<line x1="947.5" y1="117.12" x2="955" y2="117.12"/>
<line x1="1606.3" y1="117.12" x2="1598.8" y2="117.12"/>
<line x1="947.5" y1="96.14" x2="955" y2="96.14"/>
<line x1="1606.3" y1="96.14" x2="1598.8" y2="96.14"/>
<line x1="947.5" y1="75.16" x2="955" y2="75.16"/>
<line x1="1606.3" y1="75.16" x2="1598.8" y2="75.16"/>
<line x1="947.5" y1="54.18" x2="955" y2="54.18"/>
<line x1="1606.3" y1="54.18" x2="1598.8" y2="54.18"/>
<line x1="947.5" y1="33.2" x2="967" y2="33.2"/>
<line x1="1606.3" y1="33.2" x2="1586.8" y2="33.2"/>
<line x1="947.5" y1="452.8" x2="947.5" y2="436.4"/>
<line x1="947.5" y1="12.3" x2="947.5" y2="28.7"/>
<line x1="980.44" y1="452.8" x2="980.44" y2="445.3"/>
<line x1="980.44" y1="12.3" x2="980.44" y2="19.8"/>
<line x1="1013.38" y1="452.8" x2="1013.38" y2="445.3"/>
<line x1="1013.38" y1="12.3" x2="1013.38" y2="19.8"/>
<line x1="1046.32" y1="452.8" x2="1046.32" y2="445.3"/>
<line x1="1046.32" y1="12.3" x2="1046.32" y2="19.8"/>
<line x1="1079.26" y1="452.8" x2="1079.26" y2="445.3"/>
<line x1="1079.26" y1="12.3" x2="1079.26" y2="19.8"/>
<line x1="1112.2" y1="452.8" x2="1112.2" y2="436.4"/>
<line x1="1112.2" y1="12.3" x2="1112.2" y2="28.7"/>
<line x1="1145.14" y1="452.8" x2="1145.14" y2="445.3"/>
<line x1="1145.14" y1="12.3" x2="1145.14" y2="19.8"/>
<line x1="1178.08" y1="452.8" x2="1178.08" y2="445.3"/>
<line x1="1178.08" y1="12.3" x2="1178.08" y2="19.8"/>
<line x1="1211.02" y1="452.8" x2="1211.02" y2="445.3"/>
<line x1="1211.02" y1="12.3" x2="1211.02" y2="19.8"/>
<line x1="1243.96" y1="452.8" x2="1243.96" y2="445.3"/>
<line x1="1243.96" y1="12.3" x2="1243.96" y2="19.8"/>
<line x1="1276.9" y1="452.8" x2="1276.9" y2="436.4"/>
<line x1="1276.9" y1="12.3" x2="1276.9" y2="28.7"/>
<line x1="1309.84" y1="452.8" x2="1309.84" y2="445.3"/>
<line x1="1309.84" y1="12.3" x2="1309.84" y2="19.8"/>
<line x1="1342.78" y1="452.8" x2="1342.78" y2="445.3"/>
<line x1="1342.78" y1="12.3" x2="1342.78" y2="19.8"/>
<line x1="1375.72" y1="452.8" x2="1375.72" y2="445.3"/>
<line x1="1375.72" y1="12.3" x2="1375.72" y2="19.8"/>
<line x1="1408.66" y1="452.8" x2="1408.66" y2="445.3"/>
<line x1="1408.66" y1="12.3" x2="1408.66" y2="19.8"/>
<line x1="1441.6" y1="452.8" x2="1441.6" y2="436.4"/>
<line x1="1441.6" y1="12.3" x2="1441.6" y2="28.7"/>
<line x1="1474.54" y1="452.8" x2="1474.54" y2="445.3"/>
<line x1="1474.54" y1="12.3" x2="1474.54" y2="19.8"/>
<line x1="1507.48" y1="452.8" x2="1507.48" y2="445.3"/>
<line x1="1507.48" y1="12.3" x2="1507.48" y2="19.8"/>
<line x1="1540.42" y1="452.8" x2="1540.42" y2="445.3"/>
<line x1="1540.42" y1="12.3" x2="1540.42" y2="19.8"/>
<line x1="1573.36" y1="452.8" x2="1573.36" y2="445.3"/>
<line x1="1573.36" y1="12.3" x2="1573.36" y2="19.8"/>
<line x1="1606.3" y1="452.8" x2="1606.3" y2="436.4"/>
<line x1="1606.3" y1="12.3" x2="1606.3" y2="28.7"/>
</g>
<polyline points="1062.79,246.01 1073.66,229.82 1084.53,213.77 1095.4,198.04 1106.27,182.8 1117.14,168.17 1128.01,154.25 1138.88,141.12 1149.75,128.84 1160.62,117.47 1171.49,107.03 1182.36,97.54 1193.23,89.03 1204.1,81.49 1214.97,74.94 1225.84,69.36 1236.71,64.76 1247.58,61.12 1258.45,58.44 1269.32,56.71 1280.19,55.91 1291.06,56.05 1301.93,57.11 1312.8,59.08 1323.67,61.95 1334.55,65.73 1345.42,70.4 1356.29,75.95 1367.16,82.39 1378.03,89.71 1388.9,97.9 1399.77,106.97 1410.64,116.9 1421.51,127.71 1432.38,139.38 1443.25,151.92 1454.12,165.32 1464.99,179.6 1475.86,194.75 1486.73,210.79 1497.6,227.72 1508.47,245.56 1519.34,264.34 1530.21,284.09 1541.08,304.85 1551.95,326.67 1562.82,349.61 1573.69,373.77 1584.56,399.24 1595.43,426.14 1606.3,454.2" fill="none" stroke="#ff0000" stroke-width="3"/>
<polygon points="1062.79,235.61 1052.94,251.21 1072.64,251.21" fill="#fff" stroke="#ff0000" stroke-width="1.7"/>
<polygon points="1073.66,219.42 1063.81,235.02 1083.51,235.02" fill="#fff" stroke="#ff0000" stroke-width="1.7"/>
<polygon points="1084.53,203.37 1074.68,218.97 1094.38,218.97" fill="#fff" stroke="#ff0000" stroke-width="1.7"/>
<polygon points="1095.4,187.64 1085.55,203.24 1105.25,203.24" fill="#fff" stroke="#ff0000" stroke-width="1.7"/>
<polygon points="1106.27,172.4 1096.42,188 1116.12,188" fill="#fff" stroke="#ff0000" stroke-width="1.7"/>
<polygon points="1117.14,157.77 1107.29,173.37 1126.99,173.37" fill="#fff" stroke="#ff0000" stroke-width="1.7"/>
<polygon points="1128.01,143.85 1118.16,159.45 1137.86,159.45" fill="#fff" stroke="#ff0000" stroke-width="1.7"/>
<polygon points="1138.88,130.72 1129.03,146.32 1148.73,146.32" fill="#fff" stroke="#ff0000" stroke-width="1.7"/>
<polygon points="1149.75,118.44 1139.9,134.04 1159.6,134.04" fill="#fff" stroke="#ff0000" stroke-width="1.7"/>
<polygon points="1160.62,107.07 1150.77,122.67 1170.47,122.67" fill="#fff" stroke="#ff0000" stroke-width="1.7"/>
<polygon points="1171.49,96.63 1161.64,112.23 1181.34,112.23" fill="#fff" stroke="#ff0000" stroke-width="1.7"/>
<polygon points="1182.36,87.14 1172.51,102.74 1192.21,102.74" fill="#fff" stroke="#ff0000" stroke-width="1.7"/>
<polygon points="1193.23,78.63 1183.38,94.23 1203.08,94.23" fill="#fff" stroke="#ff0000" stroke-width="1.7"/>
<polygon points="1204.1,71.09 1194.25,86.69 1213.95,86.69" fill="#fff" stroke="#ff0000" stroke-width="1.7"/>
<polygon points="1214.97,64.54 1205.12,80.14 1224.82,80.14" fill="#fff" stroke="#ff0000" stroke-width="1.7"/>
<polygon points="1225.84,58.96 1215.99,74.56 1235.69,74.56" fill="#fff" stroke="#ff0000" stroke-width="1.7"/>
<polygon points="1236.71,54.36 1226.86,69.96 1246.56,69.96" fill="#fff" stroke="#ff0000" stroke-width="1.7"/>
<polygon points="1247.58,50.72 1237.73,66.32 1257.43,66.32" fill="#fff" stroke="#ff0000" stroke-width="1.7"/>
<polygon points="1258.45,48.04 1248.6,63.64 1268.3,63.64" fill="#fff" stroke="#ff0000" stroke-width="1.7"/>
<polygon points="1269.32,46.31 1259.47,61.91 1279.17,61.91" fill="#fff" stroke="#ff0000" stroke-width="1.7"/>
<polygon points="1280.19,45.51 1270.34,61.11 1290.04,61.11" fill="#fff" stroke="#ff0000" stroke-width="1.7"/>
<polygon points="1291.06,45.65 1281.21,61.25 1300.91,61.25" fill="#fff" stroke="#ff0000" stroke-width="1.7"/>
<polygon points="1301.93,46.71 1292.08,62.31 1311.78,62.31" fill="#fff" stroke="#ff0000" stroke-width="1.7"/>
<polygon points="1312.8,48.68 1302.95,64.28 1322.65,64.28" fill="#fff" stroke="#ff0000" stroke-width="1.7"/>
<polygon points="1323.67,51.55 1313.82,67.15 1333.52,67.15" fill="#fff" stroke="#ff0000" stroke-width="1.7"/>
<polygon points="1334.55,55.33 1324.7,70.93 1344.39,70.93" fill="#fff" stroke="#ff0000" stroke-width="1.7"/>
<polygon points="1345.42,60 1335.57,75.6 1355.27,75.6" fill="#fff" stroke="#ff0000" stroke-width="1.7"/>
<polygon points="1356.29,65.55 1346.44,81.15 1366.14,81.15" fill="#fff" stroke="#ff0000" stroke-width="1.7"/>
<polygon points="1367.16,71.99 1357.31,87.59 1377.01,87.59" fill="#fff" stroke="#ff0000" stroke-width="1.7"/>
<polygon points="1378.03,79.31 1368.18,94.91 1387.88,94.91" fill="#fff" stroke="#ff0000" stroke-width="1.7"/>
<polygon points="1388.9,87.5 1379.05,103.1 1398.75,103.1" fill="#fff" stroke="#ff0000" stroke-width="1.7"/>
<polygon points="1399.77,96.57 1389.92,112.17 1409.62,112.17" fill="#fff" stroke="#ff0000" stroke-width="1.7"/>
<polygon points="1410.64,106.5 1400.79,122.1 1420.49,122.1" fill="#fff" stroke="#ff0000" stroke-width="1.7"/>
<polygon points="1421.51,117.31 1411.66,132.91 1431.36,132.91" fill="#fff" stroke="#ff0000" stroke-width="1.7"/>
<polygon points="1432.38,128.98 1422.53,144.58 1442.23,144.58" fill="#fff" stroke="#ff0000" stroke-width="1.7"/>
<polygon points="1443.25,141.52 1433.4,157.12 1453.1,157.12" fill="#fff" stroke="#ff0000" stroke-width="1.7"/>
<polygon points="1454.12,154.92 1444.27,170.52 1463.97,170.52" fill="#fff" stroke="#ff0000" stroke-width="1.7"/>
<polygon points="1464.99,169.2 1455.14,184.8 1474.84,184.8" fill="#fff" stroke="#ff0000" stroke-width="1.7"/>
<polygon points="1475.86,184.35 1466.01,199.95 1485.71,199.95" fill="#fff" stroke="#ff0000" stroke-width="1.7"/>
<polygon points="1486.73,200.39 1476.88,215.99 1496.58,215.99" fill="#fff" stroke="#ff0000" stroke-width="1.7"/>
<polygon points="1497.6,217.32 1487.75,232.92 1507.45,232.92" fill="#fff" stroke="#ff0000" stroke-width="1.7"/>
<polygon points="1508.47,235.16 1498.62,250.76 1518.32,250.76" fill="#fff" stroke="#ff0000" stroke-width="1.7"/>
<polygon points="1519.34,253.94 1509.49,269.54 1529.19,269.54" fill="#fff" stroke="#ff0000" stroke-width="1.7"/>
<polygon points="1530.21,273.69 1520.36,289.29 1540.06,289.29" fill="#fff" stroke="#ff0000" stroke-width="1.7"/>
<polygon points="1541.08,294.45 1531.23,310.05 1550.93,310.05" fill="#fff" stroke="#ff0000" stroke-width="1.7"/>
<polygon points="1551.95,316.27 1542.1,331.87 1561.8,331.87" fill="#fff" stroke="#ff0000" stroke-width="1.7"/>
<polygon points="1562.82,339.21 1552.97,354.81 1572.67,354.81" fill="#fff" stroke="#ff0000" stroke-width="1.7"/>
<polygon points="1573.69,363.37 1563.84,378.97 1583.54,378.97" fill="#fff" stroke="#ff0000" stroke-width="1.7"/>
<polygon points="1584.56,388.84 1574.71,404.44 1594.41,404.44" fill="#fff" stroke="#ff0000" stroke-width="1.7"/>
<polygon points="1595.43,415.74 1585.58,431.34 1605.28,431.34" fill="#fff" stroke="#ff0000" stroke-width="1.7"/>
<polygon points="1606.3,443.8 1596.45,459.4 1616.15,459.4" fill="#fff" stroke="#ff0000" stroke-width="1.7"/>
<polygon points="1194.7,70.4 1209.86,96.65 1179.54,96.65" fill="#000"/>
<polygon points="1194.7,105.4 1179.54,79.15 1209.86,79.15" fill="#000"/>
<text x="883.14" y="466.82" style="font-family:'Liberation Sans', Arial, sans-serif;font-size:38.7px;font-kerning:none" fill="#222" textLength="51.92" lengthAdjust="spacingAndGlyphs">0.0</text>
<text x="883.25" y="361.92" style="font-family:'Liberation Sans', Arial, sans-serif;font-size:38.7px;font-kerning:none" fill="#222" textLength="51.92" lengthAdjust="spacingAndGlyphs">0.5</text>
<text x="883.14" y="257.02" style="font-family:'Liberation Sans', Arial, sans-serif;font-size:38.7px;font-kerning:none" fill="#222" textLength="51.92" lengthAdjust="spacingAndGlyphs">1.0</text>
<text x="883.25" y="151.92" style="font-family:'Liberation Sans', Arial, sans-serif;font-size:38.7px;font-kerning:none" fill="#222" textLength="51.92" lengthAdjust="spacingAndGlyphs">1.5</text>
<text x="883.14" y="47.22" style="font-family:'Liberation Sans', Arial, sans-serif;font-size:38.7px;font-kerning:none" fill="#222" textLength="51.92" lengthAdjust="spacingAndGlyphs">2.0</text>
<text x="921.63" y="502.52" style="font-family:'Liberation Sans', Arial, sans-serif;font-size:38.7px;font-kerning:none" fill="#222" textLength="51.92" lengthAdjust="spacingAndGlyphs">0.6</text>
<text x="1086.45" y="502.52" style="font-family:'Liberation Sans', Arial, sans-serif;font-size:38.7px;font-kerning:none" fill="#222" textLength="51.92" lengthAdjust="spacingAndGlyphs">0.7</text>
<text x="1251.02" y="502.52" style="font-family:'Liberation Sans', Arial, sans-serif;font-size:38.7px;font-kerning:none" fill="#222" textLength="51.92" lengthAdjust="spacingAndGlyphs">0.8</text>
<text x="1415.8" y="502.52" style="font-family:'Liberation Sans', Arial, sans-serif;font-size:38.7px;font-kerning:none" fill="#222" textLength="51.92" lengthAdjust="spacingAndGlyphs">0.9</text>
<text x="1579.65" y="502.52" style="font-family:'Liberation Sans', Arial, sans-serif;font-size:38.7px;font-kerning:none" fill="#222" textLength="51.92" lengthAdjust="spacingAndGlyphs">1.0</text>
<text x="1241.87" y="545.19" style="font-family:'Liberation Serif', 'Times New Roman', serif;font-style:italic;font-size:41.5px;font-kerning:none" fill="#000" textLength="21.32" lengthAdjust="spacingAndGlyphs">ϑ</text>
<text x="1269" y="554.45" style="font-family:'Liberation Serif', 'Times New Roman', serif;font-size:60px;font-kerning:none" fill="#000" textLength="15.2" lengthAdjust="spacingAndGlyphs">/</text>
<text x="1287.67" y="545.21" style="font-family:'Liberation Serif', 'Times New Roman', serif;font-style:italic;font-size:40px;font-kerning:none" fill="#000" textLength="21.06" lengthAdjust="spacingAndGlyphs">π</text>
<g transform="translate(870.4,283.5) rotate(-90)"><text x="-3.91" y="0" style="font-family:'Liberation Serif', 'Times New Roman', serif;font-size:40px;font-kerning:none" textLength="44.51" lengthAdjust="spacingAndGlyphs">10</text><text x="38.94" y="-16.2" style="font-family:'Liberation Serif', 'Times New Roman', serif;font-size:21.5px;font-kerning:none" textLength="12.1" lengthAdjust="spacingAndGlyphs">2</text><text x="60.54" y="0" style="font-family:'Liberation Serif', 'Times New Roman', serif;font-style:italic;font-size:40px;font-kerning:none" textLength="16.78" lengthAdjust="spacingAndGlyphs">δ</text><text x="74.58" y="0" style="font-family:'Liberation Serif', 'Times New Roman', serif;font-style:italic;font-size:40.5px;font-kerning:none" textLength="30.02" lengthAdjust="spacingAndGlyphs">E</text></g>
<text x="832.05" y="34.67" style="font-family:'Liberation Sans', Arial, sans-serif;font-weight:bold;font-size:44px;font-kerning:none" fill="#000" textLength="29.21" lengthAdjust="spacingAndGlyphs">b</text>
<line x1="987.5" y1="417.7" x2="1030.1" y2="347.7" stroke="#000" stroke-width="1.3"/>
<line x1="987.5" y1="417.7" x2="987.5" y2="345" stroke="#000" stroke-width="2.6"/>
<line x1="987.5" y1="417.7" x2="1058" y2="417.7" stroke="#000" stroke-width="2.6"/>
<path d="M987.5 333.3 L996.8 363.6 L987.5 357 L978.2 363.6 Z" fill="#000"/>
<path d="M1071 417.7 L1041.6 427 L1047.5 417.7 L1041.6 408.4 Z" fill="#000"/>
<circle cx="987.5" cy="417.7" r="2.6" fill="#000"/>
<text x="1013.88" y="398.09" style="font-family:'Liberation Serif', 'Times New Roman', serif;font-style:italic;font-size:34px;font-kerning:none" fill="#000" textLength="20.65" lengthAdjust="spacingAndGlyphs">ϕ</text>
<text x="973.07" y="319.88" style="font-family:'Liberation Serif', 'Times New Roman', serif;font-weight:bold;font-size:43px;font-kerning:none" fill="#000" textLength="27.76" lengthAdjust="spacingAndGlyphs">b</text>
<text x="977.9" y="310.01" style="font-family:'Liberation Serif', 'Times New Roman', serif;font-weight:bold;font-size:45px;font-kerning:none" fill="#000" textLength="16.55" lengthAdjust="spacingAndGlyphs">˜</text>
<text x="1078.76" y="428.28" style="font-family:'Liberation Serif', 'Times New Roman', serif;font-weight:bold;font-size:43px;font-kerning:none" fill="#000" textLength="25.52" lengthAdjust="spacingAndGlyphs">a</text>
<text x="1083" y="429.31" style="font-family:'Liberation Serif', 'Times New Roman', serif;font-weight:bold;font-size:45px;font-kerning:none" fill="#000" textLength="16.75" lengthAdjust="spacingAndGlyphs">˜</text>
<rect x="1201.9" y="175.9" width="248.8" height="173" fill="#fff" stroke="none"/>
<polyline points="1201.9,196.7 1205.01,198.21 1208.12,200.72 1211.23,205.34 1214.34,211.17 1217.45,218.42 1220.56,226.83 1223.67,235.05 1226.78,243.4 1229.89,251.64 1233,260.33 1236.11,269.73 1239.22,278.79 1242.33,287.42 1245.44,295.93 1248.55,304.33 1251.66,313.21 1254.77,322.59 1257.88,330.58 1260.99,337.1 1264.1,339.5 1267.21,337.1 1270.32,330.58 1273.43,322.59 1276.54,313.21 1279.65,304.33 1282.76,295.93 1285.87,287.42 1288.98,278.79 1292.09,269.73 1295.2,260.33 1298.31,251.64 1301.42,243.4 1304.53,235.05 1307.64,226.83 1310.75,218.42 1313.86,211.17 1316.97,205.34 1320.08,200.72 1323.19,198.21 1326.3,196.7 1329.41,198.21 1332.52,200.72 1335.63,205.34 1338.74,211.17 1341.85,218.42 1344.96,226.83 1348.07,235.05 1351.18,243.4 1354.29,251.64 1357.4,260.33 1360.51,269.73 1363.62,278.79 1366.73,287.42 1369.84,295.93 1372.95,304.33 1376.06,313.21 1379.17,322.59 1382.28,330.58 1385.39,337.1 1388.5,339.5 1391.61,337.1 1394.72,330.58 1397.83,322.59 1400.94,313.21 1404.05,304.33 1407.16,295.93 1410.27,287.42 1413.38,278.79 1416.49,269.73 1419.6,260.33 1422.71,251.64 1425.82,243.4 1428.93,235.05 1432.04,226.83 1435.15,218.42 1438.26,211.17 1441.37,205.34 1444.48,200.72 1447.59,198.21 1450.7,196.7" fill="none" stroke="#000" stroke-width="2.6" stroke-linejoin="round"/>
<g stroke="#000" stroke-width="2" fill="none">
<rect x="1201.9" y="175.9" width="248.8" height="173"/>
<line x1="1201.9" y1="348.9" x2="1201.9" y2="336.9"/>
<line x1="1201.9" y1="175.9" x2="1201.9" y2="187.9"/>
<line x1="1214.34" y1="348.9" x2="1214.34" y2="343.4"/>
<line x1="1214.34" y1="175.9" x2="1214.34" y2="181.4"/>
<line x1="1226.78" y1="348.9" x2="1226.78" y2="343.4"/>
<line x1="1226.78" y1="175.9" x2="1226.78" y2="181.4"/>
<line x1="1239.22" y1="348.9" x2="1239.22" y2="343.4"/>
<line x1="1239.22" y1="175.9" x2="1239.22" y2="181.4"/>
<line x1="1251.66" y1="348.9" x2="1251.66" y2="343.4"/>
<line x1="1251.66" y1="175.9" x2="1251.66" y2="181.4"/>
<line x1="1264.1" y1="348.9" x2="1264.1" y2="336.9"/>
<line x1="1264.1" y1="175.9" x2="1264.1" y2="187.9"/>
<line x1="1276.54" y1="348.9" x2="1276.54" y2="343.4"/>
<line x1="1276.54" y1="175.9" x2="1276.54" y2="181.4"/>
<line x1="1288.98" y1="348.9" x2="1288.98" y2="343.4"/>
<line x1="1288.98" y1="175.9" x2="1288.98" y2="181.4"/>
<line x1="1301.42" y1="348.9" x2="1301.42" y2="343.4"/>
<line x1="1301.42" y1="175.9" x2="1301.42" y2="181.4"/>
<line x1="1313.86" y1="348.9" x2="1313.86" y2="343.4"/>
<line x1="1313.86" y1="175.9" x2="1313.86" y2="181.4"/>
<line x1="1326.3" y1="348.9" x2="1326.3" y2="336.9"/>
<line x1="1326.3" y1="175.9" x2="1326.3" y2="187.9"/>
<line x1="1338.74" y1="348.9" x2="1338.74" y2="343.4"/>
<line x1="1338.74" y1="175.9" x2="1338.74" y2="181.4"/>
<line x1="1351.18" y1="348.9" x2="1351.18" y2="343.4"/>
<line x1="1351.18" y1="175.9" x2="1351.18" y2="181.4"/>
<line x1="1363.62" y1="348.9" x2="1363.62" y2="343.4"/>
<line x1="1363.62" y1="175.9" x2="1363.62" y2="181.4"/>
<line x1="1376.06" y1="348.9" x2="1376.06" y2="343.4"/>
<line x1="1376.06" y1="175.9" x2="1376.06" y2="181.4"/>
<line x1="1388.5" y1="348.9" x2="1388.5" y2="336.9"/>
<line x1="1388.5" y1="175.9" x2="1388.5" y2="187.9"/>
<line x1="1400.94" y1="348.9" x2="1400.94" y2="343.4"/>
<line x1="1400.94" y1="175.9" x2="1400.94" y2="181.4"/>
<line x1="1413.38" y1="348.9" x2="1413.38" y2="343.4"/>
<line x1="1413.38" y1="175.9" x2="1413.38" y2="181.4"/>
<line x1="1425.82" y1="348.9" x2="1425.82" y2="343.4"/>
<line x1="1425.82" y1="175.9" x2="1425.82" y2="181.4"/>
<line x1="1438.26" y1="348.9" x2="1438.26" y2="343.4"/>
<line x1="1438.26" y1="175.9" x2="1438.26" y2="181.4"/>
<line x1="1450.7" y1="348.9" x2="1450.7" y2="336.9"/>
<line x1="1450.7" y1="175.9" x2="1450.7" y2="187.9"/>
<line x1="1201.9" y1="175.2" x2="1213.9" y2="175.2"/>
<line x1="1450.7" y1="175.2" x2="1438.7" y2="175.2"/>
<line x1="1201.9" y1="191.72" x2="1207.4" y2="191.72"/>
<line x1="1450.7" y1="191.72" x2="1445.2" y2="191.72"/>
<line x1="1201.9" y1="208.24" x2="1207.4" y2="208.24"/>
<line x1="1450.7" y1="208.24" x2="1445.2" y2="208.24"/>
<line x1="1201.9" y1="224.76" x2="1207.4" y2="224.76"/>
<line x1="1450.7" y1="224.76" x2="1445.2" y2="224.76"/>
<line x1="1201.9" y1="241.28" x2="1207.4" y2="241.28"/>
<line x1="1450.7" y1="241.28" x2="1445.2" y2="241.28"/>
<line x1="1201.9" y1="257.8" x2="1213.9" y2="257.8"/>
<line x1="1450.7" y1="257.8" x2="1438.7" y2="257.8"/>
<line x1="1201.9" y1="274.32" x2="1207.4" y2="274.32"/>
<line x1="1450.7" y1="274.32" x2="1445.2" y2="274.32"/>
<line x1="1201.9" y1="290.84" x2="1207.4" y2="290.84"/>
<line x1="1450.7" y1="290.84" x2="1445.2" y2="290.84"/>
<line x1="1201.9" y1="307.36" x2="1207.4" y2="307.36"/>
<line x1="1450.7" y1="307.36" x2="1445.2" y2="307.36"/>
<line x1="1201.9" y1="323.88" x2="1207.4" y2="323.88"/>
<line x1="1450.7" y1="323.88" x2="1445.2" y2="323.88"/>
<line x1="1201.9" y1="340.4" x2="1213.9" y2="340.4"/>
<line x1="1450.7" y1="340.4" x2="1438.7" y2="340.4"/>
</g>
<text x="1135.5" y="187.69" style="font-family:'Liberation Sans', Arial, sans-serif;font-size:33px;font-kerning:none" fill="#222" textLength="54.02" lengthAdjust="spacingAndGlyphs">-4.5</text>
<text x="1135.5" y="270.29" style="font-family:'Liberation Sans', Arial, sans-serif;font-size:33px;font-kerning:none" fill="#222" textLength="54.02" lengthAdjust="spacingAndGlyphs">-5.5</text>
<text x="1135.5" y="353.06" style="font-family:'Liberation Sans', Arial, sans-serif;font-size:33px;font-kerning:none" fill="#222" textLength="54.02" lengthAdjust="spacingAndGlyphs">-6.5</text>
<text x="1180.22" y="392.24" style="font-family:'Liberation Sans', Arial, sans-serif;font-size:33px;font-kerning:none" fill="#222" textLength="43.35" lengthAdjust="spacingAndGlyphs">0.0</text>
<text x="1242.47" y="392.24" style="font-family:'Liberation Sans', Arial, sans-serif;font-size:33px;font-kerning:none" fill="#222" textLength="43.35" lengthAdjust="spacingAndGlyphs">0.5</text>
<text x="1304.05" y="392.24" style="font-family:'Liberation Sans', Arial, sans-serif;font-size:33px;font-kerning:none" fill="#222" textLength="43.35" lengthAdjust="spacingAndGlyphs">1.0</text>
<text x="1366.29" y="391.9" style="font-family:'Liberation Sans', Arial, sans-serif;font-size:33px;font-kerning:none" fill="#222" textLength="43.35" lengthAdjust="spacingAndGlyphs">1.5</text>
<text x="1428.85" y="392.24" style="font-family:'Liberation Sans', Arial, sans-serif;font-size:33px;font-kerning:none" fill="#222" textLength="43.35" lengthAdjust="spacingAndGlyphs">2.0</text>
<text x="1294.01" y="423.32" style="font-family:'Liberation Serif', 'Times New Roman', serif;font-style:italic;font-size:36.2px;font-kerning:none" fill="#000" textLength="22.3" lengthAdjust="spacingAndGlyphs">ϕ</text>
<text x="1317" y="432.25" style="font-family:'Liberation Serif', 'Times New Roman', serif;font-size:55px;font-kerning:none" fill="#000" textLength="15.8" lengthAdjust="spacingAndGlyphs">/</text>
<text x="1335.28" y="424.17" style="font-family:'Liberation Serif', 'Times New Roman', serif;font-style:italic;font-size:34px;font-kerning:none" fill="#000" textLength="20.48" lengthAdjust="spacingAndGlyphs">π</text>
<text x="1246.96" y="160.02" style="font-family:'Liberation Serif', 'Times New Roman', serif;font-style:italic;font-size:39.2px;font-kerning:none" fill="#000" textLength="21.42" lengthAdjust="spacingAndGlyphs">ϑ</text>
<text x="1266" y="168.21" style="font-family:'Liberation Serif', 'Times New Roman', serif;font-size:56px;font-kerning:none" fill="#000" textLength="14.6" lengthAdjust="spacingAndGlyphs">/</text>
<text x="1277.09" y="160.03" style="font-family:'Liberation Serif', 'Times New Roman', serif;font-style:italic;font-size:38px;font-kerning:none" fill="#000" textLength="19.81" lengthAdjust="spacingAndGlyphs">π</text>
<text x="1302.36" y="162.25" style="font-family:'Liberation Serif', 'Times New Roman', serif;font-size:36px;font-kerning:none" fill="#000" textLength="31.03" lengthAdjust="spacingAndGlyphs">=</text>
<text x="1336.03" y="160.44" style="font-family:'Liberation Serif', 'Times New Roman', serif;font-size:39.5px;font-kerning:none" fill="#000" textLength="67.47" lengthAdjust="spacingAndGlyphs">0.75</text>
<g transform="translate(1129.3,304.3) rotate(-90)"><text x="-2.76" y="0" style="font-family:'Liberation Serif', 'Times New Roman', serif;font-size:32px;font-kerning:none" textLength="31.35" lengthAdjust="spacingAndGlyphs">10</text><text x="27.57" y="-12.8" style="font-family:'Liberation Serif', 'Times New Roman', serif;font-size:17px;font-kerning:none" textLength="9.48" lengthAdjust="spacingAndGlyphs">2</text><text x="40.85" y="0" style="font-family:'Liberation Serif', 'Times New Roman', serif;font-size:33px;font-kerning:none" textLength="27.88" lengthAdjust="spacingAndGlyphs">Δ</text><text x="62.86" y="0" style="font-family:'Liberation Serif', 'Times New Roman', serif;font-style:italic;font-size:32px;font-kerning:none" textLength="23.87" lengthAdjust="spacingAndGlyphs">E</text></g>
</svg></body></html>
